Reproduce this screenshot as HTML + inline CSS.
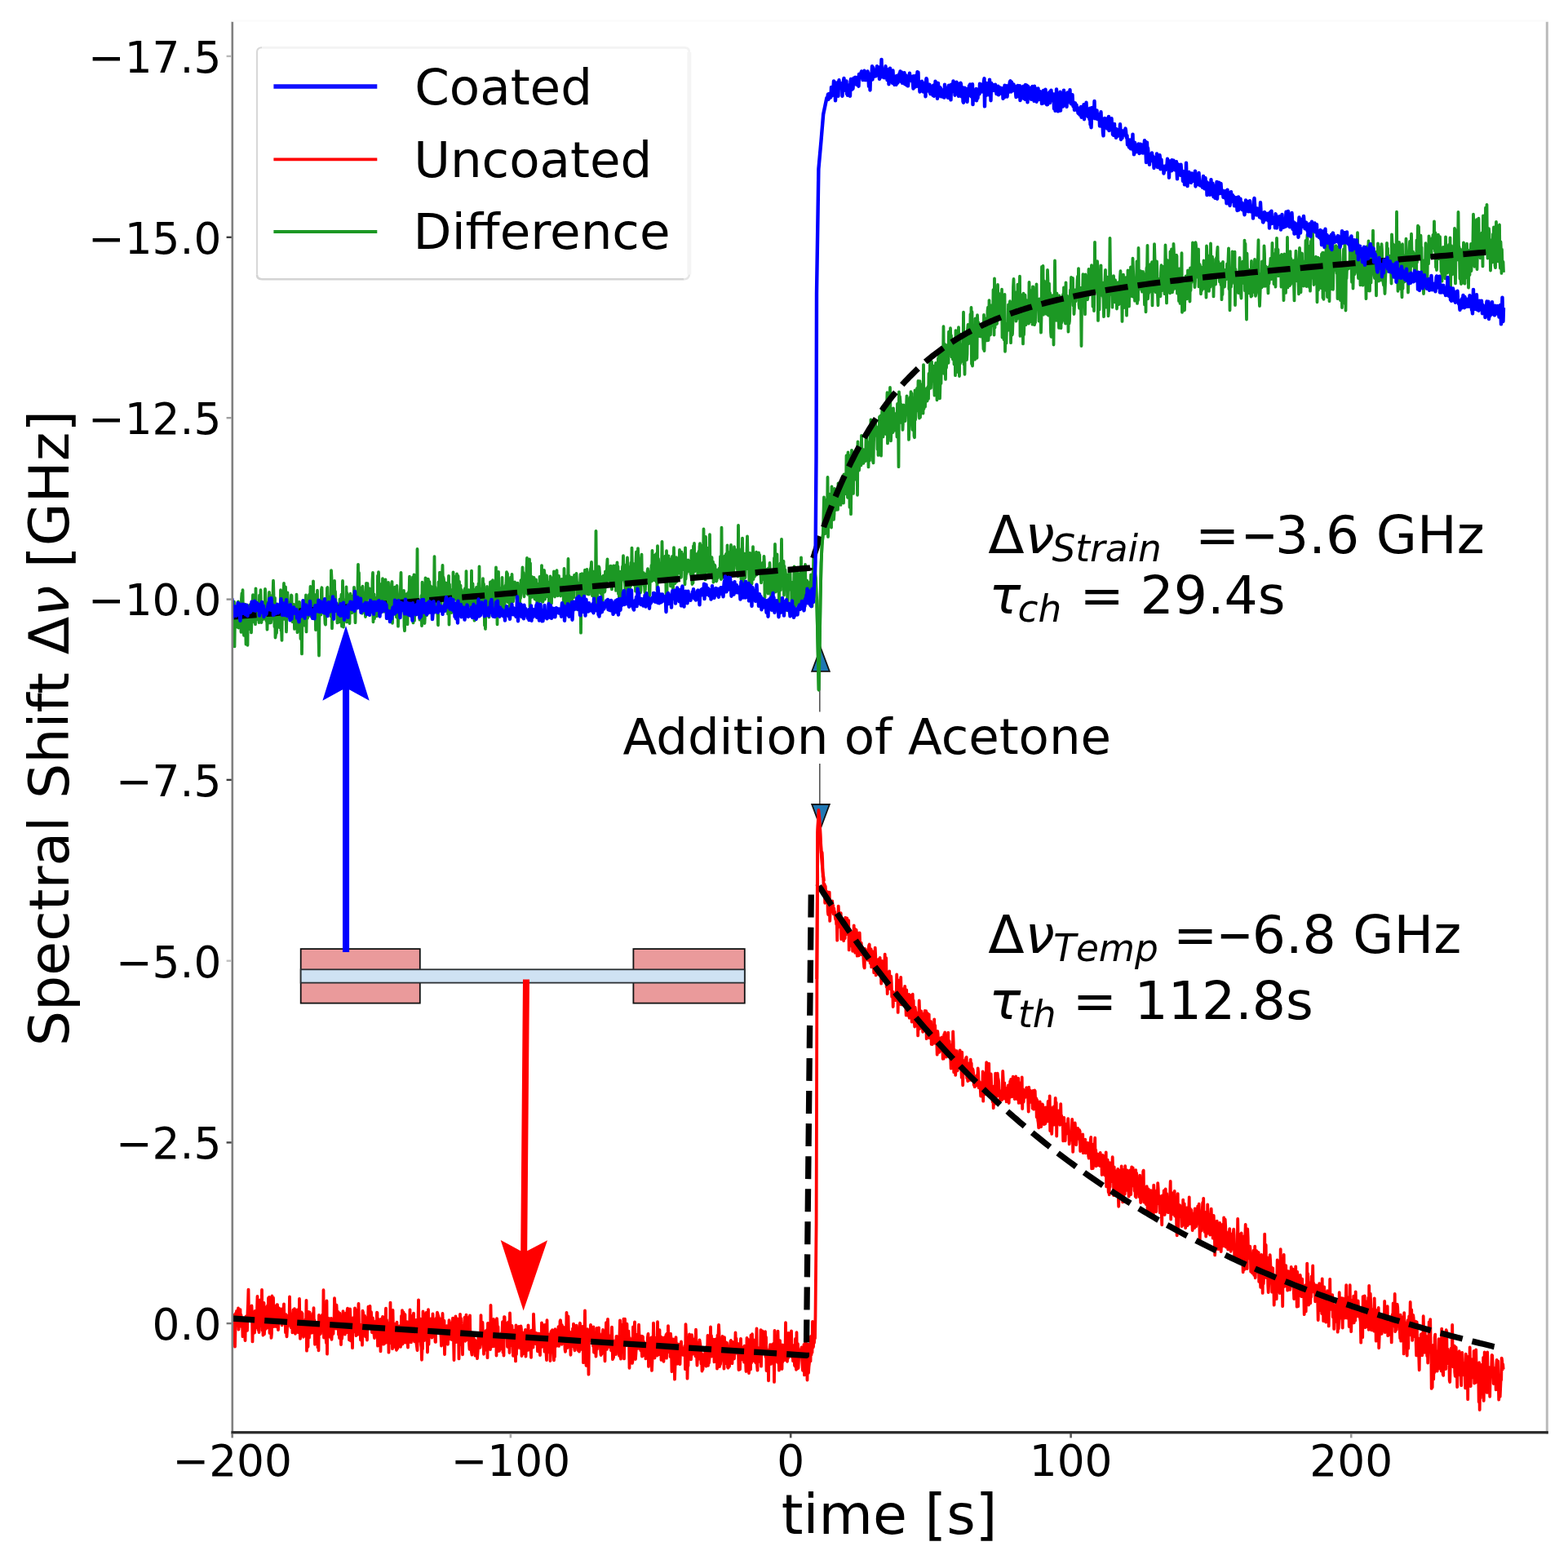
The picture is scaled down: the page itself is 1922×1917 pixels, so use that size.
<!DOCTYPE html>
<html lang="en"><head><meta charset="utf-8"><title>Spectral shift vs time</title>
<style>html,body{margin:0;padding:0;background:#fff;}svg{display:block;}text{font-family:"DejaVu Sans","Liberation Sans",sans-serif;fill:#000;}.it{font-style:italic;}</style></head><body>
<svg width="1922" height="1917" viewBox="0 0 1922 1917">
<rect width="1922" height="1917" fill="#fff"/>
<defs><clipPath id="ax"><rect x="284.8" y="26.5" width="1611.5" height="1729.2"/></clipPath></defs>
<g clip-path="url(#ax)" fill="none" stroke-linejoin="round">
<polyline stroke="#ff0000" stroke-width="3.8" points="280.0,1624.8 280.5,1601.0 281.0,1639.7 281.5,1643.1 282.0,1629.4 282.5,1616.6 283.0,1608.7 283.5,1616.8 284.0,1597.3 284.5,1630.4 285.0,1630.6 285.5,1611.3 286.0,1645.9 286.5,1635.0 287.0,1643.6 287.5,1630.7 288.0,1650.6 288.5,1629.0 289.0,1609.6 289.5,1624.6 290.0,1606.9 290.5,1609.6 291.0,1621.5 291.5,1607.3 292.0,1603.5 292.5,1629.6 293.0,1618.9 293.5,1620.5 294.0,1625.2 294.5,1605.2 295.0,1625.5 295.5,1611.7 296.0,1626.0 296.5,1624.5 297.0,1619.5 297.5,1638.1 298.0,1620.0 298.5,1626.1 299.0,1620.0 299.5,1622.6 300.0,1633.7 300.5,1643.2 301.0,1619.8 301.5,1613.4 302.0,1613.4 302.5,1615.8 303.0,1630.9 303.5,1608.9 304.0,1598.3 304.5,1580.6 305.0,1613.1 305.5,1614.6 306.0,1608.8 306.5,1610.5 307.0,1612.2 307.5,1602.9 308.0,1612.6 308.5,1600.5 309.0,1611.2 309.5,1644.4 310.0,1622.2 310.5,1615.7 311.0,1614.1 311.5,1615.9 312.0,1633.6 312.5,1607.0 313.0,1617.4 313.5,1612.3 314.0,1627.2 314.5,1619.5 315.0,1605.6 315.5,1589.0 316.0,1623.5 316.5,1630.1 317.0,1606.6 317.5,1633.0 318.0,1597.0 318.5,1598.7 319.0,1593.5 319.5,1623.8 320.0,1612.9 320.5,1626.0 321.0,1581.0 321.5,1630.6 322.0,1615.7 322.5,1636.6 323.0,1622.3 323.5,1596.8 324.0,1635.2 324.5,1614.9 325.0,1629.8 325.5,1602.4 326.0,1621.0 326.5,1627.3 327.0,1627.7 327.5,1624.2 328.0,1600.1 328.5,1612.4 329.0,1591.0 329.5,1617.0 330.0,1589.9 330.5,1633.9 331.0,1602.1 331.5,1621.9 332.0,1599.0 332.5,1639.9 333.0,1634.4 333.5,1588.5 334.0,1591.3 334.5,1615.9 335.0,1590.7 335.5,1609.9 336.0,1626.0 336.5,1600.6 337.0,1605.8 337.5,1607.0 338.0,1614.7 338.5,1626.2 339.0,1622.9 339.5,1599.1 340.0,1599.1 340.5,1616.3 341.0,1630.2 341.5,1607.6 342.0,1603.4 342.5,1610.0 343.0,1612.2 343.5,1617.7 344.0,1612.2 344.5,1617.8 345.0,1604.5 345.5,1624.3 346.0,1621.5 346.5,1620.1 347.0,1615.9 347.5,1606.6 348.0,1598.4 348.5,1617.4 349.0,1611.2 349.5,1611.0 350.0,1633.3 350.5,1611.2 351.0,1631.7 351.5,1638.4 352.0,1629.3 352.5,1612.9 353.0,1625.0 353.5,1615.3 354.0,1622.4 354.5,1623.3 355.0,1589.5 355.5,1617.5 356.0,1622.4 356.5,1627.0 357.0,1624.6 357.5,1622.7 358.0,1618.2 358.5,1633.4 359.0,1611.6 359.5,1605.5 360.0,1619.2 360.5,1616.2 361.0,1604.2 361.5,1629.1 362.0,1634.8 362.5,1622.0 363.0,1620.1 363.5,1622.2 364.0,1630.3 364.5,1605.4 365.0,1618.2 365.5,1633.2 366.0,1607.0 366.5,1626.5 367.0,1591.9 367.5,1630.2 368.0,1640.8 368.5,1630.0 369.0,1627.3 369.5,1608.5 370.0,1609.8 370.5,1609.9 371.0,1635.4 371.5,1621.2 372.0,1638.8 372.5,1621.7 373.0,1633.1 373.5,1630.3 374.0,1622.6 374.5,1617.1 375.0,1632.7 375.5,1593.8 376.0,1655.7 376.5,1617.8 377.0,1631.6 377.5,1650.8 378.0,1607.8 378.5,1613.0 379.0,1639.4 379.5,1608.3 380.0,1623.5 380.5,1624.0 381.0,1628.9 381.5,1623.4 382.0,1633.8 382.5,1616.6 383.0,1626.3 383.5,1609.8 384.0,1633.4 384.5,1603.1 385.0,1631.9 385.5,1618.2 386.0,1647.8 386.5,1632.9 387.0,1635.7 387.5,1621.8 388.0,1634.2 388.5,1641.2 389.0,1636.5 389.5,1651.4 390.0,1630.2 390.5,1655.3 391.0,1612.0 391.5,1623.8 392.0,1627.3 392.5,1625.4 393.0,1635.0 393.5,1623.8 394.0,1613.2 394.5,1623.9 395.0,1611.6 395.5,1627.5 396.0,1630.8 396.5,1581.2 397.0,1639.5 397.5,1616.7 398.0,1623.6 398.5,1628.8 399.0,1625.0 399.5,1639.7 400.0,1646.2 400.5,1594.4 401.0,1659.6 401.5,1624.2 402.0,1629.9 402.5,1625.4 403.0,1616.0 403.5,1625.8 404.0,1628.8 404.5,1629.2 405.0,1639.2 405.5,1633.0 406.0,1616.0 406.5,1641.8 407.0,1633.1 407.5,1617.2 408.0,1632.0 408.5,1635.0 409.0,1620.2 409.5,1621.4 410.0,1591.2 410.5,1599.4 411.0,1617.0 411.5,1617.7 412.0,1628.7 412.5,1599.7 413.0,1609.2 413.5,1620.5 414.0,1608.0 414.5,1607.9 415.0,1635.8 415.5,1621.4 416.0,1640.0 416.5,1609.7 417.0,1634.4 417.5,1635.1 418.0,1648.2 418.5,1625.8 419.0,1641.1 419.5,1636.8 420.0,1623.3 420.5,1607.1 421.0,1615.3 421.5,1615.0 422.0,1619.7 422.5,1630.1 423.0,1635.5 423.5,1609.8 424.0,1631.0 424.5,1632.1 425.0,1633.0 425.5,1607.1 426.0,1603.7 426.5,1629.7 427.0,1619.4 427.5,1621.0 428.0,1642.3 428.5,1614.1 429.0,1604.4 429.5,1614.3 430.0,1643.4 430.5,1621.8 431.0,1630.9 431.5,1634.6 432.0,1652.2 432.5,1615.3 433.0,1628.8 433.5,1627.9 434.0,1621.0 434.5,1627.4 435.0,1603.4 435.5,1632.4 436.0,1608.4 436.5,1637.1 437.0,1623.2 437.5,1605.7 438.0,1621.3 438.5,1635.8 439.0,1614.7 439.5,1597.8 440.0,1621.8 440.5,1624.2 441.0,1623.9 441.5,1628.7 442.0,1642.5 442.5,1639.9 443.0,1642.8 443.5,1623.4 444.0,1648.7 444.5,1606.7 445.0,1608.3 445.5,1612.3 446.0,1623.8 446.5,1629.0 447.0,1612.6 447.5,1625.1 448.0,1638.4 448.5,1634.7 449.0,1630.3 449.5,1637.6 450.0,1642.5 450.5,1614.7 451.0,1623.0 451.5,1601.6 452.0,1611.5 452.5,1611.6 453.0,1617.3 453.5,1600.9 454.0,1620.5 454.5,1623.4 455.0,1608.1 455.5,1617.6 456.0,1633.1 456.5,1633.2 457.0,1615.5 457.5,1620.5 458.0,1625.0 458.5,1635.6 459.0,1640.1 459.5,1621.2 460.0,1619.9 460.5,1630.6 461.0,1619.1 461.5,1631.6 462.0,1608.7 462.5,1609.1 463.0,1649.7 463.5,1631.7 464.0,1616.8 464.5,1642.8 465.0,1630.3 465.5,1630.2 466.0,1630.8 466.5,1656.3 467.0,1618.4 467.5,1616.6 468.0,1637.0 468.5,1636.9 469.0,1614.0 469.5,1620.9 470.0,1647.7 470.5,1642.3 471.0,1647.1 471.5,1626.2 472.0,1632.7 472.5,1616.6 473.0,1603.6 473.5,1645.5 474.0,1617.9 474.5,1631.4 475.0,1621.1 475.5,1632.9 476.0,1625.2 476.5,1657.6 477.0,1635.4 477.5,1624.7 478.0,1631.6 478.5,1596.6 479.0,1637.1 479.5,1620.3 480.0,1646.1 480.5,1617.8 481.0,1653.2 481.5,1605.9 482.0,1629.2 482.5,1651.2 483.0,1644.1 483.5,1628.8 484.0,1645.7 484.5,1622.9 485.0,1646.2 485.5,1651.8 486.0,1654.8 486.5,1620.6 487.0,1653.3 487.5,1652.2 488.0,1638.0 488.5,1638.1 489.0,1641.0 489.5,1625.5 490.0,1634.3 490.5,1646.1 491.0,1650.9 491.5,1638.3 492.0,1613.0 492.5,1642.3 493.0,1606.1 493.5,1647.5 494.0,1639.7 494.5,1608.3 495.0,1643.5 495.5,1641.5 496.0,1626.1 496.5,1611.2 497.0,1645.6 497.5,1634.3 498.0,1624.4 498.5,1641.8 499.0,1620.2 499.5,1643.2 500.0,1651.7 500.5,1620.6 501.0,1622.8 501.5,1640.4 502.0,1630.4 502.5,1605.3 503.0,1645.0 503.5,1623.3 504.0,1645.3 504.5,1612.8 505.0,1637.0 505.5,1641.4 506.0,1638.8 506.5,1619.4 507.0,1609.7 507.5,1641.4 508.0,1644.3 508.5,1634.3 509.0,1638.1 509.5,1623.3 510.0,1617.8 510.5,1647.2 511.0,1651.0 511.5,1655.1 512.0,1635.0 512.5,1617.1 513.0,1593.3 513.5,1631.9 514.0,1643.6 514.5,1638.0 515.0,1637.8 515.5,1616.7 516.0,1648.0 516.5,1651.7 517.0,1666.8 517.5,1650.4 518.0,1653.4 518.5,1607.4 519.0,1613.7 519.5,1613.7 520.0,1643.2 520.5,1631.4 521.0,1616.5 521.5,1617.2 522.0,1638.9 522.5,1609.0 523.0,1636.2 523.5,1639.8 524.0,1657.5 524.5,1631.1 525.0,1605.2 525.5,1647.9 526.0,1632.0 526.5,1628.4 527.0,1619.7 527.5,1629.7 528.0,1616.5 528.5,1618.7 529.0,1616.9 529.5,1639.6 530.0,1635.5 530.5,1610.3 531.0,1627.3 531.5,1621.8 532.0,1631.1 532.5,1635.5 533.0,1626.2 533.5,1644.8 534.0,1644.9 534.5,1616.0 535.0,1629.6 535.5,1615.8 536.0,1608.7 536.5,1610.4 537.0,1612.4 537.5,1613.5 538.0,1633.3 538.5,1630.1 539.0,1616.9 539.5,1616.5 540.0,1633.1 540.5,1637.5 541.0,1649.7 541.5,1633.7 542.0,1635.9 542.5,1610.0 543.0,1625.8 543.5,1635.5 544.0,1620.1 544.5,1618.7 545.0,1660.1 545.5,1645.3 546.0,1631.6 546.5,1644.5 547.0,1636.6 547.5,1625.2 548.0,1632.0 548.5,1631.1 549.0,1647.8 549.5,1631.8 550.0,1633.3 550.5,1618.2 551.0,1620.4 551.5,1631.5 552.0,1632.6 552.5,1641.6 553.0,1641.8 553.5,1638.4 554.0,1621.6 554.5,1642.1 555.0,1615.6 555.5,1637.4 556.0,1642.9 556.5,1667.0 557.0,1628.9 557.5,1635.5 558.0,1633.2 558.5,1613.5 559.0,1645.1 559.5,1626.4 560.0,1640.9 560.5,1616.3 561.0,1638.7 561.5,1642.6 562.0,1635.5 562.5,1665.4 563.0,1640.9 563.5,1648.2 564.0,1610.9 564.5,1648.1 565.0,1615.8 565.5,1622.4 566.0,1626.7 566.5,1631.0 567.0,1660.3 567.5,1634.6 568.0,1636.9 568.5,1627.7 569.0,1634.7 569.5,1614.8 570.0,1642.2 570.5,1643.7 571.0,1619.8 571.5,1611.7 572.0,1629.7 572.5,1640.5 573.0,1626.3 573.5,1615.7 574.0,1642.5 574.5,1615.0 575.0,1646.3 575.5,1653.9 576.0,1612.4 576.5,1646.3 577.0,1647.3 577.5,1646.9 578.0,1657.6 578.5,1660.6 579.0,1642.8 579.5,1641.7 580.0,1638.8 580.5,1636.7 581.0,1655.4 581.5,1649.7 582.0,1642.1 582.5,1661.7 583.0,1660.2 583.5,1657.2 584.0,1644.2 584.5,1646.0 585.0,1665.2 585.5,1659.3 586.0,1652.7 586.5,1634.2 587.0,1635.8 587.5,1639.0 588.0,1637.5 588.5,1651.8 589.0,1647.6 589.5,1612.1 590.0,1639.8 590.5,1645.5 591.0,1624.8 591.5,1621.0 592.0,1638.8 592.5,1638.0 593.0,1659.8 593.5,1641.2 594.0,1651.7 594.5,1654.8 595.0,1652.0 595.5,1631.2 596.0,1639.9 596.5,1633.4 597.0,1629.8 597.5,1664.2 598.0,1621.8 598.5,1623.5 599.0,1626.1 599.5,1642.2 600.0,1638.6 600.5,1646.3 601.0,1654.2 601.5,1599.8 602.0,1626.8 602.5,1639.4 603.0,1650.6 603.5,1650.0 604.0,1623.3 604.5,1631.8 605.0,1617.0 605.5,1650.2 606.0,1640.5 606.5,1649.4 607.0,1642.7 607.5,1629.7 608.0,1618.7 608.5,1661.5 609.0,1616.2 609.5,1622.4 610.0,1656.3 610.5,1626.1 611.0,1647.0 611.5,1655.5 612.0,1655.8 612.5,1646.8 613.0,1640.9 613.5,1653.7 614.0,1643.4 614.5,1645.2 615.0,1633.7 615.5,1632.4 616.0,1620.1 616.5,1657.6 617.0,1639.8 617.5,1661.5 618.0,1614.2 618.5,1614.1 619.0,1627.1 619.5,1621.4 620.0,1629.8 620.5,1624.5 621.0,1625.9 621.5,1631.8 622.0,1650.8 622.5,1640.8 623.0,1620.5 623.5,1631.9 624.0,1631.2 624.5,1658.0 625.0,1609.5 625.5,1624.1 626.0,1639.6 626.5,1627.7 627.0,1649.1 627.5,1624.9 628.0,1635.4 628.5,1647.6 629.0,1661.8 629.5,1654.8 630.0,1634.2 630.5,1654.4 631.0,1630.5 631.5,1637.7 632.0,1668.4 632.5,1624.3 633.0,1659.9 633.5,1628.8 634.0,1652.8 634.5,1643.3 635.0,1650.4 635.5,1648.0 636.0,1625.8 636.5,1642.6 637.0,1650.9 637.5,1639.9 638.0,1652.9 638.5,1625.5 639.0,1629.2 639.5,1662.0 640.0,1645.8 640.5,1645.6 641.0,1647.6 641.5,1659.3 642.0,1633.3 642.5,1654.1 643.0,1642.4 643.5,1640.9 644.0,1629.9 644.5,1662.6 645.0,1648.8 645.5,1638.6 646.0,1641.4 646.5,1634.9 647.0,1654.9 647.5,1624.3 648.0,1635.6 648.5,1642.0 649.0,1647.1 649.5,1634.1 650.0,1632.1 650.5,1653.2 651.0,1663.9 651.5,1630.7 652.0,1638.7 652.5,1636.7 653.0,1632.0 653.5,1651.6 654.0,1610.6 654.5,1622.5 655.0,1635.5 655.5,1643.7 656.0,1645.2 656.5,1647.1 657.0,1646.6 657.5,1633.8 658.0,1636.5 658.5,1646.1 659.0,1656.3 659.5,1655.8 660.0,1637.5 660.5,1634.5 661.0,1656.9 661.5,1649.4 662.0,1661.1 662.5,1641.9 663.0,1638.4 663.5,1649.4 664.0,1621.4 664.5,1650.8 665.0,1633.4 665.5,1627.0 666.0,1638.2 666.5,1624.1 667.0,1632.0 667.5,1656.6 668.0,1623.9 668.5,1643.2 669.0,1629.1 669.5,1658.6 670.0,1667.2 670.5,1618.2 671.0,1649.2 671.5,1647.8 672.0,1656.1 672.5,1657.3 673.0,1650.3 673.5,1653.3 674.0,1635.1 674.5,1668.0 675.0,1651.8 675.5,1632.0 676.0,1640.7 676.5,1642.7 677.0,1630.1 677.5,1637.7 678.0,1634.3 678.5,1656.7 679.0,1667.4 679.5,1649.8 680.0,1663.1 680.5,1629.1 681.0,1643.0 681.5,1635.6 682.0,1649.9 682.5,1630.3 683.0,1638.1 683.5,1639.1 684.0,1634.1 684.5,1626.1 685.0,1649.9 685.5,1626.5 686.0,1641.0 686.5,1619.5 687.0,1618.2 687.5,1622.4 688.0,1624.7 688.5,1647.8 689.0,1624.5 689.5,1627.9 690.0,1626.3 690.5,1640.0 691.0,1646.8 691.5,1627.1 692.0,1632.3 692.5,1654.0 693.0,1656.8 693.5,1641.2 694.0,1640.2 694.5,1608.8 695.0,1629.7 695.5,1652.1 696.0,1630.6 696.5,1613.5 697.0,1635.4 697.5,1631.7 698.0,1646.3 698.5,1638.4 699.0,1642.7 699.5,1660.8 700.0,1637.5 700.5,1632.9 701.0,1644.1 701.5,1645.8 702.0,1628.4 702.5,1650.1 703.0,1622.6 703.5,1629.9 704.0,1652.0 704.5,1655.3 705.0,1633.6 705.5,1649.4 706.0,1634.0 706.5,1624.6 707.0,1631.9 707.5,1645.1 708.0,1643.8 708.5,1655.2 709.0,1638.9 709.5,1652.1 710.0,1656.7 710.5,1623.5 711.0,1621.8 711.5,1633.7 712.0,1649.5 712.5,1653.8 713.0,1628.5 713.5,1633.1 714.0,1625.8 714.5,1631.4 715.0,1670.2 715.5,1640.6 716.0,1627.9 716.5,1632.7 717.0,1606.4 717.5,1655.2 718.0,1643.7 718.5,1673.8 719.0,1667.9 719.5,1633.6 720.0,1629.2 720.5,1630.0 721.0,1660.5 721.5,1684.6 722.0,1642.4 722.5,1641.1 723.0,1643.6 723.5,1635.1 724.0,1623.8 724.5,1635.8 725.0,1626.9 725.5,1642.7 726.0,1638.6 726.5,1637.7 727.0,1649.8 727.5,1626.5 728.0,1657.5 728.5,1653.8 729.0,1658.0 729.5,1637.7 730.0,1646.9 730.5,1662.7 731.0,1652.9 731.5,1627.8 732.0,1653.6 732.5,1637.9 733.0,1643.8 733.5,1645.0 734.0,1627.3 734.5,1638.2 735.0,1634.7 735.5,1636.7 736.0,1653.4 736.5,1661.0 737.0,1655.4 737.5,1659.6 738.0,1649.1 738.5,1646.6 739.0,1630.0 739.5,1656.7 740.0,1646.4 740.5,1651.9 741.0,1648.1 741.5,1668.3 742.0,1636.0 742.5,1642.0 743.0,1621.2 743.5,1638.6 744.0,1653.8 744.5,1643.8 745.0,1616.9 745.5,1633.2 746.0,1648.6 746.5,1645.6 747.0,1637.1 747.5,1651.1 748.0,1642.5 748.5,1645.7 749.0,1655.2 749.5,1655.5 750.0,1626.6 750.5,1643.8 751.0,1666.1 751.5,1652.6 752.0,1664.2 752.5,1643.7 753.0,1658.4 753.5,1646.6 754.0,1643.3 754.5,1649.8 755.0,1660.2 755.5,1637.8 756.0,1644.5 756.5,1638.1 757.0,1641.2 757.5,1644.6 758.0,1642.6 758.5,1644.3 759.0,1661.6 759.5,1635.2 760.0,1618.3 760.5,1663.1 761.0,1665.6 761.5,1623.8 762.0,1634.0 762.5,1649.9 763.0,1636.7 763.5,1631.5 764.0,1626.8 764.5,1616.7 765.0,1665.4 765.5,1636.4 766.0,1616.7 766.5,1644.1 767.0,1649.4 767.5,1640.6 768.0,1645.2 768.5,1622.7 769.0,1646.4 769.5,1638.2 770.0,1636.1 770.5,1631.7 771.0,1642.8 771.5,1676.8 772.0,1640.0 772.5,1645.3 773.0,1643.4 773.5,1644.0 774.0,1666.4 774.5,1656.8 775.0,1670.9 775.5,1668.1 776.0,1626.3 776.5,1660.7 777.0,1646.1 777.5,1628.5 778.0,1620.3 778.5,1646.4 779.0,1666.0 779.5,1658.3 780.0,1648.8 780.5,1635.9 781.0,1645.6 781.5,1651.5 782.0,1652.7 782.5,1640.6 783.0,1623.6 783.5,1636.4 784.0,1652.7 784.5,1645.0 785.0,1653.9 785.5,1655.5 786.0,1637.7 786.5,1654.4 787.0,1662.6 787.5,1638.0 788.0,1638.6 788.5,1661.5 789.0,1644.5 789.5,1651.4 790.0,1647.7 790.5,1648.4 791.0,1647.6 791.5,1665.4 792.0,1656.4 792.5,1653.0 793.0,1657.4 793.5,1646.2 794.0,1638.2 794.5,1634.9 795.0,1674.9 795.5,1643.3 796.0,1640.2 796.5,1661.5 797.0,1665.2 797.5,1663.6 798.0,1663.1 798.5,1639.4 799.0,1679.9 799.5,1668.1 800.0,1649.4 800.5,1649.3 801.0,1621.6 801.5,1639.1 802.0,1662.7 802.5,1664.5 803.0,1646.4 803.5,1639.9 804.0,1648.5 804.5,1646.8 805.0,1649.7 805.5,1661.7 806.0,1620.2 806.5,1653.3 807.0,1633.1 807.5,1660.4 808.0,1639.8 808.5,1630.1 809.0,1655.9 809.5,1656.8 810.0,1638.4 810.5,1666.9 811.0,1642.1 811.5,1643.1 812.0,1649.5 812.5,1644.4 813.0,1639.6 813.5,1668.8 814.0,1643.1 814.5,1654.1 815.0,1641.0 815.5,1638.9 816.0,1643.0 816.5,1635.8 817.0,1664.7 817.5,1634.7 818.0,1651.3 818.5,1655.7 819.0,1625.1 819.5,1657.1 820.0,1639.0 820.5,1646.2 821.0,1638.5 821.5,1662.9 822.0,1634.7 822.5,1640.0 823.0,1657.0 823.5,1681.1 824.0,1667.6 824.5,1671.7 825.0,1641.5 825.5,1669.9 826.0,1653.3 826.5,1652.8 827.0,1690.7 827.5,1676.0 828.0,1657.8 828.5,1639.1 829.0,1655.7 829.5,1664.6 830.0,1657.0 830.5,1671.7 831.0,1647.3 831.5,1661.9 832.0,1667.7 832.5,1653.0 833.0,1647.6 833.5,1672.1 834.0,1655.6 834.5,1660.2 835.0,1644.3 835.5,1658.3 836.0,1660.3 836.5,1660.5 837.0,1657.7 837.5,1660.9 838.0,1653.3 838.5,1659.0 839.0,1651.6 839.5,1649.4 840.0,1678.2 840.5,1623.1 841.0,1635.7 841.5,1656.4 842.0,1651.0 842.5,1689.7 843.0,1668.6 843.5,1674.3 844.0,1645.9 844.5,1649.5 845.0,1635.4 845.5,1643.8 846.0,1664.7 846.5,1644.8 847.0,1666.3 847.5,1658.8 848.0,1636.1 848.5,1639.7 849.0,1647.3 849.5,1659.6 850.0,1642.6 850.5,1641.6 851.0,1651.0 851.5,1654.5 852.0,1654.7 852.5,1662.4 853.0,1629.7 853.5,1648.9 854.0,1661.1 854.5,1673.6 855.0,1664.1 855.5,1654.9 856.0,1658.8 856.5,1645.2 857.0,1665.6 857.5,1642.4 858.0,1645.6 858.5,1648.8 859.0,1659.6 859.5,1671.7 860.0,1658.8 860.5,1680.5 861.0,1674.5 861.5,1678.5 862.0,1669.1 862.5,1665.7 863.0,1660.4 863.5,1672.5 864.0,1662.0 864.5,1654.7 865.0,1671.1 865.5,1674.6 866.0,1657.5 866.5,1650.5 867.0,1659.2 867.5,1636.8 868.0,1673.8 868.5,1654.9 869.0,1670.5 869.5,1665.8 870.0,1652.5 870.5,1655.4 871.0,1626.5 871.5,1651.1 872.0,1637.2 872.5,1662.5 873.0,1650.9 873.5,1660.0 874.0,1647.6 874.5,1641.6 875.0,1641.9 875.5,1669.4 876.0,1658.0 876.5,1650.0 877.0,1654.3 877.5,1641.3 878.0,1653.1 878.5,1644.8 879.0,1677.5 879.5,1636.6 880.0,1652.6 880.5,1636.2 881.0,1623.9 881.5,1633.2 882.0,1675.1 882.5,1665.3 883.0,1672.3 883.5,1668.4 884.0,1653.1 884.5,1643.6 885.0,1646.2 885.5,1638.0 886.0,1653.2 886.5,1649.7 887.0,1649.1 887.5,1677.6 888.0,1639.2 888.5,1657.1 889.0,1644.6 889.5,1650.1 890.0,1651.7 890.5,1671.2 891.0,1645.8 891.5,1655.2 892.0,1675.8 892.5,1676.7 893.0,1659.1 893.5,1659.1 894.0,1674.9 894.5,1660.9 895.0,1648.8 895.5,1643.9 896.0,1643.0 896.5,1655.0 897.0,1649.0 897.5,1671.1 898.0,1644.8 898.5,1666.2 899.0,1656.8 899.5,1653.9 900.0,1665.3 900.5,1655.6 901.0,1655.1 901.5,1633.5 902.0,1653.4 902.5,1640.6 903.0,1658.5 903.5,1656.8 904.0,1656.8 904.5,1646.9 905.0,1654.5 905.5,1679.0 906.0,1673.7 906.5,1658.9 907.0,1678.5 907.5,1659.0 908.0,1640.9 908.5,1657.9 909.0,1660.8 909.5,1651.3 910.0,1654.7 910.5,1666.7 911.0,1652.8 911.5,1663.5 912.0,1669.6 912.5,1649.6 913.0,1656.2 913.5,1649.9 914.0,1668.1 914.5,1681.0 915.0,1671.7 915.5,1639.9 916.0,1674.2 916.5,1648.9 917.0,1661.4 917.5,1642.2 918.0,1683.0 918.5,1660.9 919.0,1652.0 919.5,1660.9 920.0,1678.6 920.5,1636.6 921.0,1670.6 921.5,1659.3 922.0,1635.2 922.5,1662.4 923.0,1668.0 923.5,1652.9 924.0,1642.4 924.5,1647.8 925.0,1658.1 925.5,1668.8 926.0,1661.4 926.5,1670.7 927.0,1645.7 927.5,1628.5 928.0,1674.3 928.5,1679.7 929.0,1651.9 929.5,1659.6 930.0,1658.4 930.5,1668.8 931.0,1664.0 931.5,1661.4 932.0,1656.8 932.5,1630.1 933.0,1674.7 933.5,1638.0 934.0,1643.1 934.5,1631.3 935.0,1644.8 935.5,1639.6 936.0,1638.9 936.5,1639.0 937.0,1657.5 937.5,1653.9 938.0,1632.1 938.5,1663.1 939.0,1638.9 939.5,1680.0 940.0,1655.5 940.5,1659.0 941.0,1654.9 941.5,1664.8 942.0,1692.3 942.5,1661.0 943.0,1660.7 943.5,1652.3 944.0,1648.2 944.5,1669.4 945.0,1671.9 945.5,1648.3 946.0,1653.7 946.5,1651.9 947.0,1647.9 947.5,1656.4 948.0,1647.4 948.5,1646.5 949.0,1693.9 949.5,1630.9 950.0,1655.3 950.5,1667.2 951.0,1650.7 951.5,1643.5 952.0,1661.3 952.5,1663.3 953.0,1669.8 953.5,1631.6 954.0,1653.7 954.5,1664.7 955.0,1679.6 955.5,1668.1 956.0,1643.1 956.5,1658.3 957.0,1653.3 957.5,1660.9 958.0,1665.9 958.5,1678.0 959.0,1648.5 959.5,1669.2 960.0,1653.9 960.5,1649.2 961.0,1649.6 961.5,1650.7 962.0,1667.0 962.5,1663.6 963.0,1621.2 963.5,1655.5 964.0,1666.0 964.5,1664.8 965.0,1668.8 965.5,1655.3 966.0,1664.7 966.5,1633.8 967.0,1654.4 967.5,1643.9 968.0,1634.4 968.5,1637.1 969.0,1653.6 969.5,1662.6 970.0,1631.4 970.5,1653.4 971.0,1663.1 971.5,1648.6 972.0,1668.1 972.5,1649.6 973.0,1663.7 973.5,1659.2 974.0,1673.6 974.5,1674.3 975.0,1641.0 975.5,1672.3 976.0,1678.8 976.5,1633.2 977.0,1677.8 977.5,1666.0 978.0,1647.2 978.5,1677.0 979.0,1667.7 979.5,1654.2 980.0,1656.3 980.5,1657.1 981.0,1660.5 981.5,1660.4 982.0,1659.8 982.5,1651.4 983.0,1665.5 983.5,1673.0 984.0,1679.9 984.5,1659.9 985.0,1657.1 985.5,1647.9 986.0,1685.4 986.5,1681.0 987.0,1651.2 987.5,1642.5 988.0,1664.5 988.5,1654.2 989.0,1672.7 989.5,1691.5 990.0,1661.7 990.5,1647.6 991.0,1683.0 991.5,1675.4 992.0,1671.0 992.5,1665.3 993.0,1660.4 993.5,1668.4 994.0,1637.8 994.5,1660.7 995.0,1654.7 995.5,1657.8 996.0,1619.8 996.5,1651.9 997.0,1650.6 997.5,1635.4 998.0,1646.0 998.5,1629.4 999.0,1640.4 999.5,1612.5 1000.6,1500.0 1001.4,1200.0 1002.3,1020.0 1003.6,993.0 1004.2,991.8 1004.7,1011.2 1005.2,1015.6 1005.7,1029.8 1006.2,1034.5 1006.7,1045.0 1007.2,1048.8 1007.7,1045.0 1008.2,1054.5 1008.7,1074.6 1009.2,1073.8 1009.7,1092.1 1010.2,1095.0 1010.7,1083.9 1011.2,1106.8 1011.7,1086.2 1012.2,1093.9 1012.7,1104.2 1013.2,1106.1 1013.7,1106.4 1014.2,1093.1 1014.7,1117.3 1015.2,1121.1 1015.7,1118.0 1016.2,1115.8 1016.7,1093.7 1017.2,1128.9 1017.7,1117.1 1018.2,1105.1 1018.7,1117.9 1019.2,1112.8 1019.7,1113.4 1020.2,1104.3 1020.7,1111.2 1021.2,1109.5 1021.7,1120.4 1022.2,1113.5 1022.7,1119.3 1023.2,1117.5 1023.7,1124.1 1024.2,1126.9 1024.7,1122.2 1025.2,1132.8 1025.7,1124.1 1026.2,1152.6 1026.7,1135.2 1027.2,1136.9 1027.7,1110.6 1028.2,1121.3 1028.7,1125.9 1029.2,1132.4 1029.7,1132.4 1030.2,1135.6 1030.7,1119.2 1031.2,1151.1 1031.7,1134.4 1032.2,1139.6 1032.7,1135.6 1033.2,1135.2 1033.7,1135.7 1034.2,1153.1 1034.7,1132.6 1035.2,1141.8 1035.7,1150.3 1036.2,1124.7 1036.7,1130.1 1037.2,1128.7 1037.7,1145.2 1038.2,1125.3 1038.7,1139.2 1039.2,1142.8 1039.7,1140.5 1040.2,1128.2 1040.7,1164.4 1041.2,1139.0 1041.7,1140.8 1042.2,1159.7 1042.7,1145.3 1043.2,1146.8 1043.7,1142.7 1044.2,1148.7 1044.7,1154.6 1045.2,1165.8 1045.7,1152.4 1046.2,1155.3 1046.7,1134.4 1047.2,1156.8 1047.7,1165.2 1048.2,1167.7 1048.7,1139.1 1049.2,1147.0 1049.7,1140.0 1050.2,1156.6 1050.7,1171.6 1051.2,1143.5 1051.7,1164.4 1052.2,1153.8 1052.7,1171.4 1053.2,1155.4 1053.7,1143.5 1054.2,1157.9 1054.7,1160.6 1055.2,1158.1 1055.7,1155.9 1056.2,1170.1 1056.7,1169.7 1057.2,1161.5 1057.7,1170.7 1058.2,1170.1 1058.7,1179.9 1059.2,1185.2 1059.7,1186.4 1060.2,1162.9 1060.7,1174.0 1061.2,1166.2 1061.7,1174.3 1062.2,1174.5 1062.7,1168.4 1063.2,1166.3 1063.7,1176.8 1064.2,1163.4 1064.7,1162.5 1065.2,1158.6 1065.7,1157.6 1066.2,1176.2 1066.7,1180.6 1067.2,1167.0 1067.7,1163.5 1068.2,1185.4 1068.7,1168.1 1069.2,1166.1 1069.7,1170.5 1070.2,1182.7 1070.7,1176.6 1071.2,1192.2 1071.7,1185.6 1072.2,1179.6 1072.7,1161.6 1073.2,1170.8 1073.7,1195.4 1074.2,1194.7 1074.7,1189.1 1075.2,1190.6 1075.7,1185.1 1076.2,1184.8 1076.7,1175.8 1077.2,1192.1 1077.7,1190.0 1078.2,1175.1 1078.7,1174.0 1079.2,1190.8 1079.7,1181.1 1080.2,1205.6 1080.7,1190.5 1081.2,1177.8 1081.7,1185.4 1082.2,1182.8 1082.7,1183.2 1083.2,1198.5 1083.7,1185.0 1084.2,1182.7 1084.7,1169.6 1085.2,1200.6 1085.7,1198.3 1086.2,1174.2 1086.7,1209.7 1087.2,1194.6 1087.7,1218.1 1088.2,1201.0 1088.7,1191.9 1089.2,1206.3 1089.7,1211.9 1090.2,1190.3 1090.7,1207.7 1091.2,1212.0 1091.7,1203.8 1092.2,1196.6 1092.7,1203.9 1093.2,1221.8 1093.7,1220.4 1094.2,1215.5 1094.7,1234.0 1095.2,1222.7 1095.7,1226.6 1096.2,1223.9 1096.7,1221.3 1097.2,1217.7 1097.7,1226.1 1098.2,1215.6 1098.7,1220.1 1099.2,1194.5 1099.7,1209.5 1100.2,1208.3 1100.7,1240.9 1101.2,1201.3 1101.7,1224.2 1102.2,1231.1 1102.7,1215.7 1103.2,1217.6 1103.7,1221.6 1104.2,1197.8 1104.7,1216.6 1105.2,1231.4 1105.7,1227.4 1106.2,1219.6 1106.7,1218.7 1107.2,1231.2 1107.7,1212.0 1108.2,1224.0 1108.7,1232.1 1109.2,1208.8 1109.7,1220.0 1110.2,1230.0 1110.7,1244.4 1111.2,1213.5 1111.7,1234.7 1112.2,1244.7 1112.7,1234.9 1113.2,1230.8 1113.7,1230.7 1114.2,1218.8 1114.7,1247.6 1115.2,1219.6 1115.7,1234.2 1116.2,1232.0 1116.7,1242.6 1117.2,1234.2 1117.7,1252.5 1118.2,1221.0 1118.7,1218.6 1119.2,1239.6 1119.7,1226.2 1120.2,1249.4 1120.7,1250.8 1121.2,1258.5 1121.7,1234.7 1122.2,1239.2 1122.7,1240.9 1123.2,1248.1 1123.7,1247.0 1124.2,1255.8 1124.7,1243.3 1125.2,1269.4 1125.7,1252.1 1126.2,1254.5 1126.7,1226.5 1127.2,1241.7 1127.7,1260.8 1128.2,1244.9 1128.7,1244.7 1129.2,1239.3 1129.7,1248.8 1130.2,1259.2 1130.7,1253.0 1131.2,1264.8 1131.7,1242.7 1132.2,1258.2 1132.7,1253.9 1133.2,1255.4 1133.7,1238.8 1134.2,1253.6 1134.7,1257.8 1135.2,1239.2 1135.7,1273.2 1136.2,1254.8 1136.7,1241.8 1137.2,1269.1 1137.7,1246.8 1138.2,1262.8 1138.7,1243.3 1139.2,1272.2 1139.7,1265.1 1140.2,1263.1 1140.7,1255.2 1141.2,1252.2 1141.7,1279.9 1142.2,1263.5 1142.7,1280.1 1143.2,1257.9 1143.7,1270.2 1144.2,1259.1 1144.7,1274.2 1145.2,1249.4 1145.7,1278.7 1146.2,1256.9 1146.7,1274.8 1147.2,1272.6 1147.7,1272.6 1148.2,1273.5 1148.7,1292.7 1149.2,1263.9 1149.7,1267.2 1150.2,1286.7 1150.7,1281.5 1151.2,1289.9 1151.7,1281.0 1152.2,1272.4 1152.7,1277.5 1153.2,1283.4 1153.7,1287.8 1154.2,1281.9 1154.7,1271.4 1155.2,1277.5 1155.7,1297.8 1156.2,1272.6 1156.7,1297.6 1157.2,1267.8 1157.7,1271.6 1158.2,1265.5 1158.7,1292.1 1159.2,1277.7 1159.7,1280.2 1160.2,1295.5 1160.7,1287.3 1161.2,1269.0 1161.7,1273.4 1162.2,1265.6 1162.7,1293.0 1163.2,1284.1 1163.7,1276.2 1164.2,1285.6 1164.7,1291.5 1165.2,1296.4 1165.7,1309.7 1166.2,1281.0 1166.7,1297.1 1167.2,1300.1 1167.7,1294.1 1168.2,1264.3 1168.7,1277.6 1169.2,1314.1 1169.7,1286.4 1170.2,1299.7 1170.7,1289.2 1171.2,1317.8 1171.7,1307.2 1172.2,1290.2 1172.7,1288.1 1173.2,1307.5 1173.7,1312.3 1174.2,1297.4 1174.7,1308.5 1175.2,1302.0 1175.7,1301.6 1176.2,1303.0 1176.7,1287.4 1177.2,1294.9 1177.7,1307.5 1178.2,1303.9 1178.7,1320.7 1179.2,1289.6 1179.7,1307.1 1180.2,1330.3 1180.7,1311.3 1181.2,1313.1 1181.7,1300.5 1182.2,1302.3 1182.7,1310.7 1183.2,1299.2 1183.7,1298.3 1184.2,1296.5 1184.7,1295.8 1185.2,1321.4 1185.7,1319.1 1186.2,1325.1 1186.7,1316.9 1187.2,1318.2 1187.7,1303.3 1188.2,1315.0 1188.7,1323.9 1189.2,1309.3 1189.7,1298.7 1190.2,1322.0 1190.7,1303.2 1191.2,1323.9 1191.7,1314.1 1192.2,1310.2 1192.7,1311.4 1193.2,1315.4 1193.7,1329.8 1194.2,1328.6 1194.7,1332.2 1195.2,1326.8 1195.7,1323.1 1196.2,1330.8 1196.7,1322.3 1197.2,1318.1 1197.7,1325.3 1198.2,1322.0 1198.7,1309.4 1199.2,1315.4 1199.7,1333.2 1200.2,1328.8 1200.7,1326.1 1201.2,1333.8 1201.7,1334.7 1202.2,1343.7 1202.7,1340.6 1203.2,1333.5 1203.7,1336.3 1204.2,1335.2 1204.7,1313.3 1205.2,1349.7 1205.7,1319.0 1206.2,1336.9 1206.7,1325.4 1207.2,1315.3 1207.7,1341.2 1208.2,1319.1 1208.7,1323.8 1209.2,1302.1 1209.7,1334.8 1210.2,1323.4 1210.7,1320.1 1211.2,1338.6 1211.7,1328.9 1212.2,1303.6 1212.7,1336.5 1213.2,1319.2 1213.7,1323.0 1214.2,1324.6 1214.7,1316.4 1215.2,1329.1 1215.7,1335.6 1216.2,1346.3 1216.7,1350.6 1217.2,1331.7 1217.7,1358.1 1218.2,1338.3 1218.7,1353.7 1219.2,1343.2 1219.7,1340.8 1220.2,1315.6 1220.7,1351.7 1221.2,1324.5 1221.7,1344.0 1222.2,1318.7 1222.7,1315.6 1223.2,1321.0 1223.7,1322.9 1224.2,1326.2 1224.7,1341.0 1225.2,1343.8 1225.7,1343.5 1226.2,1349.1 1226.7,1344.4 1227.2,1341.6 1227.7,1336.9 1228.2,1348.2 1228.7,1333.0 1229.2,1313.0 1229.7,1322.8 1230.2,1346.4 1230.7,1330.0 1231.2,1327.3 1231.7,1346.6 1232.2,1334.7 1232.7,1334.0 1233.2,1333.9 1233.7,1350.4 1234.2,1339.5 1234.7,1338.4 1235.2,1338.3 1235.7,1330.3 1236.2,1331.6 1236.7,1352.0 1237.2,1333.3 1237.7,1345.4 1238.2,1325.3 1238.7,1327.8 1239.2,1322.8 1239.7,1331.6 1240.2,1344.3 1240.7,1330.4 1241.2,1330.8 1241.7,1319.7 1242.2,1343.4 1242.7,1344.3 1243.2,1338.4 1243.7,1347.2 1244.2,1343.1 1244.7,1335.2 1245.2,1319.5 1245.7,1335.3 1246.2,1327.4 1246.7,1342.1 1247.2,1347.6 1247.7,1333.3 1248.2,1321.7 1248.7,1351.9 1249.2,1348.8 1249.7,1350.1 1250.2,1327.3 1250.7,1336.4 1251.2,1349.9 1251.7,1352.0 1252.2,1349.6 1252.7,1320.4 1253.2,1359.0 1253.7,1335.1 1254.2,1335.1 1254.7,1350.8 1255.2,1337.4 1255.7,1337.8 1256.2,1345.5 1256.7,1343.0 1257.2,1343.9 1257.7,1340.2 1258.2,1333.2 1258.7,1337.1 1259.2,1339.3 1259.7,1340.4 1260.2,1349.5 1260.7,1362.6 1261.2,1332.6 1261.7,1348.2 1262.2,1351.2 1262.7,1336.4 1263.2,1344.2 1263.7,1347.0 1264.2,1349.0 1264.7,1346.0 1265.2,1345.5 1265.7,1358.7 1266.2,1336.9 1266.7,1356.3 1267.2,1359.6 1267.7,1357.2 1268.2,1336.4 1268.7,1337.2 1269.2,1349.5 1269.7,1347.3 1270.2,1346.3 1270.7,1369.1 1271.2,1348.2 1271.7,1366.8 1272.2,1373.1 1272.7,1376.2 1273.2,1382.4 1273.7,1372.7 1274.2,1365.5 1274.7,1350.3 1275.2,1362.1 1275.7,1359.1 1276.2,1381.1 1276.7,1373.4 1277.2,1366.8 1277.7,1353.4 1278.2,1354.4 1278.7,1364.0 1279.2,1370.7 1279.7,1378.1 1280.2,1373.7 1280.7,1369.9 1281.2,1377.5 1281.7,1357.3 1282.2,1358.1 1282.7,1363.3 1283.2,1371.9 1283.7,1374.6 1284.2,1365.1 1284.7,1349.8 1285.2,1368.5 1285.7,1356.0 1286.2,1371.9 1286.7,1343.4 1287.2,1386.0 1287.7,1356.6 1288.2,1384.4 1288.7,1372.7 1289.2,1389.9 1289.7,1377.4 1290.2,1360.2 1290.7,1361.2 1291.2,1358.8 1291.7,1356.4 1292.2,1378.6 1292.7,1356.8 1293.2,1361.9 1293.7,1345.9 1294.2,1369.4 1294.7,1351.4 1295.2,1392.5 1295.7,1368.9 1296.2,1367.8 1296.7,1375.5 1297.2,1361.5 1297.7,1365.6 1298.2,1370.7 1298.7,1373.1 1299.2,1378.8 1299.7,1372.8 1300.2,1353.1 1300.7,1372.1 1301.2,1367.5 1301.7,1373.1 1302.2,1378.8 1302.7,1375.4 1303.2,1398.4 1303.7,1374.8 1304.2,1369.8 1304.7,1378.8 1305.2,1383.8 1305.7,1398.3 1306.2,1377.6 1306.7,1390.0 1307.2,1386.3 1307.7,1384.0 1308.2,1384.0 1308.7,1385.7 1309.2,1371.2 1309.7,1378.6 1310.2,1387.5 1310.7,1402.4 1311.2,1396.7 1311.7,1389.6 1312.2,1390.5 1312.7,1390.5 1313.2,1393.5 1313.7,1397.2 1314.2,1371.9 1314.7,1385.1 1315.2,1411.9 1315.7,1398.0 1316.2,1389.2 1316.7,1386.4 1317.2,1391.0 1317.7,1376.3 1318.2,1383.4 1318.7,1400.5 1319.2,1403.2 1319.7,1397.9 1320.2,1396.4 1320.7,1391.3 1321.2,1382.8 1321.7,1387.1 1322.2,1391.2 1322.7,1394.8 1323.2,1385.2 1323.7,1386.8 1324.2,1411.0 1324.7,1396.1 1325.2,1409.3 1325.7,1400.8 1326.2,1392.2 1326.7,1398.7 1327.2,1390.4 1327.7,1413.2 1328.2,1412.6 1328.7,1412.1 1329.2,1406.9 1329.7,1401.9 1330.2,1396.6 1330.7,1413.3 1331.2,1403.4 1331.7,1400.7 1332.2,1402.0 1332.7,1406.1 1333.2,1400.9 1333.7,1407.4 1334.2,1416.8 1334.7,1419.6 1335.2,1404.4 1335.7,1414.9 1336.2,1407.8 1336.7,1398.7 1337.2,1394.0 1337.7,1415.6 1338.2,1432.4 1338.7,1419.0 1339.2,1426.3 1339.7,1432.1 1340.2,1426.8 1340.7,1402.5 1341.2,1415.3 1341.7,1407.4 1342.2,1394.7 1342.7,1424.1 1343.2,1409.6 1343.7,1429.4 1344.2,1413.8 1344.7,1419.3 1345.2,1414.4 1345.7,1418.7 1346.2,1428.1 1346.7,1421.7 1347.2,1421.2 1347.7,1418.8 1348.2,1429.1 1348.7,1412.8 1349.2,1425.7 1349.7,1429.6 1350.2,1419.8 1350.7,1440.0 1351.2,1430.0 1351.7,1415.9 1352.2,1429.4 1352.7,1439.2 1353.2,1436.3 1353.7,1417.3 1354.2,1440.5 1354.7,1428.1 1355.2,1435.8 1355.7,1412.5 1356.2,1454.4 1356.7,1454.4 1357.2,1437.6 1357.7,1421.7 1358.2,1442.1 1358.7,1461.3 1359.2,1453.8 1359.7,1464.4 1360.2,1425.1 1360.7,1454.9 1361.2,1437.4 1361.7,1436.3 1362.2,1448.4 1362.7,1444.1 1363.2,1429.7 1363.7,1418.2 1364.2,1436.0 1364.7,1431.3 1365.2,1465.1 1365.7,1430.3 1366.2,1456.5 1366.7,1434.9 1367.2,1456.5 1367.7,1450.9 1368.2,1459.2 1368.7,1447.2 1369.2,1452.9 1369.7,1439.8 1370.2,1432.9 1370.7,1461.4 1371.2,1478.8 1371.7,1450.8 1372.2,1467.6 1372.7,1434.7 1373.2,1444.4 1373.7,1438.2 1374.2,1449.5 1374.7,1429.5 1375.2,1444.4 1375.7,1451.8 1376.2,1473.4 1376.7,1446.6 1377.2,1468.2 1377.7,1433.7 1378.2,1449.8 1378.7,1463.6 1379.2,1429.2 1379.7,1442.8 1380.2,1446.0 1380.7,1458.8 1381.2,1454.0 1381.7,1434.4 1382.2,1439.9 1382.7,1443.8 1383.2,1459.7 1383.7,1466.6 1384.2,1450.3 1384.7,1436.9 1385.2,1434.4 1385.7,1456.8 1386.2,1464.1 1386.7,1446.0 1387.2,1430.3 1387.7,1439.0 1388.2,1453.4 1388.7,1431.5 1389.2,1445.9 1389.7,1453.0 1390.2,1434.9 1390.7,1459.8 1391.2,1446.9 1391.7,1466.4 1392.2,1434.2 1392.7,1467.7 1393.2,1437.8 1393.7,1456.1 1394.2,1462.7 1394.7,1451.3 1395.2,1456.4 1395.7,1453.1 1396.2,1449.4 1396.7,1467.1 1397.2,1440.6 1397.7,1462.3 1398.2,1474.1 1398.7,1463.9 1399.2,1446.2 1399.7,1461.9 1400.2,1465.0 1400.7,1467.1 1401.2,1435.9 1401.7,1434.6 1402.2,1473.6 1402.7,1464.8 1403.2,1459.3 1403.7,1455.4 1404.2,1467.8 1404.7,1476.1 1405.2,1470.9 1405.7,1454.2 1406.2,1466.5 1406.7,1487.4 1407.2,1466.7 1407.7,1457.5 1408.2,1480.5 1408.7,1463.0 1409.2,1470.8 1409.7,1489.6 1410.2,1483.2 1410.7,1459.2 1411.2,1479.7 1411.7,1481.4 1412.2,1484.1 1412.7,1469.8 1413.2,1471.2 1413.7,1492.0 1414.2,1452.7 1414.7,1461.0 1415.2,1463.1 1415.7,1482.7 1416.2,1483.3 1416.7,1477.1 1417.2,1485.3 1417.7,1467.0 1418.2,1459.2 1418.7,1468.5 1419.2,1450.1 1419.7,1456.6 1420.2,1475.2 1420.7,1470.9 1421.2,1465.9 1421.7,1486.3 1422.2,1479.8 1422.7,1472.8 1423.2,1472.1 1423.7,1485.8 1424.2,1501.3 1424.7,1465.5 1425.2,1473.9 1425.7,1468.2 1426.2,1477.6 1426.7,1459.5 1427.2,1471.6 1427.7,1489.0 1428.2,1467.0 1428.7,1457.3 1429.2,1475.6 1429.7,1478.1 1430.2,1463.2 1430.7,1485.5 1431.2,1472.2 1431.7,1486.3 1432.2,1480.5 1432.7,1471.5 1433.2,1467.3 1433.7,1480.6 1434.2,1462.2 1434.7,1448.0 1435.2,1494.5 1435.7,1461.8 1436.2,1469.6 1436.7,1469.2 1437.2,1475.5 1437.7,1462.3 1438.2,1468.2 1438.7,1488.5 1439.2,1483.0 1439.7,1460.0 1440.2,1490.5 1440.7,1488.6 1441.2,1480.4 1441.7,1469.4 1442.2,1501.4 1442.7,1514.4 1443.2,1478.5 1443.7,1463.1 1444.2,1509.9 1444.7,1487.5 1445.2,1490.5 1445.7,1490.7 1446.2,1477.1 1446.7,1482.4 1447.2,1480.5 1447.7,1488.2 1448.2,1481.3 1448.7,1503.1 1449.2,1484.8 1449.7,1501.8 1450.2,1470.6 1450.7,1485.0 1451.2,1488.9 1451.7,1475.4 1452.2,1490.3 1452.7,1484.6 1453.2,1505.2 1453.7,1499.6 1454.2,1488.0 1454.7,1480.5 1455.2,1486.7 1455.7,1502.1 1456.2,1491.3 1456.7,1486.9 1457.2,1484.0 1457.7,1467.4 1458.2,1500.1 1458.7,1481.1 1459.2,1491.7 1459.7,1494.8 1460.2,1482.9 1460.7,1487.1 1461.2,1494.5 1461.7,1508.1 1462.2,1490.6 1462.7,1488.8 1463.2,1491.4 1463.7,1487.4 1464.2,1505.2 1464.7,1481.3 1465.2,1492.4 1465.7,1494.7 1466.2,1503.4 1466.7,1499.1 1467.2,1484.8 1467.7,1488.1 1468.2,1478.4 1468.7,1489.2 1469.2,1491.5 1469.7,1475.7 1470.2,1496.1 1470.7,1522.0 1471.2,1497.2 1471.7,1487.2 1472.2,1487.0 1472.7,1508.7 1473.2,1492.6 1473.7,1483.9 1474.2,1474.0 1474.7,1505.7 1475.2,1468.9 1475.7,1500.6 1476.2,1487.6 1476.7,1509.9 1477.2,1497.7 1477.7,1493.1 1478.2,1515.5 1478.7,1485.6 1479.2,1511.8 1479.7,1511.9 1480.2,1476.5 1480.7,1492.3 1481.2,1492.8 1481.7,1498.5 1482.2,1506.7 1482.7,1502.9 1483.2,1513.7 1483.7,1502.5 1484.2,1490.3 1484.7,1481.7 1485.2,1496.3 1485.7,1502.5 1486.2,1502.0 1486.7,1517.6 1487.2,1509.0 1487.7,1489.8 1488.2,1499.7 1488.7,1504.1 1489.2,1538.4 1489.7,1516.6 1490.2,1503.9 1490.7,1514.3 1491.2,1523.0 1491.7,1496.6 1492.2,1530.9 1492.7,1499.4 1493.2,1519.8 1493.7,1531.2 1494.2,1511.1 1494.7,1518.0 1495.2,1499.0 1495.7,1526.5 1496.2,1520.7 1496.7,1534.1 1497.2,1523.0 1497.7,1503.3 1498.2,1501.4 1498.7,1500.8 1499.2,1502.5 1499.7,1527.3 1500.2,1492.4 1500.7,1495.9 1501.2,1500.7 1501.7,1494.6 1502.2,1502.8 1502.7,1528.5 1503.2,1509.8 1503.7,1517.5 1504.2,1513.5 1504.7,1523.4 1505.2,1531.5 1505.7,1526.0 1506.2,1523.5 1506.7,1512.7 1507.2,1506.1 1507.7,1524.4 1508.2,1528.3 1508.7,1533.8 1509.2,1527.0 1509.7,1514.2 1510.2,1512.5 1510.7,1530.8 1511.2,1517.9 1511.7,1511.2 1512.2,1506.7 1512.7,1514.0 1513.2,1539.3 1513.7,1532.6 1514.2,1544.5 1514.7,1531.2 1515.2,1531.5 1515.7,1542.3 1516.2,1542.1 1516.7,1524.7 1517.2,1493.9 1517.7,1524.0 1518.2,1519.5 1518.7,1546.1 1519.2,1534.0 1519.7,1522.8 1520.2,1512.7 1520.7,1536.1 1521.2,1543.4 1521.7,1511.5 1522.2,1535.6 1522.7,1523.3 1523.2,1535.2 1523.7,1559.3 1524.2,1515.7 1524.7,1539.6 1525.2,1556.3 1525.7,1532.7 1526.2,1518.7 1526.7,1501.0 1527.2,1522.7 1527.7,1539.3 1528.2,1524.2 1528.7,1555.1 1529.2,1506.4 1529.7,1516.8 1530.2,1541.2 1530.7,1535.8 1531.2,1542.3 1531.7,1540.3 1532.2,1527.7 1532.7,1532.9 1533.2,1558.6 1533.7,1544.5 1534.2,1557.4 1534.7,1546.7 1535.2,1560.7 1535.7,1553.3 1536.2,1542.1 1536.7,1532.6 1537.2,1562.9 1537.7,1542.9 1538.2,1527.7 1538.7,1566.3 1539.2,1553.0 1539.7,1551.9 1540.2,1533.1 1540.7,1559.1 1541.2,1550.3 1541.7,1534.6 1542.2,1541.5 1542.7,1535.1 1543.2,1570.9 1543.7,1545.7 1544.2,1558.5 1544.7,1567.9 1545.2,1577.9 1545.7,1544.8 1546.2,1538.0 1546.7,1566.1 1547.2,1564.0 1547.7,1584.9 1548.2,1546.6 1548.7,1573.7 1549.2,1565.9 1549.7,1554.5 1550.2,1512.6 1550.7,1554.9 1551.2,1549.3 1551.7,1526.0 1552.2,1566.0 1552.7,1545.8 1553.2,1541.3 1553.7,1553.8 1554.2,1573.9 1554.7,1584.2 1555.2,1574.5 1555.7,1566.1 1556.2,1561.1 1556.7,1538.1 1557.2,1546.2 1557.7,1558.9 1558.2,1561.5 1558.7,1553.3 1559.2,1583.7 1559.7,1580.3 1560.2,1554.3 1560.7,1578.3 1561.2,1567.4 1561.7,1599.7 1562.2,1581.3 1562.7,1576.9 1563.2,1573.1 1563.7,1579.4 1564.2,1567.7 1564.7,1592.1 1565.2,1565.8 1565.7,1544.4 1566.2,1566.7 1566.7,1577.4 1567.2,1547.0 1567.7,1546.7 1568.2,1566.1 1568.7,1585.0 1569.2,1578.4 1569.7,1531.2 1570.2,1576.8 1570.7,1562.4 1571.2,1558.0 1571.7,1570.0 1572.2,1601.1 1572.7,1549.6 1573.2,1564.4 1573.7,1537.8 1574.2,1577.0 1574.7,1575.5 1575.2,1575.3 1575.7,1576.3 1576.2,1551.2 1576.7,1567.6 1577.2,1567.2 1577.7,1558.0 1578.2,1581.7 1578.7,1580.5 1579.2,1558.2 1579.7,1572.3 1580.2,1577.2 1580.7,1576.0 1581.2,1580.9 1581.7,1572.6 1582.2,1568.0 1582.7,1553.0 1583.2,1560.4 1583.7,1572.6 1584.2,1573.4 1584.7,1555.7 1585.2,1570.4 1585.7,1579.9 1586.2,1592.1 1586.7,1581.9 1587.2,1573.8 1587.7,1586.6 1588.2,1552.4 1588.7,1579.1 1589.2,1562.6 1589.7,1601.7 1590.2,1559.0 1590.7,1584.3 1591.2,1601.1 1591.7,1566.6 1592.2,1565.9 1592.7,1574.4 1593.2,1570.6 1593.7,1562.8 1594.2,1568.0 1594.7,1588.6 1595.2,1589.0 1595.7,1567.7 1596.2,1567.7 1596.7,1584.1 1597.2,1589.2 1597.7,1585.7 1598.2,1584.8 1598.7,1611.1 1599.2,1598.4 1599.7,1593.2 1600.2,1575.1 1600.7,1607.4 1601.2,1583.2 1601.7,1587.3 1602.2,1548.6 1602.7,1597.6 1603.2,1561.2 1603.7,1576.4 1604.2,1599.5 1604.7,1579.2 1605.2,1572.2 1605.7,1593.2 1606.2,1597.3 1606.7,1585.6 1607.2,1589.7 1607.7,1564.3 1608.2,1580.4 1608.7,1572.9 1609.2,1551.3 1609.7,1583.0 1610.2,1572.7 1610.7,1576.2 1611.2,1584.4 1611.7,1581.0 1612.2,1595.3 1612.7,1575.5 1613.2,1590.4 1613.7,1575.4 1614.2,1590.8 1614.7,1582.5 1615.2,1595.6 1615.7,1618.0 1616.2,1585.1 1616.7,1596.1 1617.2,1573.1 1617.7,1579.1 1618.2,1593.5 1618.7,1606.3 1619.2,1574.8 1619.7,1588.6 1620.2,1610.0 1620.7,1567.4 1621.2,1599.7 1621.7,1589.0 1622.2,1619.2 1622.7,1587.9 1623.2,1577.4 1623.7,1613.7 1624.2,1615.5 1624.7,1600.9 1625.2,1620.5 1625.7,1586.9 1626.2,1595.7 1626.7,1584.3 1627.2,1582.3 1627.7,1602.2 1628.2,1594.8 1628.7,1625.4 1629.2,1589.5 1629.7,1604.0 1630.2,1567.9 1630.7,1602.9 1631.2,1593.7 1631.7,1594.2 1632.2,1605.1 1632.7,1599.3 1633.2,1587.2 1633.7,1614.3 1634.2,1608.3 1634.7,1598.8 1635.2,1628.9 1635.7,1604.0 1636.2,1617.8 1636.7,1619.9 1637.2,1604.3 1637.7,1613.1 1638.2,1605.3 1638.7,1595.5 1639.2,1602.6 1639.7,1632.6 1640.2,1608.0 1640.7,1628.6 1641.2,1616.3 1641.7,1584.2 1642.2,1603.8 1642.7,1615.7 1643.2,1604.4 1643.7,1608.8 1644.2,1606.5 1644.7,1591.1 1645.2,1615.1 1645.7,1627.7 1646.2,1591.4 1646.7,1592.9 1647.2,1600.9 1647.7,1612.1 1648.2,1597.4 1648.7,1615.5 1649.2,1595.1 1649.7,1592.4 1650.2,1575.1 1650.7,1609.7 1651.2,1615.6 1651.7,1591.0 1652.2,1605.1 1652.7,1592.3 1653.2,1590.3 1653.7,1626.0 1654.2,1617.4 1654.7,1575.2 1655.2,1617.2 1655.7,1609.8 1656.2,1632.2 1656.7,1612.3 1657.2,1609.1 1657.7,1593.7 1658.2,1606.3 1658.7,1605.3 1659.2,1588.6 1659.7,1621.4 1660.2,1602.7 1660.7,1613.0 1661.2,1618.6 1661.7,1583.4 1662.2,1603.7 1662.7,1598.8 1663.2,1602.7 1663.7,1595.6 1664.2,1613.4 1664.7,1594.5 1665.2,1608.9 1665.7,1607.8 1666.2,1608.6 1666.7,1614.1 1667.2,1616.3 1667.7,1619.9 1668.2,1645.7 1668.7,1605.7 1669.2,1612.9 1669.7,1606.3 1670.2,1639.2 1670.7,1589.1 1671.2,1596.3 1671.7,1623.6 1672.2,1615.5 1672.7,1588.3 1673.2,1627.1 1673.7,1595.2 1674.2,1595.1 1674.7,1626.4 1675.2,1625.7 1675.7,1617.3 1676.2,1608.2 1676.7,1614.6 1677.2,1590.6 1677.7,1629.8 1678.2,1575.8 1678.7,1608.9 1679.2,1618.4 1679.7,1585.7 1680.2,1596.9 1680.7,1608.3 1681.2,1630.4 1681.7,1620.7 1682.2,1624.0 1682.7,1604.8 1683.2,1615.7 1683.7,1618.1 1684.2,1631.6 1684.7,1591.3 1685.2,1613.4 1685.7,1610.8 1686.2,1607.3 1686.7,1643.6 1687.2,1606.2 1687.7,1626.0 1688.2,1621.1 1688.7,1629.1 1689.2,1608.2 1689.7,1603.0 1690.2,1652.3 1690.7,1639.4 1691.2,1623.4 1691.7,1616.3 1692.2,1627.8 1692.7,1624.4 1693.2,1617.4 1693.7,1634.9 1694.2,1627.7 1694.7,1620.7 1695.2,1627.7 1695.7,1614.2 1696.2,1631.3 1696.7,1628.1 1697.2,1594.9 1697.7,1633.1 1698.2,1616.2 1698.7,1616.9 1699.2,1628.9 1699.7,1621.0 1700.2,1625.5 1700.7,1601.2 1701.2,1637.2 1701.7,1617.5 1702.2,1636.4 1702.7,1620.4 1703.2,1620.3 1703.7,1633.7 1704.2,1628.2 1704.7,1616.1 1705.2,1623.9 1705.7,1645.4 1706.2,1616.2 1706.7,1611.2 1707.2,1625.9 1707.7,1597.4 1708.2,1622.5 1708.7,1613.9 1709.2,1622.3 1709.7,1586.0 1710.2,1632.2 1710.7,1622.4 1711.2,1607.0 1711.7,1630.0 1712.2,1611.7 1712.7,1598.7 1713.2,1602.4 1713.7,1616.5 1714.2,1615.0 1714.7,1620.5 1715.2,1615.6 1715.7,1629.1 1716.2,1640.3 1716.7,1611.7 1717.2,1643.6 1717.7,1614.6 1718.2,1637.7 1718.7,1641.9 1719.2,1630.1 1719.7,1622.9 1720.2,1613.8 1720.7,1659.4 1721.2,1609.2 1721.7,1628.4 1722.2,1631.1 1722.7,1650.3 1723.2,1645.5 1723.7,1628.5 1724.2,1621.4 1724.7,1661.5 1725.2,1626.5 1725.7,1618.1 1726.2,1652.8 1726.7,1626.3 1727.2,1613.4 1727.7,1636.7 1728.2,1622.5 1728.7,1596.0 1729.2,1622.4 1729.7,1631.0 1730.2,1605.5 1730.7,1624.4 1731.2,1642.9 1731.7,1620.9 1732.2,1611.8 1732.7,1615.4 1733.2,1638.0 1733.7,1619.4 1734.2,1635.0 1734.7,1627.8 1735.2,1619.7 1735.7,1646.5 1736.2,1661.4 1736.7,1620.4 1737.2,1644.0 1737.7,1644.4 1738.2,1643.1 1738.7,1640.7 1739.2,1662.9 1739.7,1679.3 1740.2,1646.0 1740.7,1641.1 1741.2,1657.7 1741.7,1635.5 1742.2,1635.3 1742.7,1653.3 1743.2,1661.3 1743.7,1648.9 1744.2,1654.6 1744.7,1613.2 1745.2,1632.2 1745.7,1645.7 1746.2,1657.8 1746.7,1631.5 1747.2,1654.5 1747.7,1647.8 1748.2,1654.8 1748.7,1643.9 1749.2,1662.0 1749.7,1638.0 1750.2,1670.5 1750.7,1642.1 1751.2,1657.3 1751.7,1620.3 1752.2,1640.9 1752.7,1656.2 1753.2,1617.1 1753.7,1652.5 1754.2,1654.4 1754.7,1701.9 1755.2,1654.1 1755.7,1700.5 1756.2,1654.7 1756.7,1648.8 1757.2,1690.5 1757.7,1665.5 1758.2,1682.3 1758.7,1639.2 1759.2,1635.6 1759.7,1674.9 1760.2,1679.9 1760.7,1679.5 1761.2,1662.2 1761.7,1680.7 1762.2,1664.1 1762.7,1655.9 1763.2,1663.4 1763.7,1641.1 1764.2,1677.3 1764.7,1677.4 1765.2,1653.4 1765.7,1641.4 1766.2,1667.9 1766.7,1680.5 1767.2,1628.7 1767.7,1659.6 1768.2,1655.0 1768.7,1684.6 1769.2,1685.9 1769.7,1641.2 1770.2,1653.4 1770.7,1637.5 1771.2,1663.5 1771.7,1666.5 1772.2,1678.1 1772.7,1630.2 1773.2,1631.9 1773.7,1664.1 1774.2,1667.1 1774.7,1653.6 1775.2,1663.8 1775.7,1671.9 1776.2,1662.3 1776.7,1691.9 1777.2,1694.0 1777.7,1676.0 1778.2,1666.7 1778.7,1652.6 1779.2,1667.2 1779.7,1664.8 1780.2,1623.9 1780.7,1668.4 1781.2,1675.4 1781.7,1672.7 1782.2,1649.3 1782.7,1649.6 1783.2,1681.7 1783.7,1686.9 1784.2,1662.2 1784.7,1651.3 1785.2,1665.0 1785.7,1673.9 1786.2,1700.2 1786.7,1681.9 1787.2,1677.9 1787.7,1661.4 1788.2,1672.8 1788.7,1656.2 1789.2,1685.3 1789.7,1675.9 1790.2,1660.0 1790.7,1675.9 1791.2,1698.2 1791.7,1662.7 1792.2,1657.9 1792.7,1669.8 1793.2,1674.7 1793.7,1679.7 1794.2,1672.4 1794.7,1685.6 1795.2,1673.8 1795.7,1681.5 1796.2,1701.4 1796.7,1659.7 1797.2,1663.5 1797.7,1680.7 1798.2,1663.5 1798.7,1670.8 1799.2,1715.2 1799.7,1662.9 1800.2,1662.7 1800.7,1684.5 1801.2,1678.5 1801.7,1651.5 1802.2,1682.9 1802.7,1699.1 1803.2,1675.4 1803.7,1687.2 1804.2,1679.2 1804.7,1666.1 1805.2,1667.2 1805.7,1688.5 1806.2,1688.1 1806.7,1655.8 1807.2,1695.5 1807.7,1685.2 1808.2,1689.6 1808.7,1694.8 1809.2,1654.4 1809.7,1676.6 1810.2,1672.8 1810.7,1671.2 1811.2,1684.0 1811.7,1692.5 1812.2,1682.9 1812.7,1718.3 1813.2,1670.2 1813.7,1728.1 1814.2,1688.0 1814.7,1713.6 1815.2,1693.8 1815.7,1673.0 1816.2,1680.9 1816.7,1676.2 1817.2,1696.1 1817.7,1690.6 1818.2,1663.9 1818.7,1716.9 1819.2,1697.5 1819.7,1657.4 1820.2,1669.3 1820.7,1675.7 1821.2,1683.1 1821.7,1683.9 1822.2,1670.3 1822.7,1706.9 1823.2,1657.4 1823.7,1690.0 1824.2,1684.3 1824.7,1702.8 1825.2,1675.9 1825.7,1680.0 1826.2,1711.8 1826.7,1684.5 1827.2,1679.3 1827.7,1678.2 1828.2,1675.4 1828.7,1661.0 1829.2,1661.3 1829.7,1673.0 1830.2,1682.5 1830.7,1696.0 1831.2,1677.4 1831.7,1676.8 1832.2,1684.1 1832.7,1676.7 1833.2,1686.5 1833.7,1703.4 1834.2,1673.5 1834.7,1666.9 1835.2,1677.3 1835.7,1685.6 1836.2,1668.4 1836.7,1693.2 1837.2,1715.7 1837.7,1700.7 1838.2,1707.5 1838.7,1711.9 1839.2,1701.0 1839.7,1689.6 1840.2,1691.4 1840.7,1664.6 1841.2,1667.6 1841.7,1678.6 1842.2,1672.2 1842.7,1678.4"/>
<polyline stroke="#1c9824" stroke-width="3.8" points="280.0,734.6 280.5,734.7 281.0,743.9 281.5,729.9 282.0,734.5 282.5,748.4 283.0,736.4 283.5,744.5 284.0,744.8 284.5,744.0 285.0,740.8 285.5,741.2 286.0,749.2 286.5,739.0 287.0,737.6 287.5,792.4 288.0,754.5 288.5,766.8 289.0,757.8 289.5,763.1 290.0,756.5 290.5,768.7 291.0,757.0 291.5,757.4 292.0,737.5 292.5,769.5 293.0,752.8 293.5,756.6 294.0,762.4 294.5,759.0 295.0,755.5 295.5,774.8 296.0,733.6 296.5,727.1 297.0,752.3 297.5,723.2 298.0,752.8 298.5,774.4 299.0,778.9 299.5,742.2 300.0,762.4 300.5,740.7 301.0,760.1 301.5,789.6 302.0,744.4 302.5,775.9 303.0,756.9 303.5,790.8 304.0,745.3 304.5,742.6 305.0,771.3 305.5,764.1 306.0,759.5 306.5,741.1 307.0,753.7 307.5,743.8 308.0,775.4 308.5,759.8 309.0,739.4 309.5,738.9 310.0,729.1 310.5,741.1 311.0,748.4 311.5,754.6 312.0,763.0 312.5,739.8 313.0,765.2 313.5,721.3 314.0,748.5 314.5,758.9 315.0,743.4 315.5,753.9 316.0,759.5 316.5,739.1 317.0,751.9 317.5,763.1 318.0,729.6 318.5,761.3 319.0,741.4 319.5,723.2 320.0,747.9 320.5,763.0 321.0,742.2 321.5,749.6 322.0,759.5 322.5,747.1 323.0,749.7 323.5,758.4 324.0,758.5 324.5,748.3 325.0,722.0 325.5,729.5 326.0,741.0 326.5,761.2 327.0,752.5 327.5,771.6 328.0,752.2 328.5,751.7 329.0,738.2 329.5,763.4 330.0,725.9 330.5,750.8 331.0,746.3 331.5,742.1 332.0,763.4 332.5,758.8 333.0,755.2 333.5,746.7 334.0,729.1 334.5,728.8 335.0,711.7 335.5,728.8 336.0,752.1 336.5,768.1 337.0,732.8 337.5,781.6 338.0,777.6 338.5,767.9 339.0,775.9 339.5,751.1 340.0,746.4 340.5,756.6 341.0,768.1 341.5,761.4 342.0,759.0 342.5,769.1 343.0,744.2 343.5,765.4 344.0,723.2 344.5,772.9 345.0,772.8 345.5,784.9 346.0,738.7 346.5,744.2 347.0,735.3 347.5,729.4 348.0,715.0 348.5,758.9 349.0,744.9 349.5,745.4 350.0,719.5 350.5,747.2 351.0,774.4 351.5,746.7 352.0,754.5 352.5,726.5 353.0,757.1 353.5,741.0 354.0,746.6 354.5,746.3 355.0,738.5 355.5,753.7 356.0,743.2 356.5,738.2 357.0,729.5 357.5,729.9 358.0,758.3 358.5,762.2 359.0,746.6 359.5,746.3 360.0,741.0 360.5,753.5 361.0,770.9 361.5,755.3 362.0,744.7 362.5,768.9 363.0,764.0 363.5,728.7 364.0,751.1 364.5,775.1 365.0,764.1 365.5,758.2 366.0,764.2 366.5,739.0 367.0,737.9 367.5,753.1 368.0,759.2 368.5,782.9 369.0,757.2 369.5,761.7 370.0,801.4 370.5,749.1 371.0,752.8 371.5,755.6 372.0,759.5 372.5,757.2 373.0,766.7 373.5,737.7 374.0,736.5 374.5,753.2 375.0,729.4 375.5,774.4 376.0,736.4 376.5,741.0 377.0,757.8 377.5,752.1 378.0,755.4 378.5,748.1 379.0,728.9 379.5,745.9 380.0,735.4 380.5,718.9 381.0,736.9 381.5,755.7 382.0,727.4 382.5,731.6 383.0,731.2 383.5,751.8 384.0,712.4 384.5,749.2 385.0,742.7 385.5,740.8 386.0,728.8 386.5,739.1 387.0,772.0 387.5,745.1 388.0,738.4 388.5,755.3 389.0,723.7 389.5,757.6 390.0,741.5 390.5,780.1 391.0,803.5 391.5,751.2 392.0,749.1 392.5,737.3 393.0,751.4 393.5,753.5 394.0,722.4 394.5,720.3 395.0,750.9 395.5,736.2 396.0,747.9 396.5,746.8 397.0,746.1 397.5,740.9 398.0,753.1 398.5,764.2 399.0,765.6 399.5,736.9 400.0,744.0 400.5,742.9 401.0,720.6 401.5,720.0 402.0,739.4 402.5,746.1 403.0,750.2 403.5,731.4 404.0,751.2 404.5,739.4 405.0,735.7 405.5,755.3 406.0,699.1 406.5,708.3 407.0,770.2 407.5,741.7 408.0,752.4 408.5,739.9 409.0,731.0 409.5,722.0 410.0,711.9 410.5,741.9 411.0,725.0 411.5,739.7 412.0,745.6 412.5,740.8 413.0,740.9 413.5,763.4 414.0,745.8 414.5,746.2 415.0,740.2 415.5,762.7 416.0,759.7 416.5,734.4 417.0,749.0 417.5,741.9 418.0,736.1 418.5,728.7 419.0,767.7 419.5,751.6 420.0,711.9 420.5,757.5 421.0,768.7 421.5,745.6 422.0,744.0 422.5,744.9 423.0,757.1 423.5,734.9 424.0,747.4 424.5,719.5 425.0,762.4 425.5,727.0 426.0,738.7 426.5,750.9 427.0,759.2 427.5,734.4 428.0,735.3 428.5,764.0 429.0,730.9 429.5,727.7 430.0,732.1 430.5,748.4 431.0,748.6 431.5,751.2 432.0,743.5 432.5,730.7 433.0,743.0 433.5,748.0 434.0,719.9 434.5,729.6 435.0,739.6 435.5,763.2 436.0,735.4 436.5,740.2 437.0,736.5 437.5,740.2 438.0,742.7 438.5,718.0 439.0,691.8 439.5,743.7 440.0,702.0 440.5,738.6 441.0,741.7 441.5,746.0 442.0,720.4 442.5,745.5 443.0,744.8 443.5,743.9 444.0,751.8 444.5,718.7 445.0,726.0 445.5,729.1 446.0,731.0 446.5,745.3 447.0,740.7 447.5,732.8 448.0,756.0 448.5,739.5 449.0,715.0 449.5,753.0 450.0,715.5 450.5,715.3 451.0,728.2 451.5,727.3 452.0,732.7 452.5,732.7 453.0,721.5 453.5,722.0 454.0,743.3 454.5,737.9 455.0,731.8 455.5,724.3 456.0,738.1 456.5,711.6 457.0,702.0 457.5,762.3 458.0,743.7 458.5,728.4 459.0,758.1 459.5,732.4 460.0,744.8 460.5,742.9 461.0,736.7 461.5,735.9 462.0,755.3 462.5,745.4 463.0,705.6 463.5,741.1 464.0,701.2 464.5,718.2 465.0,739.3 465.5,715.6 466.0,749.9 466.5,726.8 467.0,739.5 467.5,734.5 468.0,741.1 468.5,749.0 469.0,709.2 469.5,730.3 470.0,735.8 470.5,749.8 471.0,742.8 471.5,729.7 472.0,713.1 472.5,710.3 473.0,721.4 473.5,738.1 474.0,737.9 474.5,758.1 475.0,739.3 475.5,746.2 476.0,713.9 476.5,739.7 477.0,726.9 477.5,727.0 478.0,751.2 478.5,733.2 479.0,733.5 479.5,735.8 480.0,715.8 480.5,713.0 481.0,763.8 481.5,736.7 482.0,737.0 482.5,737.6 483.0,726.0 483.5,726.8 484.0,719.7 484.5,737.6 485.0,730.9 485.5,748.1 486.0,756.6 486.5,718.0 487.0,745.2 487.5,729.8 488.0,767.7 488.5,737.9 489.0,751.5 489.5,730.9 490.0,756.8 490.5,727.4 491.0,719.6 491.5,701.8 492.0,736.5 492.5,730.9 493.0,740.6 493.5,725.3 494.0,738.5 494.5,739.6 495.0,723.8 495.5,767.9 496.0,773.2 496.5,748.6 497.0,747.2 497.5,747.9 498.0,749.5 498.5,727.8 499.0,742.9 499.5,765.1 500.0,735.5 500.5,735.0 501.0,725.3 501.5,730.6 502.0,706.7 502.5,737.7 503.0,753.7 503.5,742.9 504.0,739.2 504.5,736.3 505.0,735.7 505.5,718.8 506.0,707.4 506.5,763.4 507.0,744.0 507.5,704.3 508.0,760.7 508.5,730.7 509.0,751.3 509.5,735.5 510.0,726.5 510.5,748.8 511.0,732.1 511.5,673.0 512.0,752.8 512.5,736.9 513.0,737.1 513.5,735.5 514.0,744.5 514.5,759.7 515.0,751.9 515.5,742.4 516.0,739.6 516.5,730.0 517.0,767.0 517.5,713.7 518.0,725.8 518.5,737.5 519.0,742.1 519.5,743.8 520.0,732.1 520.5,764.0 521.0,753.6 521.5,708.4 522.0,723.0 522.5,714.9 523.0,754.2 523.5,725.7 524.0,709.7 524.5,726.0 525.0,710.0 525.5,729.0 526.0,739.0 526.5,713.1 527.0,734.7 527.5,734.8 528.0,718.5 528.5,734.8 529.0,719.7 529.5,737.3 530.0,727.0 530.5,721.1 531.0,747.8 531.5,742.8 532.0,724.3 532.5,682.1 533.0,732.0 533.5,719.7 534.0,732.1 534.5,728.6 535.0,725.9 535.5,723.1 536.0,751.7 536.5,753.3 537.0,766.3 537.5,713.5 538.0,724.9 538.5,733.1 539.0,701.6 539.5,747.0 540.0,716.2 540.5,746.7 541.0,721.7 541.5,735.9 542.0,704.1 542.5,692.9 543.0,718.6 543.5,707.5 544.0,710.1 544.5,726.1 545.0,739.4 545.5,747.9 546.0,723.9 546.5,714.4 547.0,732.8 547.5,718.3 548.0,714.8 548.5,726.1 549.0,752.5 549.5,740.5 550.0,705.8 550.5,765.5 551.0,716.2 551.5,737.4 552.0,722.7 552.5,748.0 553.0,739.8 553.5,751.0 554.0,734.0 554.5,727.8 555.0,748.1 555.5,701.4 556.0,710.3 556.5,706.3 557.0,724.8 557.5,719.8 558.0,712.2 558.5,734.7 559.0,734.3 559.5,716.9 560.0,703.5 560.5,756.6 561.0,726.6 561.5,706.0 562.0,723.6 562.5,725.8 563.0,712.8 563.5,734.0 564.0,725.5 564.5,717.6 565.0,743.1 565.5,722.6 566.0,750.6 566.5,732.4 567.0,727.2 567.5,750.0 568.0,725.3 568.5,738.2 569.0,748.4 569.5,722.9 570.0,721.2 570.5,742.8 571.0,743.7 571.5,700.1 572.0,739.4 572.5,749.3 573.0,726.5 573.5,747.5 574.0,727.1 574.5,723.2 575.0,727.4 575.5,742.5 576.0,725.7 576.5,723.5 577.0,729.6 577.5,740.1 578.0,699.6 578.5,747.4 579.0,753.4 579.5,715.3 580.0,730.5 580.5,738.3 581.0,734.5 581.5,760.7 582.0,732.8 582.5,722.7 583.0,725.0 583.5,735.8 584.0,719.8 584.5,721.8 585.0,722.5 585.5,755.8 586.0,742.7 586.5,715.4 587.0,740.9 587.5,694.5 588.0,735.5 588.5,742.6 589.0,741.2 589.5,743.2 590.0,736.1 590.5,722.2 591.0,727.5 591.5,727.4 592.0,709.1 592.5,732.0 593.0,715.7 593.5,740.2 594.0,766.4 594.5,763.2 595.0,770.9 595.5,726.2 596.0,727.0 596.5,741.6 597.0,718.9 597.5,742.4 598.0,725.7 598.5,739.4 599.0,728.0 599.5,756.5 600.0,748.4 600.5,745.0 601.0,713.3 601.5,749.5 602.0,726.7 602.5,713.0 603.0,739.6 603.5,749.9 604.0,711.1 604.5,745.4 605.0,730.6 605.5,730.3 606.0,740.1 606.5,727.8 607.0,723.5 607.5,748.2 608.0,695.4 608.5,746.7 609.0,712.9 609.5,765.3 610.0,711.8 610.5,746.9 611.0,700.8 611.5,752.3 612.0,728.7 612.5,723.1 613.0,721.2 613.5,740.3 614.0,722.3 614.5,734.4 615.0,725.8 615.5,707.8 616.0,749.4 616.5,722.1 617.0,728.4 617.5,728.6 618.0,723.9 618.5,747.7 619.0,726.8 619.5,717.7 620.0,720.9 620.5,714.2 621.0,701.1 621.5,734.7 622.0,703.0 622.5,738.0 623.0,720.7 623.5,731.6 624.0,720.5 624.5,716.9 625.0,755.3 625.5,716.1 626.0,707.7 626.5,729.3 627.0,743.3 627.5,703.9 628.0,716.4 628.5,735.3 629.0,737.3 629.5,731.7 630.0,717.7 630.5,727.5 631.0,713.3 631.5,729.6 632.0,723.6 632.5,729.3 633.0,722.0 633.5,734.6 634.0,726.8 634.5,714.7 635.0,745.7 635.5,729.3 636.0,720.1 636.5,720.1 637.0,744.8 637.5,724.7 638.0,733.4 638.5,711.2 639.0,719.2 639.5,715.1 640.0,710.1 640.5,695.5 641.0,716.3 641.5,701.9 642.0,728.0 642.5,731.3 643.0,709.3 643.5,726.9 644.0,709.6 644.5,723.8 645.0,726.1 645.5,695.5 646.0,683.9 646.5,727.8 647.0,728.7 647.5,720.2 648.0,712.4 648.5,712.7 649.0,685.4 649.5,743.6 650.0,690.4 650.5,726.2 651.0,719.1 651.5,732.0 652.0,706.8 652.5,714.1 653.0,731.5 653.5,708.5 654.0,727.8 654.5,707.8 655.0,728.5 655.5,734.3 656.0,729.5 656.5,734.9 657.0,710.3 657.5,720.9 658.0,721.0 658.5,745.5 659.0,715.6 659.5,723.7 660.0,741.2 660.5,725.6 661.0,735.7 661.5,706.8 662.0,736.2 662.5,721.9 663.0,728.6 663.5,730.1 664.0,693.1 664.5,737.2 665.0,714.8 665.5,737.8 666.0,715.9 666.5,723.9 667.0,699.0 667.5,703.0 668.0,734.5 668.5,710.0 669.0,726.0 669.5,719.8 670.0,705.3 670.5,716.5 671.0,719.3 671.5,731.6 672.0,717.4 672.5,713.8 673.0,742.9 673.5,743.0 674.0,722.3 674.5,706.4 675.0,727.1 675.5,713.7 676.0,739.6 676.5,719.0 677.0,710.1 677.5,715.8 678.0,707.8 678.5,718.7 679.0,700.3 679.5,723.1 680.0,731.5 680.5,726.3 681.0,703.8 681.5,723.6 682.0,712.6 682.5,699.1 683.0,717.3 683.5,730.3 684.0,720.0 684.5,711.0 685.0,705.9 685.5,713.5 686.0,721.8 686.5,716.8 687.0,730.5 687.5,724.3 688.0,728.0 688.5,709.9 689.0,721.0 689.5,715.0 690.0,720.6 690.5,719.1 691.0,749.0 691.5,697.0 692.0,720.4 692.5,709.0 693.0,725.1 693.5,721.5 694.0,740.2 694.5,714.4 695.0,706.2 695.5,719.1 696.0,718.3 696.5,685.0 697.0,743.8 697.5,705.6 698.0,738.7 698.5,735.8 699.0,738.5 699.5,721.3 700.0,707.6 700.5,707.6 701.0,737.1 701.5,711.3 702.0,723.0 702.5,712.3 703.0,709.5 703.5,732.0 704.0,705.0 704.5,714.8 705.0,711.7 705.5,718.0 706.0,713.3 706.5,702.9 707.0,712.5 707.5,714.8 708.0,747.3 708.5,730.5 709.0,717.4 709.5,719.1 710.0,715.2 710.5,742.2 711.0,715.5 711.5,704.0 712.0,775.7 712.5,707.9 713.0,709.7 713.5,703.2 714.0,724.3 714.5,706.6 715.0,706.6 715.5,731.3 716.0,735.9 716.5,718.7 717.0,698.6 717.5,721.7 718.0,706.4 718.5,719.1 719.0,717.9 719.5,698.0 720.0,728.2 720.5,716.4 721.0,714.6 721.5,702.5 722.0,728.6 722.5,705.6 723.0,717.0 723.5,702.2 724.0,696.6 724.5,695.9 725.0,688.8 725.5,707.6 726.0,730.2 726.5,728.0 727.0,700.3 727.5,703.6 728.0,738.1 728.5,726.6 729.0,716.4 729.5,709.2 730.0,707.5 730.5,650.8 731.0,703.8 731.5,742.8 732.0,735.8 732.5,706.9 733.0,722.4 733.5,719.7 734.0,694.5 734.5,695.5 735.0,701.9 735.5,711.9 736.0,727.2 736.5,710.8 737.0,710.2 737.5,707.1 738.0,730.2 738.5,737.0 739.0,716.3 739.5,705.7 740.0,713.5 740.5,717.1 741.0,725.7 741.5,724.2 742.0,700.4 742.5,711.7 743.0,707.0 743.5,719.4 744.0,693.3 744.5,685.3 745.0,711.0 745.5,702.9 746.0,705.6 746.5,710.7 747.0,696.5 747.5,711.6 748.0,693.9 748.5,693.7 749.0,717.1 749.5,703.7 750.0,722.4 750.5,710.4 751.0,697.5 751.5,700.4 752.0,693.4 752.5,709.6 753.0,715.8 753.5,707.0 754.0,709.8 754.5,693.4 755.0,723.9 755.5,715.6 756.0,719.6 756.5,689.3 757.0,703.7 757.5,694.5 758.0,727.9 758.5,703.2 759.0,739.1 759.5,713.7 760.0,700.7 760.5,728.9 761.0,737.1 761.5,710.0 762.0,703.6 762.5,710.4 763.0,694.2 763.5,697.0 764.0,681.2 764.5,704.1 765.0,692.1 765.5,712.1 766.0,714.5 766.5,723.9 767.0,713.5 767.5,706.0 768.0,730.9 768.5,694.9 769.0,683.5 769.5,695.5 770.0,706.5 770.5,719.2 771.0,723.6 771.5,695.4 772.0,722.9 772.5,710.9 773.0,718.3 773.5,689.6 774.0,699.8 774.5,671.6 775.0,702.3 775.5,696.0 776.0,709.8 776.5,714.7 777.0,691.1 777.5,717.0 778.0,717.9 778.5,696.7 779.0,724.7 779.5,687.5 780.0,676.4 780.5,696.1 781.0,720.5 781.5,702.5 782.0,672.1 782.5,690.7 783.0,716.6 783.5,689.4 784.0,698.7 784.5,685.3 785.0,726.5 785.5,723.5 786.0,684.9 786.5,679.6 787.0,713.5 787.5,712.6 788.0,708.9 788.5,709.9 789.0,702.2 789.5,717.5 790.0,718.5 790.5,726.3 791.0,722.3 791.5,703.6 792.0,704.5 792.5,706.4 793.0,709.5 793.5,700.6 794.0,697.2 794.5,703.5 795.0,700.5 795.5,706.3 796.0,730.4 796.5,726.3 797.0,701.3 797.5,709.2 798.0,702.9 798.5,692.9 799.0,712.3 799.5,674.8 800.0,702.7 800.5,695.4 801.0,680.7 801.5,705.5 802.0,711.0 802.5,698.5 803.0,700.4 803.5,679.8 804.0,699.7 804.5,713.2 805.0,678.1 805.5,723.6 806.0,669.1 806.5,707.2 807.0,684.9 807.5,695.1 808.0,692.2 808.5,693.9 809.0,708.6 809.5,690.4 810.0,696.5 810.5,710.6 811.0,691.3 811.5,663.8 812.0,687.6 812.5,688.3 813.0,684.5 813.5,706.5 814.0,700.8 814.5,690.4 815.0,693.7 815.5,681.7 816.0,694.4 816.5,727.4 817.0,675.2 817.5,725.5 818.0,696.9 818.5,694.5 819.0,691.2 819.5,681.5 820.0,706.8 820.5,691.2 821.0,685.2 821.5,694.4 822.0,718.4 822.5,690.9 823.0,695.7 823.5,717.5 824.0,682.0 824.5,707.0 825.0,729.0 825.5,695.2 826.0,671.2 826.5,707.9 827.0,691.5 827.5,715.2 828.0,702.9 828.5,700.9 829.0,683.2 829.5,713.0 830.0,702.9 830.5,703.1 831.0,702.6 831.5,702.6 832.0,698.0 832.5,695.6 833.0,673.9 833.5,688.0 834.0,688.8 834.5,707.9 835.0,707.5 835.5,676.7 836.0,684.7 836.5,682.5 837.0,696.6 837.5,695.1 838.0,698.3 838.5,679.5 839.0,680.6 839.5,716.3 840.0,671.3 840.5,709.8 841.0,702.5 841.5,703.4 842.0,691.8 842.5,690.1 843.0,700.6 843.5,686.5 844.0,689.7 844.5,687.6 845.0,698.4 845.5,692.6 846.0,690.5 846.5,703.8 847.0,696.8 847.5,674.8 848.0,693.2 848.5,716.0 849.0,698.2 849.5,714.5 850.0,669.1 850.5,698.7 851.0,666.0 851.5,700.3 852.0,680.7 852.5,686.7 853.0,695.4 853.5,679.2 854.0,680.0 854.5,682.7 855.0,697.9 855.5,708.2 856.0,677.7 856.5,676.0 857.0,688.7 857.5,670.0 858.0,666.1 858.5,691.2 859.0,676.2 859.5,706.3 860.0,669.0 860.5,701.7 861.0,702.6 861.5,680.1 862.0,687.7 862.5,648.5 863.0,691.3 863.5,689.2 864.0,679.5 864.5,710.4 865.0,658.0 865.5,700.4 866.0,692.0 866.5,696.0 867.0,671.6 867.5,700.6 868.0,684.9 868.5,695.8 869.0,706.8 869.5,681.8 870.0,655.2 870.5,701.1 871.0,699.0 871.5,691.5 872.0,687.2 872.5,683.1 873.0,696.0 873.5,703.1 874.0,688.6 874.5,713.6 875.0,691.7 875.5,705.3 876.0,692.6 876.5,693.8 877.0,706.8 877.5,702.8 878.0,712.5 878.5,711.6 879.0,698.6 879.5,708.7 880.0,704.9 880.5,702.0 881.0,705.0 881.5,696.7 882.0,697.7 882.5,702.2 883.0,682.1 883.5,708.7 884.0,710.0 884.5,646.7 885.0,708.7 885.5,687.9 886.0,687.6 886.5,707.3 887.0,686.2 887.5,700.5 888.0,688.5 888.5,681.5 889.0,722.2 889.5,686.3 890.0,678.8 890.5,687.5 891.0,716.5 891.5,668.4 892.0,707.3 892.5,681.3 893.0,694.7 893.5,689.0 894.0,704.5 894.5,676.9 895.0,714.0 895.5,682.0 896.0,668.0 896.5,689.6 897.0,699.0 897.5,697.8 898.0,700.0 898.5,682.7 899.0,704.8 899.5,695.6 900.0,670.1 900.5,677.1 901.0,673.5 901.5,679.2 902.0,686.7 902.5,678.3 903.0,683.1 903.5,697.2 904.0,697.9 904.5,706.5 905.0,643.9 905.5,680.0 906.0,672.6 906.5,684.3 907.0,680.8 907.5,679.7 908.0,702.8 908.5,710.1 909.0,675.3 909.5,700.0 910.0,659.6 910.5,696.5 911.0,712.5 911.5,702.0 912.0,678.3 912.5,678.8 913.0,685.8 913.5,708.3 914.0,694.9 914.5,694.1 915.0,697.4 915.5,674.3 916.0,657.3 916.5,680.2 917.0,681.7 917.5,690.9 918.0,687.4 918.5,731.2 919.0,678.9 919.5,677.9 920.0,704.2 920.5,686.3 921.0,713.5 921.5,715.7 922.0,700.5 922.5,701.0 923.0,670.2 923.5,710.1 924.0,694.5 924.5,698.7 925.0,706.9 925.5,694.7 926.0,680.2 926.5,685.8 927.0,676.6 927.5,704.7 928.0,693.8 928.5,695.3 929.0,686.1 929.5,692.9 930.0,677.3 930.5,695.7 931.0,679.8 931.5,700.1 932.0,696.8 932.5,705.4 933.0,714.3 933.5,704.5 934.0,701.3 934.5,710.3 935.0,689.6 935.5,698.1 936.0,704.7 936.5,681.9 937.0,691.5 937.5,732.1 938.0,705.7 938.5,705.5 939.0,714.3 939.5,702.5 940.0,698.0 940.5,700.2 941.0,720.6 941.5,727.6 942.0,696.3 942.5,703.2 943.0,711.3 943.5,690.0 944.0,706.2 944.5,721.8 945.0,724.0 945.5,743.4 946.0,703.6 946.5,709.7 947.0,723.2 947.5,715.6 948.0,726.7 948.5,711.1 949.0,683.8 949.5,696.5 950.0,666.9 950.5,709.8 951.0,725.5 951.5,716.8 952.0,701.0 952.5,679.5 953.0,708.4 953.5,699.9 954.0,702.2 954.5,711.5 955.0,744.0 955.5,703.4 956.0,700.2 956.5,690.5 957.0,723.1 957.5,694.3 958.0,660.8 958.5,702.0 959.0,711.4 959.5,691.2 960.0,709.1 960.5,687.8 961.0,729.5 961.5,693.8 962.0,710.5 962.5,698.4 963.0,703.6 963.5,715.2 964.0,704.1 964.5,710.0 965.0,727.5 965.5,748.4 966.0,724.5 966.5,713.4 967.0,718.5 967.5,697.2 968.0,699.6 968.5,699.3 969.0,722.6 969.5,716.7 970.0,713.6 970.5,752.7 971.0,719.6 971.5,729.7 972.0,723.2 972.5,716.9 973.0,722.8 973.5,694.5 974.0,716.5 974.5,731.9 975.0,743.1 975.5,717.4 976.0,740.9 976.5,734.7 977.0,717.5 977.5,700.7 978.0,727.8 978.5,715.0 979.0,740.2 979.5,730.3 980.0,703.1 980.5,715.9 981.0,726.1 981.5,737.8 982.0,683.3 982.5,726.0 983.0,700.0 983.5,716.5 984.0,707.8 984.5,733.0 985.0,725.6 985.5,747.5 986.0,743.8 986.5,713.5 987.0,692.0 987.5,720.6 988.0,714.7 988.5,722.2 989.0,711.4 989.5,712.4 990.0,734.3 990.5,729.0 991.0,716.5 991.5,732.6 992.0,713.8 992.5,728.9 993.0,741.0 993.5,719.3 994.0,704.3 994.5,723.4 995.0,714.3 995.5,743.1 996.0,714.6 996.5,705.2 997.0,694.6 997.5,676.0 998.0,692.4 998.5,703.7 999.0,686.3 999.5,703.3 1000.0,708.2 1001.2,735.0 1002.4,790.0 1003.6,845.5 1004.6,800.0 1005.6,735.0 1006.6,690.0 1007.6,668.0 1008.8,655.0 1010.0,609.5 1010.5,651.0 1011.0,641.4 1011.5,654.1 1012.0,619.2 1012.5,633.1 1013.0,649.0 1013.5,612.2 1014.0,631.7 1014.5,584.9 1015.0,658.1 1015.5,618.8 1016.0,630.3 1016.5,634.9 1017.0,605.7 1017.5,621.9 1018.0,606.7 1018.5,634.8 1019.0,646.7 1019.5,596.4 1020.0,626.0 1020.5,606.1 1021.0,631.2 1021.5,631.7 1022.0,636.8 1022.5,630.3 1023.0,599.0 1023.5,602.1 1024.0,615.3 1024.5,625.2 1025.0,602.9 1025.5,607.7 1026.0,618.8 1026.5,612.3 1027.0,624.8 1027.5,592.4 1028.0,614.4 1028.5,606.5 1029.0,604.9 1029.5,598.8 1030.0,592.7 1030.5,618.9 1031.0,590.0 1031.5,602.4 1032.0,597.5 1032.5,585.0 1033.0,597.6 1033.5,598.5 1034.0,616.5 1034.5,581.3 1035.0,601.4 1035.5,599.8 1036.0,605.3 1036.5,581.4 1037.0,595.2 1037.5,558.5 1038.0,592.6 1038.5,604.5 1039.0,609.9 1039.5,554.5 1040.0,580.9 1040.5,596.7 1041.0,558.2 1041.5,621.8 1042.0,588.9 1042.5,559.4 1043.0,630.2 1043.5,589.4 1044.0,551.9 1044.5,568.4 1045.0,570.8 1045.5,579.4 1046.0,604.9 1046.5,569.1 1047.0,568.9 1047.5,577.8 1048.0,586.2 1048.5,580.3 1049.0,553.5 1049.5,587.5 1050.0,559.5 1050.5,559.5 1051.0,606.8 1051.5,541.4 1052.0,568.4 1052.5,549.3 1053.0,576.5 1053.5,571.0 1054.0,548.4 1054.5,555.4 1055.0,550.7 1055.5,570.3 1056.0,533.9 1056.5,565.9 1057.0,563.7 1057.5,559.0 1058.0,551.0 1058.5,567.8 1059.0,564.4 1059.5,557.0 1060.0,553.4 1060.5,564.2 1061.0,564.9 1061.5,536.0 1062.0,533.6 1062.5,546.5 1063.0,541.6 1063.5,543.1 1064.0,544.9 1064.5,572.4 1065.0,550.9 1065.5,552.8 1066.0,564.5 1066.5,531.9 1067.0,539.8 1067.5,514.3 1068.0,531.7 1068.5,554.9 1069.0,536.6 1069.5,535.2 1070.0,565.0 1070.5,567.4 1071.0,542.3 1071.5,525.3 1072.0,516.6 1072.5,534.2 1073.0,515.3 1073.5,531.6 1074.0,523.6 1074.5,529.3 1075.0,526.9 1075.5,550.7 1076.0,530.4 1076.5,557.9 1077.0,522.9 1077.5,555.3 1078.0,511.0 1078.5,530.1 1079.0,520.9 1079.5,509.4 1080.0,558.6 1080.5,526.8 1081.0,509.2 1081.5,499.0 1082.0,532.6 1082.5,535.4 1083.0,526.0 1083.5,513.2 1084.0,516.6 1084.5,503.6 1085.0,512.9 1085.5,515.5 1086.0,532.0 1086.5,531.6 1087.0,497.8 1087.5,481.2 1088.0,543.4 1088.5,515.3 1089.0,502.0 1089.5,517.4 1090.0,500.6 1090.5,507.7 1091.0,475.0 1091.5,508.2 1092.0,540.4 1092.5,527.4 1093.0,508.8 1093.5,514.1 1094.0,525.1 1094.5,530.0 1095.0,500.4 1095.5,508.2 1096.0,515.6 1096.5,527.6 1097.0,507.0 1097.5,519.6 1098.0,525.8 1098.5,514.2 1099.0,523.2 1099.5,535.6 1100.0,495.0 1100.5,516.7 1101.0,518.1 1101.5,572.2 1102.0,480.3 1102.5,496.6 1103.0,485.9 1103.5,491.7 1104.0,517.8 1104.5,495.7 1105.0,510.7 1105.5,512.9 1106.0,508.9 1106.5,526.9 1107.0,516.7 1107.5,496.5 1108.0,500.2 1108.5,512.8 1109.0,498.3 1109.5,516.1 1110.0,506.0 1110.5,496.9 1111.0,498.9 1111.5,485.3 1112.0,507.5 1112.5,493.5 1113.0,490.6 1113.5,497.6 1114.0,538.9 1114.5,523.0 1115.0,491.1 1115.5,486.9 1116.0,508.9 1116.5,480.2 1117.0,512.5 1117.5,482.1 1118.0,511.3 1118.5,526.8 1119.0,487.9 1119.5,505.9 1120.0,508.2 1120.5,534.2 1121.0,536.2 1121.5,478.5 1122.0,514.5 1122.5,511.0 1123.0,498.9 1123.5,503.6 1124.0,476.0 1124.5,479.5 1125.0,490.8 1125.5,466.8 1126.0,494.4 1126.5,490.5 1127.0,512.6 1127.5,467.1 1128.0,511.7 1128.5,495.3 1129.0,494.3 1129.5,488.3 1130.0,487.9 1130.5,475.4 1131.0,470.6 1131.5,506.7 1132.0,447.1 1132.5,501.3 1133.0,487.3 1133.5,486.6 1134.0,498.7 1134.5,479.9 1135.0,483.2 1135.5,488.1 1136.0,475.9 1136.5,491.5 1137.0,489.4 1137.5,473.8 1138.0,488.9 1138.5,458.0 1139.0,476.3 1139.5,472.3 1140.0,442.9 1140.5,465.3 1141.0,475.8 1141.5,450.0 1142.0,443.3 1142.5,465.5 1143.0,455.2 1143.5,449.0 1144.0,465.9 1144.5,448.7 1145.0,469.9 1145.5,484.6 1146.0,470.9 1146.5,466.8 1147.0,445.0 1147.5,483.9 1148.0,457.1 1148.5,490.3 1149.0,451.2 1149.5,461.1 1150.0,438.8 1150.5,464.6 1151.0,436.0 1151.5,461.1 1152.0,488.4 1152.5,469.5 1153.0,434.1 1153.5,469.9 1154.0,431.1 1154.5,444.3 1155.0,437.2 1155.5,438.7 1156.0,441.5 1156.5,400.2 1157.0,457.8 1157.5,437.2 1158.0,421.8 1158.5,446.1 1159.0,464.9 1159.5,422.8 1160.0,451.0 1160.5,438.0 1161.0,440.0 1161.5,428.3 1162.0,436.0 1162.5,444.9 1163.0,406.6 1163.5,419.2 1164.0,422.9 1164.5,423.7 1165.0,402.2 1165.5,420.7 1166.0,411.2 1166.5,437.4 1167.0,432.1 1167.5,433.6 1168.0,440.5 1168.5,425.1 1169.0,416.3 1169.5,446.4 1170.0,426.5 1170.5,421.4 1171.0,460.2 1171.5,405.1 1172.0,445.0 1172.5,455.9 1173.0,426.0 1173.5,422.0 1174.0,440.7 1174.5,420.7 1175.0,401.1 1175.5,454.3 1176.0,461.0 1176.5,409.4 1177.0,445.7 1177.5,435.5 1178.0,431.2 1178.5,443.2 1179.0,422.1 1179.5,425.5 1180.0,429.5 1180.5,431.4 1181.0,382.7 1181.5,446.6 1182.0,434.5 1182.5,458.8 1183.0,423.4 1183.5,408.6 1184.0,438.9 1184.5,434.6 1185.0,441.2 1185.5,434.1 1186.0,403.9 1186.5,397.9 1187.0,409.8 1187.5,421.0 1188.0,414.8 1188.5,404.5 1189.0,417.8 1189.5,385.1 1190.0,414.1 1190.5,377.0 1191.0,446.0 1191.5,382.2 1192.0,448.5 1192.5,432.0 1193.0,433.6 1193.5,429.4 1194.0,408.5 1194.5,414.7 1195.0,440.7 1195.5,390.3 1196.0,402.6 1196.5,424.9 1197.0,397.2 1197.5,438.8 1198.0,386.2 1198.5,396.3 1199.0,412.5 1199.5,395.5 1200.0,401.0 1200.5,410.7 1201.0,406.2 1201.5,412.2 1202.0,412.6 1202.5,409.9 1203.0,406.5 1203.5,404.2 1204.0,409.7 1204.5,410.2 1205.0,415.6 1205.5,427.8 1206.0,386.0 1206.5,430.1 1207.0,413.1 1207.5,416.2 1208.0,390.5 1208.5,404.4 1209.0,405.3 1209.5,396.8 1210.0,417.4 1210.5,381.0 1211.0,376.6 1211.5,417.2 1212.0,408.6 1212.5,368.1 1213.0,403.2 1213.5,398.4 1214.0,410.5 1214.5,393.8 1215.0,394.5 1215.5,374.1 1216.0,388.6 1216.5,384.1 1217.0,399.1 1217.5,355.2 1218.0,390.4 1218.5,410.5 1219.0,341.4 1219.5,401.7 1220.0,392.0 1220.5,386.8 1221.0,389.7 1221.5,370.6 1222.0,397.0 1222.5,385.7 1223.0,349.0 1223.5,391.9 1224.0,359.2 1224.5,362.0 1225.0,387.0 1225.5,373.1 1226.0,383.6 1226.5,386.9 1227.0,382.6 1227.5,392.2 1228.0,354.7 1228.5,413.6 1229.0,403.9 1229.5,376.6 1230.0,385.3 1230.5,416.1 1231.0,372.6 1231.5,360.8 1232.0,430.8 1232.5,414.6 1233.0,397.5 1233.5,420.6 1234.0,400.3 1234.5,405.1 1235.0,401.5 1235.5,404.9 1236.0,373.5 1236.5,392.2 1237.0,398.5 1237.5,373.2 1238.0,369.2 1238.5,390.9 1239.0,420.2 1239.5,388.1 1240.0,409.2 1240.5,410.6 1241.0,409.5 1241.5,395.6 1242.0,351.7 1242.5,342.0 1243.0,362.8 1243.5,377.1 1244.0,381.0 1244.5,376.3 1245.0,379.6 1245.5,393.6 1246.0,358.2 1246.5,391.2 1247.0,390.5 1247.5,348.6 1248.0,380.9 1248.5,377.9 1249.0,386.8 1249.5,385.9 1250.0,338.7 1250.5,411.9 1251.0,381.3 1251.5,395.9 1252.0,395.8 1252.5,361.6 1253.0,379.4 1253.5,378.4 1254.0,421.4 1254.5,359.6 1255.0,410.4 1255.5,397.0 1256.0,379.0 1256.5,361.6 1257.0,377.9 1257.5,398.1 1258.0,367.9 1258.5,386.0 1259.0,392.7 1259.5,393.5 1260.0,372.0 1260.5,394.1 1261.0,396.6 1261.5,345.9 1262.0,361.5 1262.5,355.6 1263.0,366.5 1263.5,394.2 1264.0,389.9 1264.5,387.6 1265.0,371.9 1265.5,397.6 1266.0,351.4 1266.5,351.7 1267.0,389.6 1267.5,373.0 1268.0,398.1 1268.5,395.0 1269.0,395.4 1269.5,360.7 1270.0,366.4 1270.5,348.3 1271.0,379.2 1271.5,378.6 1272.0,368.5 1272.5,373.2 1273.0,379.8 1273.5,393.6 1274.0,366.5 1274.5,368.0 1275.0,374.8 1275.5,385.8 1276.0,407.6 1276.5,390.2 1277.0,327.0 1277.5,341.8 1278.0,356.9 1278.5,325.9 1279.0,385.6 1279.5,355.6 1280.0,344.5 1280.5,364.8 1281.0,372.0 1281.5,360.3 1282.0,367.1 1282.5,384.8 1283.0,347.7 1283.5,366.6 1284.0,330.9 1284.5,344.9 1285.0,386.5 1285.5,352.7 1286.0,347.6 1286.5,381.2 1287.0,358.9 1287.5,386.1 1288.0,407.3 1288.5,412.9 1289.0,369.7 1289.5,379.5 1290.0,362.1 1290.5,404.4 1291.0,380.6 1291.5,422.6 1292.0,363.3 1292.5,370.4 1293.0,319.4 1293.5,360.8 1294.0,361.5 1294.5,381.2 1295.0,392.9 1295.5,359.7 1296.0,373.5 1296.5,385.9 1297.0,372.9 1297.5,387.2 1298.0,401.9 1298.5,362.4 1299.0,380.2 1299.5,395.7 1300.0,374.9 1300.5,402.2 1301.0,364.7 1301.5,395.4 1302.0,379.7 1302.5,385.7 1303.0,360.9 1303.5,392.7 1304.0,352.3 1304.5,392.5 1305.0,372.9 1305.5,376.0 1306.0,396.5 1306.5,346.3 1307.0,384.7 1307.5,378.7 1308.0,362.6 1308.5,386.4 1309.0,371.8 1309.5,406.6 1310.0,363.8 1310.5,396.7 1311.0,393.5 1311.5,373.4 1312.0,355.4 1312.5,366.2 1313.0,340.0 1313.5,347.9 1314.0,350.7 1314.5,368.7 1315.0,341.0 1315.5,374.4 1316.0,359.0 1316.5,385.0 1317.0,377.0 1317.5,355.4 1318.0,368.7 1318.5,369.3 1319.0,355.1 1319.5,358.4 1320.0,359.5 1320.5,343.5 1321.0,338.6 1321.5,364.4 1322.0,329.1 1322.5,373.2 1323.0,377.9 1323.5,357.8 1324.0,373.2 1324.5,352.8 1325.0,376.8 1325.5,424.1 1326.0,375.3 1326.5,364.6 1327.0,362.6 1327.5,336.1 1328.0,347.7 1328.5,356.9 1329.0,352.1 1329.5,364.7 1330.0,385.2 1330.5,336.5 1331.0,349.7 1331.5,364.8 1332.0,340.2 1332.5,343.2 1333.0,367.3 1333.5,364.2 1334.0,355.7 1334.5,330.0 1335.0,358.7 1335.5,361.3 1336.0,336.0 1336.5,343.2 1337.0,337.3 1337.5,336.8 1338.0,325.2 1338.5,349.6 1339.0,328.4 1339.5,375.7 1340.0,354.5 1340.5,334.5 1341.0,381.0 1341.5,341.4 1342.0,296.8 1342.5,358.1 1343.0,350.1 1343.5,337.4 1344.0,339.9 1344.5,330.0 1345.0,320.2 1345.5,325.6 1346.0,392.9 1346.5,336.8 1347.0,350.6 1347.5,379.6 1348.0,336.3 1348.5,348.2 1349.0,342.1 1349.5,325.3 1350.0,360.5 1350.5,361.9 1351.0,347.2 1351.5,346.4 1352.0,362.9 1352.5,366.1 1353.0,388.1 1353.5,366.5 1354.0,370.4 1354.5,343.2 1355.0,330.8 1355.5,376.6 1356.0,340.2 1356.5,365.6 1357.0,357.5 1357.5,339.7 1358.0,359.8 1358.5,387.3 1359.0,381.4 1359.5,350.1 1360.0,350.8 1360.5,291.8 1361.0,332.5 1361.5,342.6 1362.0,352.1 1362.5,361.2 1363.0,346.3 1363.5,376.6 1364.0,339.1 1364.5,367.0 1365.0,338.1 1365.5,350.2 1366.0,358.7 1366.5,370.3 1367.0,343.2 1367.5,349.0 1368.0,350.8 1368.5,359.4 1369.0,378.5 1369.5,366.6 1370.0,347.6 1370.5,346.2 1371.0,372.8 1371.5,373.1 1372.0,370.7 1372.5,355.0 1373.0,339.2 1373.5,332.2 1374.0,359.0 1374.5,338.4 1375.0,354.6 1375.5,393.9 1376.0,361.8 1376.5,369.6 1377.0,336.6 1377.5,377.2 1378.0,344.1 1378.5,350.9 1379.0,353.0 1379.5,350.1 1380.0,340.2 1380.5,361.7 1381.0,386.7 1381.5,343.5 1382.0,363.3 1382.5,331.4 1383.0,355.5 1383.5,340.4 1384.0,375.5 1384.5,339.9 1385.0,359.8 1385.5,353.1 1386.0,327.3 1386.5,348.9 1387.0,346.1 1387.5,363.1 1388.0,346.2 1388.5,316.7 1389.0,330.3 1389.5,341.4 1390.0,364.4 1390.5,346.1 1391.0,368.8 1391.5,348.4 1392.0,358.1 1392.5,367.7 1393.0,353.4 1393.5,320.4 1394.0,371.9 1394.5,348.2 1395.0,368.0 1395.5,304.0 1396.0,352.7 1396.5,352.8 1397.0,343.5 1397.5,350.3 1398.0,332.2 1398.5,332.7 1399.0,355.2 1399.5,341.6 1400.0,357.6 1400.5,353.8 1401.0,332.8 1401.5,344.8 1402.0,338.6 1402.5,353.5 1403.0,373.4 1403.5,343.7 1404.0,335.9 1404.5,382.3 1405.0,337.3 1405.5,328.0 1406.0,330.8 1406.5,300.8 1407.0,366.3 1407.5,359.6 1408.0,359.6 1408.5,350.0 1409.0,336.7 1409.5,327.3 1410.0,324.1 1410.5,353.3 1411.0,357.5 1411.5,355.1 1412.0,321.2 1412.5,374.4 1413.0,326.6 1413.5,339.7 1414.0,338.2 1414.5,330.8 1415.0,299.1 1415.5,316.4 1416.0,327.4 1416.5,358.0 1417.0,335.0 1417.5,348.6 1418.0,320.5 1418.5,335.0 1419.0,362.3 1419.5,374.3 1420.0,348.9 1420.5,352.1 1421.0,345.0 1421.5,341.7 1422.0,347.7 1422.5,363.3 1423.0,334.3 1423.5,325.1 1424.0,356.3 1424.5,336.3 1425.0,351.9 1425.5,326.9 1426.0,348.1 1426.5,336.6 1427.0,335.1 1427.5,360.2 1428.0,334.0 1428.5,300.5 1429.0,318.5 1429.5,337.8 1430.0,371.4 1430.5,334.7 1431.0,321.3 1431.5,319.3 1432.0,355.8 1432.5,344.9 1433.0,345.6 1433.5,345.6 1434.0,359.4 1434.5,308.3 1435.0,355.5 1435.5,343.0 1436.0,305.5 1436.5,344.8 1437.0,358.4 1437.5,330.3 1438.0,355.2 1438.5,298.8 1439.0,309.7 1439.5,342.4 1440.0,336.0 1440.5,347.3 1441.0,346.3 1441.5,353.8 1442.0,312.6 1442.5,313.9 1443.0,359.7 1443.5,348.7 1444.0,340.7 1444.5,334.6 1445.0,369.0 1445.5,329.3 1446.0,352.5 1446.5,371.9 1447.0,334.4 1447.5,336.6 1448.0,340.0 1448.5,310.2 1449.0,382.8 1449.5,364.3 1450.0,380.9 1450.5,347.1 1451.0,355.7 1451.5,372.0 1452.0,380.3 1452.5,357.2 1453.0,359.5 1453.5,338.4 1454.0,356.5 1454.5,349.7 1455.0,366.4 1455.5,361.9 1456.0,331.5 1456.5,332.5 1457.0,358.0 1457.5,345.2 1458.0,355.8 1458.5,369.6 1459.0,328.4 1459.5,356.0 1460.0,329.7 1460.5,346.2 1461.0,338.8 1461.5,320.3 1462.0,297.3 1462.5,331.3 1463.0,316.0 1463.5,340.3 1464.0,340.8 1464.5,352.1 1465.0,344.3 1465.5,297.1 1466.0,300.4 1466.5,315.9 1467.0,332.4 1467.5,337.6 1468.0,320.8 1468.5,340.0 1469.0,305.5 1469.5,351.4 1470.0,323.4 1470.5,324.2 1471.0,326.1 1471.5,334.6 1472.0,360.3 1472.5,338.2 1473.0,356.2 1473.5,327.8 1474.0,350.8 1474.5,351.6 1475.0,353.9 1475.5,319.5 1476.0,320.0 1476.5,335.0 1477.0,345.4 1477.5,322.2 1478.0,340.3 1478.5,364.6 1479.0,301.5 1479.5,311.5 1480.0,328.7 1480.5,341.4 1481.0,332.7 1481.5,340.4 1482.0,356.8 1482.5,323.0 1483.0,313.1 1483.5,351.7 1484.0,298.4 1484.5,341.7 1485.0,348.8 1485.5,328.9 1486.0,314.6 1486.5,327.5 1487.0,317.7 1487.5,363.4 1488.0,340.1 1488.5,333.0 1489.0,339.5 1489.5,339.7 1490.0,348.7 1490.5,337.0 1491.0,316.0 1491.5,326.3 1492.0,308.9 1492.5,302.9 1493.0,334.0 1493.5,320.7 1494.0,328.0 1494.5,340.0 1495.0,345.6 1495.5,334.5 1496.0,325.0 1496.5,349.1 1497.0,323.2 1497.5,367.2 1498.0,333.7 1498.5,361.1 1499.0,320.8 1499.5,351.0 1500.0,341.4 1500.5,330.6 1501.0,351.6 1501.5,342.2 1502.0,335.4 1502.5,331.3 1503.0,342.4 1503.5,338.2 1504.0,323.3 1504.5,326.8 1505.0,336.1 1505.5,317.5 1506.0,304.3 1506.5,354.3 1507.0,329.8 1507.5,380.3 1508.0,340.3 1508.5,349.3 1509.0,351.6 1509.5,336.1 1510.0,328.8 1510.5,308.4 1511.0,317.4 1511.5,315.7 1512.0,315.1 1512.5,315.4 1513.0,347.4 1513.5,308.6 1514.0,374.1 1514.5,330.0 1515.0,353.4 1515.5,351.1 1516.0,355.1 1516.5,343.2 1517.0,339.6 1517.5,345.0 1518.0,359.1 1518.5,356.7 1519.0,346.7 1519.5,315.8 1520.0,324.9 1520.5,344.5 1521.0,361.1 1521.5,365.5 1522.0,327.0 1522.5,344.6 1523.0,328.2 1523.5,320.3 1524.0,340.0 1524.5,347.1 1525.0,340.2 1525.5,294.6 1526.0,356.3 1526.5,298.7 1527.0,354.1 1527.5,360.1 1528.0,391.5 1528.5,310.7 1529.0,328.8 1529.5,341.5 1530.0,347.6 1530.5,330.3 1531.0,359.3 1531.5,333.3 1532.0,344.0 1532.5,342.9 1533.0,356.9 1533.5,363.7 1534.0,319.9 1534.5,362.5 1535.0,329.0 1535.5,332.0 1536.0,335.6 1536.5,343.8 1537.0,358.0 1537.5,355.3 1538.0,317.9 1538.5,342.9 1539.0,362.8 1539.5,359.6 1540.0,344.4 1540.5,325.7 1541.0,348.9 1541.5,334.0 1542.0,313.1 1542.5,294.1 1543.0,350.4 1543.5,362.2 1544.0,375.1 1544.5,363.2 1545.0,349.3 1545.5,336.5 1546.0,342.9 1546.5,352.5 1547.0,320.4 1547.5,340.9 1548.0,331.4 1548.5,350.1 1549.0,350.8 1549.5,301.4 1550.0,311.1 1550.5,341.1 1551.0,350.8 1551.5,326.4 1552.0,343.8 1552.5,341.5 1553.0,332.1 1553.5,329.1 1554.0,345.3 1554.5,359.4 1555.0,327.5 1555.5,347.7 1556.0,341.8 1556.5,325.8 1557.0,323.9 1557.5,316.7 1558.0,335.0 1558.5,342.1 1559.0,325.4 1559.5,297.8 1560.0,331.9 1560.5,326.5 1561.0,321.3 1561.5,348.0 1562.0,311.2 1562.5,318.7 1563.0,326.0 1563.5,351.6 1564.0,305.3 1564.5,328.4 1565.0,291.9 1565.5,314.4 1566.0,322.8 1566.5,305.9 1567.0,338.3 1567.5,330.7 1568.0,313.4 1568.5,329.9 1569.0,314.5 1569.5,322.8 1570.0,324.8 1570.5,351.6 1571.0,311.8 1571.5,340.0 1572.0,349.4 1572.5,332.3 1573.0,341.2 1573.5,368.1 1574.0,312.5 1574.5,311.4 1575.0,343.7 1575.5,332.5 1576.0,358.9 1576.5,323.3 1577.0,333.0 1577.5,351.5 1578.0,290.9 1578.5,352.4 1579.0,327.6 1579.5,311.4 1580.0,314.6 1580.5,315.9 1581.0,350.1 1581.5,308.1 1582.0,348.5 1582.5,317.0 1583.0,336.2 1583.5,322.1 1584.0,328.7 1584.5,346.6 1585.0,327.7 1585.5,319.5 1586.0,348.8 1586.5,368.4 1587.0,327.5 1587.5,329.4 1588.0,324.1 1588.5,307.6 1589.0,318.8 1589.5,344.3 1590.0,321.1 1590.5,339.7 1591.0,338.4 1591.5,344.4 1592.0,360.4 1592.5,330.4 1593.0,304.0 1593.5,332.8 1594.0,335.9 1594.5,358.1 1595.0,325.5 1595.5,312.2 1596.0,310.5 1596.5,338.2 1597.0,322.5 1597.5,345.1 1598.0,350.6 1598.5,325.4 1599.0,333.6 1599.5,320.2 1600.0,331.5 1600.5,294.8 1601.0,305.7 1601.5,351.0 1602.0,296.2 1602.5,287.6 1603.0,327.1 1603.5,301.4 1604.0,313.0 1604.5,307.6 1605.0,352.2 1605.5,324.9 1606.0,356.7 1606.5,328.9 1607.0,295.6 1607.5,325.9 1608.0,288.1 1608.5,339.5 1609.0,282.5 1609.5,340.8 1610.0,331.6 1610.5,349.0 1611.0,333.4 1611.5,330.9 1612.0,319.7 1612.5,316.1 1613.0,314.8 1613.5,320.7 1614.0,321.6 1614.5,370.3 1615.0,338.4 1615.5,315.6 1616.0,355.4 1616.5,332.3 1617.0,317.5 1617.5,331.0 1618.0,316.8 1618.5,339.0 1619.0,324.7 1619.5,353.2 1620.0,311.5 1620.5,336.7 1621.0,310.0 1621.5,365.1 1622.0,309.7 1622.5,366.8 1623.0,327.3 1623.5,351.7 1624.0,316.6 1624.5,325.8 1625.0,355.6 1625.5,305.4 1626.0,338.1 1626.5,298.9 1627.0,364.0 1627.5,346.0 1628.0,293.2 1628.5,319.2 1629.0,345.0 1629.5,369.2 1630.0,330.3 1630.5,297.8 1631.0,354.5 1631.5,315.9 1632.0,330.4 1632.5,318.0 1633.0,300.4 1633.5,285.3 1634.0,354.8 1634.5,330.0 1635.0,325.1 1635.5,311.7 1636.0,331.3 1636.5,305.5 1637.0,305.2 1637.5,301.2 1638.0,302.2 1638.5,334.8 1639.0,302.7 1639.5,366.1 1640.0,330.0 1640.5,325.3 1641.0,329.3 1641.5,363.1 1642.0,290.8 1642.5,335.2 1643.0,368.0 1643.5,364.5 1644.0,337.7 1644.5,328.4 1645.0,377.0 1645.5,325.8 1646.0,372.1 1646.5,317.3 1647.0,305.5 1647.5,335.8 1648.0,326.4 1648.5,291.0 1649.0,334.5 1649.5,380.6 1650.0,332.9 1650.5,341.3 1651.0,329.5 1651.5,326.0 1652.0,329.9 1652.5,325.3 1653.0,323.8 1653.5,329.0 1654.0,328.5 1654.5,322.1 1655.0,291.2 1655.5,303.0 1656.0,297.1 1656.5,313.5 1657.0,345.8 1657.5,323.0 1658.0,306.3 1658.5,353.5 1659.0,333.3 1659.5,305.8 1660.0,327.6 1660.5,336.2 1661.0,334.5 1661.5,305.3 1662.0,321.1 1662.5,306.4 1663.0,295.9 1663.5,331.6 1664.0,285.2 1664.5,319.6 1665.0,341.0 1665.5,333.7 1666.0,320.5 1666.5,328.9 1667.0,326.0 1667.5,349.4 1668.0,335.1 1668.5,339.2 1669.0,314.9 1669.5,325.9 1670.0,320.7 1670.5,349.7 1671.0,344.8 1671.5,331.4 1672.0,344.3 1672.5,329.6 1673.0,324.3 1673.5,336.9 1674.0,329.1 1674.5,366.1 1675.0,302.5 1675.5,345.8 1676.0,311.3 1676.5,343.4 1677.0,310.8 1677.5,295.4 1678.0,356.4 1678.5,325.0 1679.0,356.5 1679.5,311.4 1680.0,308.8 1680.5,346.4 1681.0,312.2 1681.5,323.4 1682.0,306.8 1682.5,317.4 1683.0,282.6 1683.5,315.0 1684.0,317.6 1684.5,338.0 1685.0,341.0 1685.5,321.7 1686.0,327.0 1686.5,323.5 1687.0,362.3 1687.5,308.5 1688.0,336.5 1688.5,322.9 1689.0,298.5 1689.5,333.7 1690.0,344.6 1690.5,332.0 1691.0,303.2 1691.5,337.4 1692.0,338.5 1692.5,320.0 1693.0,343.4 1693.5,299.1 1694.0,306.7 1694.5,324.5 1695.0,330.9 1695.5,346.0 1696.0,349.6 1696.5,318.2 1697.0,349.5 1697.5,360.0 1698.0,348.4 1698.5,333.1 1699.0,329.0 1699.5,319.1 1700.0,297.9 1700.5,319.3 1701.0,304.3 1701.5,332.6 1702.0,329.4 1702.5,332.8 1703.0,328.8 1703.5,331.5 1704.0,313.8 1704.5,313.6 1705.0,330.6 1705.5,347.5 1706.0,287.3 1706.5,296.5 1707.0,312.7 1707.5,299.1 1708.0,306.8 1708.5,314.5 1709.0,300.4 1709.5,328.2 1710.0,323.0 1710.5,323.2 1711.0,319.3 1711.5,325.3 1712.0,259.7 1712.5,330.2 1713.0,299.6 1713.5,356.8 1714.0,307.3 1714.5,328.3 1715.0,297.0 1715.5,303.4 1716.0,329.5 1716.5,335.8 1717.0,354.3 1717.5,342.2 1718.0,349.6 1718.5,364.3 1719.0,299.2 1719.5,353.8 1720.0,312.9 1720.5,334.7 1721.0,324.7 1721.5,343.8 1722.0,345.2 1722.5,339.7 1723.0,319.5 1723.5,292.7 1724.0,325.5 1724.5,320.5 1725.0,323.7 1725.5,333.1 1726.0,358.5 1726.5,342.2 1727.0,328.3 1727.5,308.3 1728.0,296.0 1728.5,343.0 1729.0,327.6 1729.5,314.3 1730.0,286.7 1730.5,307.2 1731.0,325.9 1731.5,324.4 1732.0,308.3 1732.5,318.8 1733.0,314.4 1733.5,310.8 1734.0,341.0 1734.5,330.5 1735.0,324.5 1735.5,311.0 1736.0,343.5 1736.5,294.5 1737.0,321.5 1737.5,297.1 1738.0,276.7 1738.5,307.6 1739.0,277.8 1739.5,310.4 1740.0,289.7 1740.5,314.5 1741.0,305.4 1741.5,288.7 1742.0,307.5 1742.5,303.3 1743.0,344.9 1743.5,343.1 1744.0,331.4 1744.5,334.6 1745.0,360.0 1745.5,320.7 1746.0,319.2 1746.5,342.9 1747.0,326.4 1747.5,298.2 1748.0,342.1 1748.5,321.4 1749.0,341.1 1749.5,343.7 1750.0,309.1 1750.5,314.7 1751.0,323.4 1751.5,289.4 1752.0,293.2 1752.5,314.4 1753.0,311.8 1753.5,293.8 1754.0,309.8 1754.5,315.4 1755.0,294.2 1755.5,292.0 1756.0,304.4 1756.5,287.8 1757.0,289.5 1757.5,299.6 1758.0,271.3 1758.5,297.4 1759.0,308.2 1759.5,285.5 1760.0,327.5 1760.5,312.9 1761.0,331.0 1761.5,304.7 1762.0,317.2 1762.5,304.2 1763.0,287.7 1763.5,316.8 1764.0,293.1 1764.5,317.2 1765.0,290.1 1765.5,309.1 1766.0,304.3 1766.5,332.9 1767.0,305.8 1767.5,344.7 1768.0,317.6 1768.5,336.5 1769.0,302.8 1769.5,328.3 1770.0,328.3 1770.5,324.8 1771.0,319.3 1771.5,341.4 1772.0,290.4 1772.5,328.0 1773.0,306.5 1773.5,328.4 1774.0,334.6 1774.5,328.7 1775.0,317.8 1775.5,307.3 1776.0,299.9 1776.5,311.1 1777.0,330.3 1777.5,291.4 1778.0,363.8 1778.5,314.8 1779.0,301.1 1779.5,334.7 1780.0,336.5 1780.5,323.3 1781.0,303.1 1781.5,318.3 1782.0,335.4 1782.5,327.6 1783.0,279.8 1783.5,328.4 1784.0,347.4 1784.5,303.6 1785.0,282.5 1785.5,302.5 1786.0,318.5 1786.5,311.6 1787.0,311.5 1787.5,259.9 1788.0,301.5 1788.5,302.5 1789.0,316.9 1789.5,341.5 1790.0,305.3 1790.5,342.8 1791.0,348.0 1791.5,342.1 1792.0,314.4 1792.5,346.6 1793.0,316.0 1793.5,319.4 1794.0,297.4 1794.5,305.4 1795.0,305.7 1795.5,347.7 1796.0,327.1 1796.5,327.4 1797.0,313.3 1797.5,309.7 1798.0,298.7 1798.5,310.0 1799.0,340.7 1799.5,311.2 1800.0,352.6 1800.5,324.6 1801.0,307.0 1801.5,336.9 1802.0,312.8 1802.5,328.5 1803.0,299.0 1803.5,332.0 1804.0,311.6 1804.5,309.0 1805.0,320.9 1805.5,291.4 1806.0,262.7 1806.5,284.7 1807.0,316.9 1807.5,326.8 1808.0,274.9 1808.5,307.9 1809.0,309.3 1809.5,276.3 1810.0,269.2 1810.5,330.1 1811.0,306.0 1811.5,293.7 1812.0,306.4 1812.5,267.7 1813.0,303.9 1813.5,294.5 1814.0,291.3 1814.5,316.3 1815.0,297.0 1815.5,297.6 1816.0,291.9 1816.5,285.4 1817.0,297.3 1817.5,326.4 1818.0,264.5 1818.5,281.8 1819.0,289.0 1819.5,311.0 1820.0,286.0 1820.5,306.9 1821.0,254.7 1821.5,273.2 1822.0,304.7 1822.5,250.8 1823.0,298.4 1823.5,316.5 1824.0,306.6 1824.5,315.8 1825.0,280.2 1825.5,286.2 1826.0,314.5 1826.5,304.9 1827.0,331.5 1827.5,307.2 1828.0,298.6 1828.5,294.2 1829.0,321.6 1829.5,315.0 1830.0,286.8 1830.5,306.0 1831.0,278.5 1831.5,312.0 1832.0,292.9 1832.5,325.5 1833.0,328.1 1833.5,314.5 1834.0,272.0 1834.5,290.4 1835.0,305.6 1835.5,305.2 1836.0,308.3 1836.5,320.4 1837.0,285.7 1837.5,276.3 1838.0,275.6 1838.5,320.8 1839.0,328.9 1839.5,296.3 1840.0,307.2 1840.5,334.9 1841.0,305.7 1841.5,325.0 1842.0,329.2 1842.5,320.8 1843.0,333.9"/>
<polyline stroke="#000" stroke-width="7.3" stroke-dasharray="27.96 12.12" points="284.2,1616.0 988.4,1661.3 994.3,1095.0 1003.8,1086.0"/>
<polyline stroke="#000" stroke-width="7.3" stroke-dasharray="27.99 12.14" points="1003.8,1086.0 1006.0,1089.2 1010.0,1095.4 1014.0,1101.5 1018.0,1107.6 1022.0,1113.7 1026.0,1119.6 1030.0,1125.6 1034.0,1131.4 1038.0,1137.2 1042.0,1142.9 1046.0,1148.6 1050.0,1154.3 1054.0,1159.8 1058.0,1165.3 1062.0,1170.8 1066.0,1176.2 1070.0,1181.6 1074.0,1186.9 1078.0,1192.1 1082.0,1197.3 1086.0,1202.5 1090.0,1207.6 1094.0,1212.6 1098.0,1217.6 1102.0,1222.5 1106.0,1227.4 1110.0,1232.3 1114.0,1237.1 1118.0,1241.9 1122.0,1246.6 1126.0,1251.2 1130.0,1255.9 1134.0,1260.4 1138.0,1265.0 1142.0,1269.4 1146.0,1273.9 1150.0,1278.3 1154.0,1282.6 1158.0,1286.9 1162.0,1291.2 1166.0,1295.4 1170.0,1299.6 1174.0,1303.8 1178.0,1307.9 1182.0,1312.0 1186.0,1316.0 1190.0,1320.0 1194.0,1323.9 1198.0,1327.8 1202.0,1331.7 1206.0,1335.5 1210.0,1339.3 1214.0,1343.1 1218.0,1346.8 1222.0,1350.5 1226.0,1354.2 1230.0,1357.8 1234.0,1361.4 1238.0,1364.9 1242.0,1368.5 1246.0,1371.9 1250.0,1375.4 1254.0,1378.8 1258.0,1382.2 1262.0,1385.5 1266.0,1388.9 1270.0,1392.1 1274.0,1395.4 1278.0,1398.6 1282.0,1401.8 1286.0,1405.0 1290.0,1408.1 1294.0,1411.2 1298.0,1414.3 1302.0,1417.4 1306.0,1420.4 1310.0,1423.4 1314.0,1426.3 1318.0,1429.2 1322.0,1432.2 1326.0,1435.0 1330.0,1437.9 1334.0,1440.7 1338.0,1443.5 1342.0,1446.3 1346.0,1449.0 1350.0,1451.7 1354.0,1454.4 1358.0,1457.1 1362.0,1459.7 1366.0,1462.4 1370.0,1464.9 1374.0,1467.5 1378.0,1470.1 1382.0,1472.6 1386.0,1475.1 1390.0,1477.6 1394.0,1480.0 1398.0,1482.4 1402.0,1484.8 1406.0,1487.2 1410.0,1489.6 1414.0,1491.9 1418.0,1494.3 1422.0,1496.6 1426.0,1498.8 1430.0,1501.1 1434.0,1503.3 1438.0,1505.5 1442.0,1507.7 1446.0,1509.9 1450.0,1512.1 1454.0,1514.2 1458.0,1516.3 1462.0,1518.4 1466.0,1520.5 1470.0,1522.5 1474.0,1524.6 1478.0,1526.6 1482.0,1528.6 1486.0,1530.6 1490.0,1532.6 1494.0,1534.5 1498.0,1536.4 1502.0,1538.3 1506.0,1540.2 1510.0,1542.1 1514.0,1544.0 1518.0,1545.8 1522.0,1547.7 1526.0,1549.5 1530.0,1551.3 1534.0,1553.1 1538.0,1554.8 1542.0,1556.6 1546.0,1558.3 1550.0,1560.0 1554.0,1561.7 1558.0,1563.4 1562.0,1565.1 1566.0,1566.8 1570.0,1568.4 1574.0,1570.0 1578.0,1571.6 1582.0,1573.2 1586.0,1574.8 1590.0,1576.4 1594.0,1578.0 1598.0,1579.5 1602.0,1581.1 1606.0,1582.6 1610.0,1584.1 1614.0,1585.6 1618.0,1587.1 1622.0,1588.5 1626.0,1590.0 1630.0,1591.4 1634.0,1592.9 1638.0,1594.3 1642.0,1595.7 1646.0,1597.1 1650.0,1598.5 1654.0,1599.8 1658.0,1601.2 1662.0,1602.5 1666.0,1603.9 1670.0,1605.2 1674.0,1606.5 1678.0,1607.8 1682.0,1609.1 1686.0,1610.4 1690.0,1611.7 1694.0,1612.9 1698.0,1614.2 1702.0,1615.4 1706.0,1616.7 1710.0,1617.9 1714.0,1619.1 1718.0,1620.3 1722.0,1621.5 1726.0,1622.7 1730.0,1623.8 1734.0,1625.0 1738.0,1626.1 1742.0,1627.3 1746.0,1628.4 1750.0,1629.5 1754.0,1630.7 1758.0,1631.8 1762.0,1632.9 1766.0,1633.9 1770.0,1635.0 1774.0,1636.1 1778.0,1637.2 1782.0,1638.2 1786.0,1639.3 1790.0,1640.3 1794.0,1641.3 1798.0,1642.4 1802.0,1643.4 1806.0,1644.4 1810.0,1645.4 1814.0,1646.4 1818.0,1647.3 1822.0,1648.3 1826.0,1649.3 1830.0,1650.3 1832.0,1650.7"/>
<polyline stroke="#000" stroke-width="7.3" stroke-dasharray="27.96 12.12" stroke-dashoffset="-2.5" points="284.2,756.1 292.2,755.4 300.2,754.7 308.2,754.0 316.2,753.4 324.2,752.7 332.2,752.0 340.2,751.3 348.2,750.7 356.2,750.0 364.2,749.3 372.2,748.6 380.2,747.9 388.2,747.3 396.2,746.6 404.2,745.9 412.2,745.2 420.2,744.6 428.2,743.9 436.2,743.2 444.2,742.5 452.2,741.9 460.2,741.2 468.2,740.5 476.2,739.8 484.2,739.1 492.2,738.5 500.2,737.8 508.2,737.1 516.2,736.4 524.2,735.8 532.2,735.1 540.2,734.4 548.2,733.7 556.2,733.1 564.2,732.4 572.2,731.7 580.2,731.0 588.2,730.3 596.2,729.7 604.2,729.0 612.2,728.3 620.2,727.6 628.2,727.0 636.2,726.3 644.2,725.6 652.2,724.9 660.2,724.3 668.2,723.6 676.2,722.9 684.2,722.2 692.2,721.6 700.2,720.9 708.2,720.2 716.2,719.5 724.2,718.8 732.2,718.2 740.2,717.5 748.2,716.8 756.2,716.1 764.2,715.5 772.2,714.8 780.2,714.1 788.2,713.4 796.2,712.8 804.2,712.1 812.2,711.4 820.2,710.7 828.2,710.0 836.2,709.4 844.2,708.7 852.2,708.0 860.2,707.3 868.2,706.7 876.2,706.0 884.2,705.3 892.2,704.6 900.2,704.0 908.2,703.3 916.2,702.6 924.2,701.9 932.2,701.2 940.2,700.6 948.2,699.9 956.2,699.2 964.2,698.5 972.2,697.9 980.2,697.2 988.2,696.5 993.0,696.1 995.0,689.7 997.0,683.3 999.0,677.1 1001.0,671.0 1003.0,665.1 1005.0,659.2 1007.0,653.5 1009.0,647.9 1011.0,642.3 1013.0,636.9 1015.0,631.6 1017.0,626.4 1019.0,621.3 1021.0,616.3 1023.0,611.3 1025.0,606.5 1027.0,601.8 1029.0,597.1 1031.0,592.6 1033.0,588.1 1035.0,583.7 1037.0,579.4 1039.0,575.2 1041.0,571.1 1043.0,567.0 1045.0,563.0 1047.0,559.1 1049.0,555.2 1051.0,551.5 1053.0,547.8 1055.0,544.2 1057.0,540.6 1059.0,537.1 1061.0,533.7 1063.0,530.3 1065.0,527.0 1067.0,523.8 1069.0,520.6 1071.0,517.5 1073.0,514.4 1075.0,511.4 1077.0,508.5 1079.0,505.6 1081.0,502.8 1083.0,500.0 1085.0,497.2 1087.0,494.6 1089.0,491.9 1091.0,489.3 1093.0,486.8 1095.0,484.3 1097.0,481.9 1099.0,479.5 1101.0,477.1 1103.0,474.8 1105.0,472.5 1107.0,470.3 1109.0,468.1 1111.0,466.0 1113.0,463.9 1115.0,461.8 1117.0,459.8 1119.0,457.8 1121.0,455.8 1123.0,453.9 1125.0,452.0 1127.0,450.1 1129.0,448.3 1131.0,446.5 1133.0,444.7 1135.0,443.0 1137.0,441.3 1139.0,439.7 1141.0,438.0 1143.0,436.4 1145.0,434.8 1147.0,433.3 1149.0,431.8 1151.0,430.3 1153.0,428.8 1155.0,427.3 1157.0,425.9 1159.0,424.5 1161.0,423.2 1163.0,421.8 1165.0,420.5 1167.0,419.2 1169.0,417.9 1171.0,416.6 1173.0,415.4 1175.0,414.2 1177.0,413.0 1179.0,411.8 1181.0,410.7 1183.0,409.5 1185.0,408.4 1187.0,407.3 1189.0,406.2 1191.0,405.2 1193.0,404.1 1195.0,403.1 1197.0,402.1 1199.0,401.1 1201.0,400.1 1203.0,399.2 1205.0,398.2 1207.0,397.3 1209.0,396.4 1211.0,395.5 1213.0,394.6 1215.0,393.7 1217.0,392.9 1219.0,392.0 1221.0,391.2 1223.0,390.4 1225.0,389.6 1227.0,388.8 1229.0,388.0 1231.0,387.3 1233.0,386.5 1235.0,385.8 1237.0,385.0 1239.0,384.3 1241.0,383.6 1243.0,382.9 1245.0,382.2 1247.0,381.5 1249.0,380.9 1251.0,380.2 1253.0,379.6 1255.0,378.9 1257.0,378.3 1259.0,377.7 1261.0,377.1 1263.0,376.5 1265.0,375.9 1267.0,375.3 1269.0,374.7 1271.0,374.2 1273.0,373.6 1275.0,373.0 1277.0,372.5 1279.0,372.0 1281.0,371.4 1283.0,370.9 1285.0,370.4 1287.0,369.9 1289.0,369.4 1291.0,368.9 1293.0,368.4 1295.0,367.9 1297.0,367.4 1299.0,367.0 1300.0,366.7 1308.0,364.9 1316.0,363.2 1324.0,361.6 1332.0,360.0 1340.0,358.5 1348.0,357.1 1356.0,355.7 1364.0,354.4 1372.0,353.1 1380.0,351.9 1388.0,350.7 1396.0,349.6 1404.0,348.5 1412.0,347.4 1420.0,346.4 1428.0,345.4 1436.0,344.4 1444.0,343.5 1452.0,342.5 1460.0,341.6 1468.0,340.7 1476.0,339.9 1484.0,339.0 1492.0,338.2 1500.0,337.4 1508.0,336.5 1516.0,335.7 1524.0,335.0 1532.0,334.2 1540.0,333.4 1548.0,332.7 1556.0,331.9 1564.0,331.2 1572.0,330.4 1580.0,329.7 1588.0,329.0 1596.0,328.3 1604.0,327.5 1612.0,326.8 1620.0,326.1 1628.0,325.4 1636.0,324.7 1644.0,324.0 1652.0,323.4 1660.0,322.7 1668.0,322.0 1676.0,321.3 1684.0,320.6 1692.0,319.9 1700.0,319.3 1708.0,318.6 1716.0,317.9 1724.0,317.2 1732.0,316.6 1740.0,315.9 1748.0,315.2 1756.0,314.6 1764.0,313.9 1772.0,313.3 1780.0,312.6 1788.0,311.9 1796.0,311.3 1804.0,310.6 1812.0,309.9 1820.0,309.3 1828.0,308.6"/>
<polyline stroke="#0000ff" stroke-width="4.4" points="280.0,729.3 280.5,743.8 281.0,733.5 281.5,737.3 282.0,739.3 282.5,737.2 283.0,735.2 283.5,746.3 284.0,745.3 284.5,734.4 285.0,757.4 285.5,750.9 286.0,742.9 286.5,752.6 287.0,746.6 287.5,748.5 288.0,754.6 288.5,743.4 289.0,751.4 289.5,754.7 290.0,754.0 290.5,745.5 291.0,752.7 291.5,739.0 292.0,746.9 292.5,749.9 293.0,740.0 293.5,746.9 294.0,756.6 294.5,760.7 295.0,750.9 295.5,751.6 296.0,742.5 296.5,741.6 297.0,740.7 297.5,751.5 298.0,751.7 298.5,744.1 299.0,741.0 299.5,749.1 300.0,747.7 300.5,746.0 301.0,753.3 301.5,746.7 302.0,747.0 302.5,741.8 303.0,747.5 303.5,754.9 304.0,747.8 304.5,748.3 305.0,750.5 305.5,749.4 306.0,749.9 306.5,750.5 307.0,750.1 307.5,742.3 308.0,748.2 308.5,737.8 309.0,747.7 309.5,739.0 310.0,745.9 310.5,748.1 311.0,742.2 311.5,744.4 312.0,736.8 312.5,741.2 313.0,748.7 313.5,739.0 314.0,748.1 314.5,738.7 315.0,741.1 315.5,739.6 316.0,744.9 316.5,747.9 317.0,740.6 317.5,745.4 318.0,754.6 318.5,744.7 319.0,742.7 319.5,750.2 320.0,746.3 320.5,743.6 321.0,737.9 321.5,750.8 322.0,743.5 322.5,747.6 323.0,742.8 323.5,756.0 324.0,753.0 324.5,753.1 325.0,748.0 325.5,750.9 326.0,753.1 326.5,752.5 327.0,749.0 327.5,746.7 328.0,745.2 328.5,741.8 329.0,739.8 329.5,747.1 330.0,743.3 330.5,733.6 331.0,743.2 331.5,747.6 332.0,741.0 332.5,733.3 333.0,741.8 333.5,748.0 334.0,745.5 334.5,741.7 335.0,754.0 335.5,753.4 336.0,742.4 336.5,748.4 337.0,746.5 337.5,749.4 338.0,752.2 338.5,749.2 339.0,744.6 339.5,742.0 340.0,740.7 340.5,745.2 341.0,751.2 341.5,746.4 342.0,745.9 342.5,746.6 343.0,745.7 343.5,749.3 344.0,739.8 344.5,734.2 345.0,743.1 345.5,739.2 346.0,754.0 346.5,745.7 347.0,745.3 347.5,739.4 348.0,750.1 348.5,744.4 349.0,754.0 349.5,752.3 350.0,745.0 350.5,751.2 351.0,735.1 351.5,744.6 352.0,755.0 352.5,752.9 353.0,749.5 353.5,748.4 354.0,742.1 354.5,743.7 355.0,752.2 355.5,760.2 356.0,741.1 356.5,757.2 357.0,756.3 357.5,758.7 358.0,748.5 358.5,749.7 359.0,751.8 359.5,746.6 360.0,744.4 360.5,745.9 361.0,749.2 361.5,751.7 362.0,749.9 362.5,751.1 363.0,747.3 363.5,747.2 364.0,757.6 364.5,753.1 365.0,752.1 365.5,758.0 366.0,759.1 366.5,762.2 367.0,752.9 367.5,750.3 368.0,751.1 368.5,749.7 369.0,755.5 369.5,749.1 370.0,749.9 370.5,747.0 371.0,754.9 371.5,736.1 372.0,749.4 372.5,751.7 373.0,741.1 373.5,757.8 374.0,745.8 374.5,746.0 375.0,741.5 375.5,752.4 376.0,748.7 376.5,743.8 377.0,749.9 377.5,750.9 378.0,753.3 378.5,749.0 379.0,742.5 379.5,744.5 380.0,737.0 380.5,744.5 381.0,752.7 381.5,751.5 382.0,749.1 382.5,747.8 383.0,757.9 383.5,751.3 384.0,755.2 384.5,752.3 385.0,747.0 385.5,758.4 386.0,743.5 386.5,742.3 387.0,746.3 387.5,742.9 388.0,743.2 388.5,742.1 389.0,749.4 389.5,745.2 390.0,747.0 390.5,735.7 391.0,740.2 391.5,749.9 392.0,736.7 392.5,750.1 393.0,738.1 393.5,744.7 394.0,738.8 394.5,744.1 395.0,738.1 395.5,741.6 396.0,750.2 396.5,740.0 397.0,751.2 397.5,738.5 398.0,734.2 398.5,741.6 399.0,738.9 399.5,752.0 400.0,747.2 400.5,748.3 401.0,745.7 401.5,755.1 402.0,746.1 402.5,745.8 403.0,738.2 403.5,738.9 404.0,745.2 404.5,749.5 405.0,749.4 405.5,738.9 406.0,746.2 406.5,743.9 407.0,736.5 407.5,744.9 408.0,731.4 408.5,745.3 409.0,758.7 409.5,739.7 410.0,746.1 410.5,735.2 411.0,740.9 411.5,748.7 412.0,739.3 412.5,746.0 413.0,744.2 413.5,743.7 414.0,746.8 414.5,747.4 415.0,752.7 415.5,751.3 416.0,744.3 416.5,753.5 417.0,754.7 417.5,740.2 418.0,752.4 418.5,753.5 419.0,754.3 419.5,752.4 420.0,742.8 420.5,748.1 421.0,738.6 421.5,749.2 422.0,759.7 422.5,753.2 423.0,755.0 423.5,747.8 424.0,745.6 424.5,744.1 425.0,749.6 425.5,745.7 426.0,746.8 426.5,756.9 427.0,741.6 427.5,742.0 428.0,744.5 428.5,746.7 429.0,744.3 429.5,737.7 430.0,746.0 430.5,744.9 431.0,746.8 431.5,738.5 432.0,745.3 432.5,744.5 433.0,738.6 433.5,740.5 434.0,739.0 434.5,748.9 435.0,725.0 435.5,733.3 436.0,731.6 436.5,739.5 437.0,738.8 437.5,740.5 438.0,745.2 438.5,732.3 439.0,735.9 439.5,739.4 440.0,735.4 440.5,744.4 441.0,744.2 441.5,739.3 442.0,733.8 442.5,750.9 443.0,746.0 443.5,747.0 444.0,745.0 444.5,743.5 445.0,748.5 445.5,744.4 446.0,740.9 446.5,747.9 447.0,744.6 447.5,739.7 448.0,738.9 448.5,748.9 449.0,746.2 449.5,752.8 450.0,740.0 450.5,739.2 451.0,745.3 451.5,751.2 452.0,745.8 452.5,744.6 453.0,753.9 453.5,739.4 454.0,735.9 454.5,737.8 455.0,740.3 455.5,743.1 456.0,746.8 456.5,744.6 457.0,750.4 457.5,738.1 458.0,752.8 458.5,739.4 459.0,749.0 459.5,738.0 460.0,744.5 460.5,743.7 461.0,747.2 461.5,747.9 462.0,743.7 462.5,744.1 463.0,746.5 463.5,736.9 464.0,741.4 464.5,736.1 465.0,743.6 465.5,755.5 466.0,748.3 466.5,740.3 467.0,741.2 467.5,750.3 468.0,743.0 468.5,737.5 469.0,740.4 469.5,740.5 470.0,740.1 470.5,748.2 471.0,746.5 471.5,738.6 472.0,744.8 472.5,742.3 473.0,742.4 473.5,741.2 474.0,757.9 474.5,747.6 475.0,751.5 475.5,754.8 476.0,749.0 476.5,753.2 477.0,753.6 477.5,752.4 478.0,762.1 478.5,752.0 479.0,749.1 479.5,753.5 480.0,758.5 480.5,754.0 481.0,747.7 481.5,744.6 482.0,744.2 482.5,745.2 483.0,749.9 483.5,752.4 484.0,735.8 484.5,746.7 485.0,740.9 485.5,749.4 486.0,750.3 486.5,741.8 487.0,743.5 487.5,740.0 488.0,745.1 488.5,736.3 489.0,738.9 489.5,740.9 490.0,750.9 490.5,757.1 491.0,744.2 491.5,738.6 492.0,744.5 492.5,739.9 493.0,746.0 493.5,739.7 494.0,744.0 494.5,745.9 495.0,748.8 495.5,745.0 496.0,752.3 496.5,746.3 497.0,734.6 497.5,749.3 498.0,743.5 498.5,740.2 499.0,752.6 499.5,739.1 500.0,746.3 500.5,741.9 501.0,753.7 501.5,743.9 502.0,747.9 502.5,739.7 503.0,754.5 503.5,741.1 504.0,752.2 504.5,752.6 505.0,753.0 505.5,760.6 506.0,739.1 506.5,747.8 507.0,746.8 507.5,749.1 508.0,751.6 508.5,747.0 509.0,742.4 509.5,745.8 510.0,753.4 510.5,741.1 511.0,746.7 511.5,742.4 512.0,751.9 512.5,736.9 513.0,743.6 513.5,745.3 514.0,745.9 514.5,757.5 515.0,753.1 515.5,739.8 516.0,755.8 516.5,739.2 517.0,735.2 517.5,739.0 518.0,748.3 518.5,750.7 519.0,734.9 519.5,748.9 520.0,745.3 520.5,749.5 521.0,742.4 521.5,751.2 522.0,750.1 522.5,739.9 523.0,753.2 523.5,745.6 524.0,748.5 524.5,751.7 525.0,738.5 525.5,742.8 526.0,737.9 526.5,737.4 527.0,744.5 527.5,744.1 528.0,750.7 528.5,750.1 529.0,743.3 529.5,738.4 530.0,759.1 530.5,752.6 531.0,742.0 531.5,737.3 532.0,740.9 532.5,745.5 533.0,750.2 533.5,749.2 534.0,747.4 534.5,744.7 535.0,747.7 535.5,745.4 536.0,747.4 536.5,746.3 537.0,750.7 537.5,738.1 538.0,747.5 538.5,748.7 539.0,743.2 539.5,748.6 540.0,742.8 540.5,745.2 541.0,747.4 541.5,746.4 542.0,744.0 542.5,752.9 543.0,748.1 543.5,748.8 544.0,747.2 544.5,742.5 545.0,740.9 545.5,748.8 546.0,741.7 546.5,734.9 547.0,732.0 547.5,744.6 548.0,739.4 548.5,743.0 549.0,739.3 549.5,740.8 550.0,741.4 550.5,734.5 551.0,742.3 551.5,746.6 552.0,746.1 552.5,733.4 553.0,734.7 553.5,735.3 554.0,740.7 554.5,747.6 555.0,744.6 555.5,735.1 556.0,745.6 556.5,749.7 557.0,743.1 557.5,756.0 558.0,743.3 558.5,751.9 559.0,758.4 559.5,739.5 560.0,745.6 560.5,749.6 561.0,763.5 561.5,736.6 562.0,749.8 562.5,748.1 563.0,743.7 563.5,743.1 564.0,742.4 564.5,745.5 565.0,741.0 565.5,756.2 566.0,743.6 566.5,746.4 567.0,745.3 567.5,746.4 568.0,749.8 568.5,744.7 569.0,748.8 569.5,759.6 570.0,755.8 570.5,747.8 571.0,753.1 571.5,744.5 572.0,749.1 572.5,741.5 573.0,742.8 573.5,745.8 574.0,756.0 574.5,753.0 575.0,754.7 575.5,752.1 576.0,753.8 576.5,753.7 577.0,755.0 577.5,751.7 578.0,744.4 578.5,745.5 579.0,757.0 579.5,756.9 580.0,751.6 580.5,740.7 581.0,756.8 581.5,749.4 582.0,747.3 582.5,749.0 583.0,748.0 583.5,759.0 584.0,757.6 584.5,742.7 585.0,747.9 585.5,749.8 586.0,755.3 586.5,734.5 587.0,752.2 587.5,755.3 588.0,744.8 588.5,746.9 589.0,754.1 589.5,750.4 590.0,741.3 590.5,738.5 591.0,741.7 591.5,741.0 592.0,747.1 592.5,744.1 593.0,746.7 593.5,750.8 594.0,755.4 594.5,747.1 595.0,736.6 595.5,753.4 596.0,746.4 596.5,753.8 597.0,746.0 597.5,749.0 598.0,747.1 598.5,747.6 599.0,754.8 599.5,744.8 600.0,749.8 600.5,749.9 601.0,747.8 601.5,737.5 602.0,750.6 602.5,734.9 603.0,742.4 603.5,747.0 604.0,754.5 604.5,755.6 605.0,755.5 605.5,753.2 606.0,747.8 606.5,756.0 607.0,748.3 607.5,755.2 608.0,738.3 608.5,744.8 609.0,746.3 609.5,750.7 610.0,736.7 610.5,753.8 611.0,754.5 611.5,753.9 612.0,746.1 612.5,755.7 613.0,744.4 613.5,752.7 614.0,748.4 614.5,747.7 615.0,747.0 615.5,747.7 616.0,753.4 616.5,754.8 617.0,755.3 617.5,753.7 618.0,755.0 618.5,753.4 619.0,760.5 619.5,749.5 620.0,747.5 620.5,751.4 621.0,743.1 621.5,750.4 622.0,752.6 622.5,747.0 623.0,749.2 623.5,755.2 624.0,751.3 624.5,754.3 625.0,758.7 625.5,749.6 626.0,745.7 626.5,751.4 627.0,753.2 627.5,740.8 628.0,753.0 628.5,748.3 629.0,747.3 629.5,745.3 630.0,747.4 630.5,753.6 631.0,750.1 631.5,752.1 632.0,746.2 632.5,755.9 633.0,752.9 633.5,746.1 634.0,731.5 634.5,746.3 635.0,761.2 635.5,747.5 636.0,740.3 636.5,754.2 637.0,742.8 637.5,749.1 638.0,751.4 638.5,740.8 639.0,749.9 639.5,756.1 640.0,747.8 640.5,752.5 641.0,749.6 641.5,753.7 642.0,758.2 642.5,741.8 643.0,747.4 643.5,751.4 644.0,747.2 644.5,746.2 645.0,749.8 645.5,750.7 646.0,750.2 646.5,755.8 647.0,757.8 647.5,756.8 648.0,757.7 648.5,760.1 649.0,746.7 649.5,751.9 650.0,753.2 650.5,754.0 651.0,742.4 651.5,760.8 652.0,746.3 652.5,752.0 653.0,754.1 653.5,756.4 654.0,747.1 654.5,748.4 655.0,752.2 655.5,752.8 656.0,753.9 656.5,748.8 657.0,745.9 657.5,741.7 658.0,756.8 658.5,739.8 659.0,753.9 659.5,750.4 660.0,753.4 660.5,756.9 661.0,760.5 661.5,750.6 662.0,752.4 662.5,740.7 663.0,751.8 663.5,747.6 664.0,752.4 664.5,761.3 665.0,755.2 665.5,761.1 666.0,754.6 666.5,757.6 667.0,754.3 667.5,742.0 668.0,751.2 668.5,753.7 669.0,754.4 669.5,754.4 670.0,753.5 670.5,758.4 671.0,755.2 671.5,749.5 672.0,755.0 672.5,740.0 673.0,748.9 673.5,749.4 674.0,756.7 674.5,747.4 675.0,742.1 675.5,750.3 676.0,757.8 676.5,746.2 677.0,747.1 677.5,745.6 678.0,746.5 678.5,753.2 679.0,755.9 679.5,748.5 680.0,745.9 680.5,756.2 681.0,747.5 681.5,746.4 682.0,745.3 682.5,746.6 683.0,749.6 683.5,746.3 684.0,750.9 684.5,749.4 685.0,751.6 685.5,746.4 686.0,749.5 686.5,751.2 687.0,749.2 687.5,749.3 688.0,755.7 688.5,745.1 689.0,739.2 689.5,752.9 690.0,747.5 690.5,755.2 691.0,747.9 691.5,742.8 692.0,760.8 692.5,751.8 693.0,747.5 693.5,747.0 694.0,753.0 694.5,744.5 695.0,749.5 695.5,753.6 696.0,740.1 696.5,745.2 697.0,749.0 697.5,755.7 698.0,750.0 698.5,742.0 699.0,752.5 699.5,742.8 700.0,743.0 700.5,745.0 701.0,738.3 701.5,759.7 702.0,749.9 702.5,745.0 703.0,741.5 703.5,737.8 704.0,745.9 704.5,746.9 705.0,740.6 705.5,740.9 706.0,744.7 706.5,743.6 707.0,733.3 707.5,746.5 708.0,744.3 708.5,746.5 709.0,739.0 709.5,730.9 710.0,736.6 710.5,746.0 711.0,753.9 711.5,754.1 712.0,743.0 712.5,733.8 713.0,739.8 713.5,744.3 714.0,744.9 714.5,744.1 715.0,750.0 715.5,738.3 716.0,730.9 716.5,737.2 717.0,736.6 717.5,754.6 718.0,741.3 718.5,734.9 719.0,746.6 719.5,749.2 720.0,744.0 720.5,745.0 721.0,749.6 721.5,746.6 722.0,739.3 722.5,744.7 723.0,747.8 723.5,745.4 724.0,748.4 724.5,746.6 725.0,742.7 725.5,743.6 726.0,747.1 726.5,740.2 727.0,750.0 727.5,751.2 728.0,733.7 728.5,744.9 729.0,741.2 729.5,741.5 730.0,746.2 730.5,743.0 731.0,748.2 731.5,747.5 732.0,747.8 732.5,741.8 733.0,743.8 733.5,753.3 734.0,733.2 734.5,755.6 735.0,742.9 735.5,751.7 736.0,731.9 736.5,743.1 737.0,749.1 737.5,745.6 738.0,750.0 738.5,739.5 739.0,740.9 739.5,739.2 740.0,746.6 740.5,745.8 741.0,742.7 741.5,741.3 742.0,740.9 742.5,743.3 743.0,736.5 743.5,740.3 744.0,739.5 744.5,737.8 745.0,735.0 745.5,747.2 746.0,736.2 746.5,741.7 747.0,747.8 747.5,745.6 748.0,742.4 748.5,748.3 749.0,735.9 749.5,736.6 750.0,741.1 750.5,742.9 751.0,742.4 751.5,752.9 752.0,751.5 752.5,742.6 753.0,744.5 753.5,738.6 754.0,744.7 754.5,736.5 755.0,750.3 755.5,739.5 756.0,745.6 756.5,735.3 757.0,750.5 757.5,747.0 758.0,753.5 758.5,742.8 759.0,734.1 759.5,735.0 760.0,734.2 760.5,747.7 761.0,735.4 761.5,734.4 762.0,742.1 762.5,739.7 763.0,741.3 763.5,736.2 764.0,726.2 764.5,728.5 765.0,723.9 765.5,741.0 766.0,739.8 766.5,732.8 767.0,737.5 767.5,739.1 768.0,738.5 768.5,738.8 769.0,740.2 769.5,735.5 770.0,724.3 770.5,722.9 771.0,743.8 771.5,739.7 772.0,724.3 772.5,738.3 773.0,730.4 773.5,735.7 774.0,723.5 774.5,742.8 775.0,737.3 775.5,741.1 776.0,744.7 776.5,746.2 777.0,747.5 777.5,741.0 778.0,740.3 778.5,736.0 779.0,742.8 779.5,737.3 780.0,731.7 780.5,743.1 781.0,739.3 781.5,721.6 782.0,725.5 782.5,733.5 783.0,726.6 783.5,739.3 784.0,733.7 784.5,736.8 785.0,739.0 785.5,741.1 786.0,733.9 786.5,736.3 787.0,735.1 787.5,738.3 788.0,737.4 788.5,742.6 789.0,738.1 789.5,733.6 790.0,736.7 790.5,729.6 791.0,737.1 791.5,743.6 792.0,733.0 792.5,727.3 793.0,736.7 793.5,732.5 794.0,735.7 794.5,732.5 795.0,737.0 795.5,733.6 796.0,745.7 796.5,736.0 797.0,739.4 797.5,739.6 798.0,734.0 798.5,738.2 799.0,734.9 799.5,732.7 800.0,732.6 800.5,736.3 801.0,727.0 801.5,727.6 802.0,727.0 802.5,728.1 803.0,737.7 803.5,732.4 804.0,730.5 804.5,733.2 805.0,737.6 805.5,729.1 806.0,738.7 806.5,720.1 807.0,726.3 807.5,737.2 808.0,739.3 808.5,731.5 809.0,728.9 809.5,735.2 810.0,728.4 810.5,738.4 811.0,735.8 811.5,735.9 812.0,728.5 812.5,736.7 813.0,730.4 813.5,732.1 814.0,730.9 814.5,732.6 815.0,736.0 815.5,736.3 816.0,737.1 816.5,750.0 817.0,730.7 817.5,737.6 818.0,728.1 818.5,730.8 819.0,727.0 819.5,740.0 820.0,734.2 820.5,733.8 821.0,732.5 821.5,737.5 822.0,729.8 822.5,733.8 823.0,744.6 823.5,728.7 824.0,725.6 824.5,723.9 825.0,733.7 825.5,728.9 826.0,725.0 826.5,724.9 827.0,728.8 827.5,723.6 828.0,739.6 828.5,728.3 829.0,727.9 829.5,729.6 830.0,720.4 830.5,723.0 831.0,727.7 831.5,728.8 832.0,722.6 832.5,737.3 833.0,729.5 833.5,734.7 834.0,734.5 834.5,727.0 835.0,742.5 835.5,731.5 836.0,720.3 836.5,718.5 837.0,730.3 837.5,734.6 838.0,730.5 838.5,743.6 839.0,727.2 839.5,732.8 840.0,734.0 840.5,724.6 841.0,731.5 841.5,730.5 842.0,734.9 842.5,739.2 843.0,733.9 843.5,724.8 844.0,732.9 844.5,735.6 845.0,730.7 845.5,734.4 846.0,733.7 846.5,735.8 847.0,729.2 847.5,730.8 848.0,729.2 848.5,728.4 849.0,725.2 849.5,726.4 850.0,722.2 850.5,727.8 851.0,733.6 851.5,732.7 852.0,732.9 852.5,727.1 853.0,735.6 853.5,726.8 854.0,732.6 854.5,730.2 855.0,724.0 855.5,723.5 856.0,730.3 856.5,726.0 857.0,726.9 857.5,741.4 858.0,728.3 858.5,727.2 859.0,730.0 859.5,722.7 860.0,725.7 860.5,729.1 861.0,721.6 861.5,725.4 862.0,724.7 862.5,726.6 863.0,715.8 863.5,734.1 864.0,724.7 864.5,728.0 865.0,719.4 865.5,716.6 866.0,724.2 866.5,722.9 867.0,728.7 867.5,721.4 868.0,721.3 868.5,728.0 869.0,728.9 869.5,730.1 870.0,727.4 870.5,728.8 871.0,723.0 871.5,734.6 872.0,733.3 872.5,732.3 873.0,718.3 873.5,731.9 874.0,723.1 874.5,729.2 875.0,729.0 875.5,732.9 876.0,725.1 876.5,724.8 877.0,721.4 877.5,721.0 878.0,729.2 878.5,721.7 879.0,729.0 879.5,722.6 880.0,721.9 880.5,730.3 881.0,731.7 881.5,721.9 882.0,725.2 882.5,725.1 883.0,728.0 883.5,720.3 884.0,721.7 884.5,722.8 885.0,726.7 885.5,727.5 886.0,719.9 886.5,731.4 887.0,723.7 887.5,716.3 888.0,712.2 888.5,717.9 889.0,706.5 889.5,719.5 890.0,722.0 890.5,725.3 891.0,720.5 891.5,709.9 892.0,717.6 892.5,722.8 893.0,707.8 893.5,714.8 894.0,721.7 894.5,718.3 895.0,708.1 895.5,717.3 896.0,719.9 896.5,730.7 897.0,718.0 897.5,714.4 898.0,721.9 898.5,722.6 899.0,723.7 899.5,728.5 900.0,720.1 900.5,713.1 901.0,721.5 901.5,721.0 902.0,726.0 902.5,725.0 903.0,717.3 903.5,725.5 904.0,726.3 904.5,719.4 905.0,724.6 905.5,721.2 906.0,721.0 906.5,720.1 907.0,725.7 907.5,734.6 908.0,720.1 908.5,713.0 909.0,717.3 909.5,716.5 910.0,720.6 910.5,717.6 911.0,732.6 911.5,723.6 912.0,728.9 912.5,715.8 913.0,719.1 913.5,732.6 914.0,712.7 914.5,722.6 915.0,716.0 915.5,731.9 916.0,716.1 916.5,721.7 917.0,722.8 917.5,714.9 918.0,736.5 918.5,723.7 919.0,732.4 919.5,720.2 920.0,717.7 920.5,727.3 921.0,727.7 921.5,742.9 922.0,721.7 922.5,720.0 923.0,723.6 923.5,730.0 924.0,732.7 924.5,724.1 925.0,728.7 925.5,733.0 926.0,736.8 926.5,728.3 927.0,731.6 927.5,716.8 928.0,726.7 928.5,735.4 929.0,734.0 929.5,732.7 930.0,742.8 930.5,731.5 931.0,728.1 931.5,736.6 932.0,737.8 932.5,731.1 933.0,743.2 933.5,747.2 934.0,736.3 934.5,733.7 935.0,738.1 935.5,744.6 936.0,735.6 936.5,735.0 937.0,735.2 937.5,738.8 938.0,738.9 938.5,737.9 939.0,744.7 939.5,750.7 940.0,736.2 940.5,744.5 941.0,740.2 941.5,755.7 942.0,735.4 942.5,739.4 943.0,742.5 943.5,734.3 944.0,738.9 944.5,744.0 945.0,732.4 945.5,739.4 946.0,747.8 946.5,736.5 947.0,735.7 947.5,727.0 948.0,739.8 948.5,732.4 949.0,743.5 949.5,750.9 950.0,745.3 950.5,737.2 951.0,745.1 951.5,739.6 952.0,736.1 952.5,739.2 953.0,744.2 953.5,741.5 954.0,747.7 954.5,756.2 955.0,747.3 955.5,747.6 956.0,740.7 956.5,750.5 957.0,745.8 957.5,750.6 958.0,740.9 958.5,747.1 959.0,732.9 959.5,743.3 960.0,740.0 960.5,739.3 961.0,754.6 961.5,737.1 962.0,742.9 962.5,743.2 963.0,746.9 963.5,747.4 964.0,735.3 964.5,741.3 965.0,740.4 965.5,746.8 966.0,747.5 966.5,741.2 967.0,742.5 967.5,740.1 968.0,748.6 968.5,755.4 969.0,748.6 969.5,742.2 970.0,742.1 970.5,741.0 971.0,736.5 971.5,754.0 972.0,746.0 972.5,743.6 973.0,756.9 973.5,746.2 974.0,754.9 974.5,749.0 975.0,753.3 975.5,750.0 976.0,746.5 976.5,751.7 977.0,751.6 977.5,753.4 978.0,748.9 978.5,745.4 979.0,743.2 979.5,747.1 980.0,741.5 980.5,742.8 981.0,746.8 981.5,745.9 982.0,746.0 982.5,740.2 983.0,736.9 983.5,745.8 984.0,745.6 984.5,741.7 985.0,745.3 985.5,748.4 986.0,741.8 986.5,743.0 987.0,734.2 987.5,736.9 988.0,733.2 988.5,729.4 989.0,738.4 989.5,721.8 990.0,735.1 990.5,739.4 991.0,737.1 991.5,726.6 992.0,735.7 992.5,724.5 993.0,729.2 993.5,742.1 994.0,734.4 994.5,743.2 995.0,726.9 995.5,721.9 997.0,738.0 999.5,690.0 1000.5,560.0 1001.0,360.0 1003.4,207.0 1006.4,173.6 1009.2,140.0 1013.4,120.0 1014.0,120.1 1014.5,118.0 1015.0,115.5 1015.5,121.9 1016.0,116.2 1016.5,114.9 1017.0,119.0 1017.5,116.2 1018.0,119.6 1018.5,118.5 1019.0,106.9 1019.5,108.6 1020.0,117.1 1020.5,109.2 1021.0,115.1 1021.5,107.5 1022.0,99.4 1022.5,100.1 1023.0,108.1 1023.5,108.9 1024.0,123.3 1024.5,114.4 1025.0,114.1 1025.5,115.8 1026.0,101.5 1026.5,109.5 1027.0,107.6 1027.5,117.8 1028.0,102.8 1028.5,98.3 1029.0,106.9 1029.5,104.9 1030.0,106.1 1030.5,107.0 1031.0,106.3 1031.5,102.1 1032.0,103.6 1032.5,117.8 1033.0,101.9 1033.5,108.2 1034.0,99.2 1034.5,95.9 1035.0,109.6 1035.5,105.5 1036.0,110.7 1036.5,108.7 1037.0,105.1 1037.5,99.5 1038.0,115.1 1038.5,105.3 1039.0,116.9 1039.5,109.7 1040.0,112.1 1040.5,110.6 1041.0,107.4 1041.5,104.0 1042.0,117.8 1042.5,100.3 1043.0,96.9 1043.5,106.8 1044.0,99.6 1044.5,109.5 1045.0,102.3 1045.5,108.6 1046.0,101.2 1046.5,95.8 1047.0,97.4 1047.5,101.9 1048.0,95.6 1048.5,94.9 1049.0,97.9 1049.5,99.7 1050.0,103.8 1050.5,98.6 1051.0,100.4 1051.5,94.8 1052.0,103.8 1052.5,105.7 1053.0,90.9 1053.5,95.9 1054.0,93.4 1054.5,95.0 1055.0,92.0 1055.5,89.4 1056.0,87.5 1056.5,90.8 1057.0,94.2 1057.5,98.0 1058.0,96.6 1058.5,90.8 1059.0,90.4 1059.5,86.8 1060.0,98.0 1060.5,94.7 1061.0,97.3 1061.5,98.0 1062.0,96.5 1062.5,93.9 1063.0,92.8 1063.5,87.4 1064.0,90.0 1064.5,94.9 1065.0,105.8 1065.5,90.7 1066.0,94.2 1066.5,110.5 1067.0,93.5 1067.5,90.6 1068.0,92.5 1068.5,91.9 1069.0,81.3 1069.5,97.5 1070.0,82.7 1070.5,89.0 1071.0,89.3 1071.5,93.9 1072.0,90.7 1072.5,88.2 1073.0,86.1 1073.5,93.2 1074.0,87.5 1074.5,84.9 1075.0,81.3 1075.5,84.6 1076.0,90.6 1076.5,82.1 1077.0,89.4 1077.5,90.3 1078.0,96.9 1078.5,86.9 1079.0,85.3 1079.5,89.3 1080.0,86.7 1080.5,72.9 1081.0,94.4 1081.5,90.0 1082.0,88.8 1082.5,84.5 1083.0,89.6 1083.5,85.5 1084.0,95.3 1084.5,91.0 1085.0,95.0 1085.5,81.3 1086.0,85.5 1086.5,87.3 1087.0,86.0 1087.5,98.1 1088.0,92.4 1088.5,85.2 1089.0,91.6 1089.5,103.2 1090.0,90.7 1090.5,96.5 1091.0,83.7 1091.5,90.2 1092.0,92.5 1092.5,94.3 1093.0,94.8 1093.5,96.0 1094.0,101.7 1094.5,86.5 1095.0,96.9 1095.5,101.2 1096.0,99.1 1096.5,103.9 1097.0,96.8 1097.5,96.4 1098.0,94.0 1098.5,103.8 1099.0,92.9 1099.5,98.0 1100.0,98.7 1100.5,101.5 1101.0,96.6 1101.5,92.1 1102.0,99.6 1102.5,90.2 1103.0,93.3 1103.5,87.5 1104.0,99.7 1104.5,97.4 1105.0,88.4 1105.5,97.1 1106.0,101.7 1106.5,95.0 1107.0,89.8 1107.5,98.0 1108.0,101.7 1108.5,89.2 1109.0,103.0 1109.5,96.9 1110.0,102.1 1110.5,92.5 1111.0,104.2 1111.5,101.2 1112.0,103.9 1112.5,100.7 1113.0,105.4 1113.5,99.8 1114.0,97.2 1114.5,93.6 1115.0,89.8 1115.5,98.4 1116.0,96.1 1116.5,98.0 1117.0,96.8 1117.5,99.2 1118.0,97.0 1118.5,93.7 1119.0,101.9 1119.5,108.6 1120.0,93.1 1120.5,96.3 1121.0,102.8 1121.5,96.9 1122.0,106.5 1122.5,96.9 1123.0,92.5 1123.5,94.5 1124.0,105.5 1124.5,88.1 1125.0,99.9 1125.5,88.7 1126.0,106.3 1126.5,103.9 1127.0,106.0 1127.5,112.5 1128.0,102.2 1128.5,109.4 1129.0,105.4 1129.5,107.5 1130.0,99.6 1130.5,109.6 1131.0,101.4 1131.5,112.5 1132.0,109.3 1132.5,104.1 1133.0,107.1 1133.5,107.0 1134.0,104.9 1134.5,118.3 1135.0,100.1 1135.5,96.2 1136.0,97.2 1136.5,104.3 1137.0,105.1 1137.5,109.4 1138.0,111.4 1138.5,109.0 1139.0,107.9 1139.5,103.7 1140.0,113.5 1140.5,115.1 1141.0,108.2 1141.5,113.3 1142.0,106.1 1142.5,109.8 1143.0,111.8 1143.5,116.9 1144.0,104.8 1144.5,114.4 1145.0,117.7 1145.5,114.5 1146.0,116.8 1146.5,99.8 1147.0,108.0 1147.5,111.5 1148.0,110.3 1148.5,101.6 1149.0,120.9 1149.5,114.4 1150.0,101.9 1150.5,109.3 1151.0,112.2 1151.5,117.6 1152.0,115.8 1152.5,107.3 1153.0,108.7 1153.5,114.6 1154.0,118.4 1154.5,110.9 1155.0,110.4 1155.5,116.0 1156.0,114.2 1156.5,119.1 1157.0,116.2 1157.5,119.6 1158.0,103.8 1158.5,107.8 1159.0,107.0 1159.5,111.0 1160.0,115.8 1160.5,111.8 1161.0,115.2 1161.5,110.2 1162.0,119.9 1162.5,118.5 1163.0,104.8 1163.5,107.9 1164.0,110.2 1164.5,118.0 1165.0,118.0 1165.5,122.4 1166.0,103.7 1166.5,112.6 1167.0,110.8 1167.5,108.7 1168.0,108.6 1168.5,99.4 1169.0,111.9 1169.5,107.4 1170.0,102.5 1170.5,116.7 1171.0,105.9 1171.5,110.5 1172.0,105.1 1172.5,100.7 1173.0,107.6 1173.5,109.9 1174.0,102.5 1174.5,112.0 1175.0,117.9 1175.5,115.2 1176.0,107.9 1176.5,104.3 1177.0,113.9 1177.5,101.6 1178.0,103.6 1178.5,118.4 1179.0,109.8 1179.5,111.2 1180.0,107.3 1180.5,124.5 1181.0,125.7 1181.5,108.0 1182.0,113.5 1182.5,107.7 1183.0,112.5 1183.5,117.3 1184.0,116.1 1184.5,109.0 1185.0,111.0 1185.5,124.8 1186.0,114.6 1186.5,117.6 1187.0,114.4 1187.5,110.7 1188.0,105.1 1188.5,106.4 1189.0,103.5 1189.5,106.9 1190.0,108.8 1190.5,118.3 1191.0,105.4 1191.5,115.9 1192.0,103.3 1192.5,128.1 1193.0,110.3 1193.5,113.9 1194.0,122.7 1194.5,111.1 1195.0,112.0 1195.5,112.7 1196.0,116.1 1196.5,108.9 1197.0,123.4 1197.5,120.8 1198.0,115.1 1198.5,120.2 1199.0,111.7 1199.5,109.6 1200.0,111.5 1200.5,115.2 1201.0,102.8 1201.5,108.7 1202.0,112.6 1202.5,103.5 1203.0,112.5 1203.5,105.8 1204.0,112.0 1204.5,110.3 1205.0,112.4 1205.5,106.3 1206.0,99.6 1206.5,96.3 1207.0,130.4 1207.5,101.9 1208.0,105.4 1208.5,101.8 1209.0,116.7 1209.5,116.0 1210.0,114.0 1210.5,102.3 1211.0,115.3 1211.5,105.1 1212.0,116.3 1212.5,108.8 1213.0,97.6 1213.5,110.2 1214.0,104.7 1214.5,123.3 1215.0,101.8 1215.5,106.6 1216.0,107.2 1216.5,103.4 1217.0,104.4 1217.5,108.6 1218.0,111.0 1218.5,106.9 1219.0,108.5 1219.5,109.7 1220.0,103.7 1220.5,107.5 1221.0,110.1 1221.5,115.0 1222.0,114.5 1222.5,113.7 1223.0,115.4 1223.5,105.8 1224.0,116.3 1224.5,107.6 1225.0,108.0 1225.5,107.3 1226.0,114.4 1226.5,107.8 1227.0,114.6 1227.5,109.8 1228.0,108.4 1228.5,114.2 1229.0,108.1 1229.5,120.8 1230.0,110.0 1230.5,110.4 1231.0,119.4 1231.5,104.7 1232.0,118.6 1232.5,113.2 1233.0,112.3 1233.5,112.1 1234.0,105.3 1234.5,118.6 1235.0,112.8 1235.5,113.5 1236.0,113.0 1236.5,113.0 1237.0,110.1 1237.5,102.8 1238.0,100.0 1238.5,99.3 1239.0,104.0 1239.5,112.5 1240.0,100.6 1240.5,105.9 1241.0,111.2 1241.5,104.9 1242.0,106.3 1242.5,103.5 1243.0,110.8 1243.5,107.0 1244.0,105.7 1244.5,108.0 1245.0,113.8 1245.5,119.0 1246.0,107.0 1246.5,117.5 1247.0,109.0 1247.5,104.9 1248.0,112.6 1248.5,118.2 1249.0,115.6 1249.5,117.7 1250.0,105.1 1250.5,123.1 1251.0,120.2 1251.5,119.4 1252.0,106.8 1252.5,118.1 1253.0,111.8 1253.5,112.2 1254.0,114.8 1254.5,105.6 1255.0,120.9 1255.5,120.2 1256.0,119.4 1256.5,121.7 1257.0,104.0 1257.5,110.6 1258.0,110.2 1258.5,104.8 1259.0,115.8 1259.5,125.4 1260.0,105.6 1260.5,114.6 1261.0,111.4 1261.5,112.3 1262.0,111.5 1262.5,115.0 1263.0,107.6 1263.5,109.5 1264.0,121.8 1264.5,114.5 1265.0,114.8 1265.5,106.0 1266.0,117.3 1266.5,118.2 1267.0,116.5 1267.5,123.8 1268.0,105.7 1268.5,122.6 1269.0,108.4 1269.5,113.1 1270.0,108.6 1270.5,124.8 1271.0,119.5 1271.5,117.6 1272.0,119.8 1272.5,108.4 1273.0,117.4 1273.5,122.0 1274.0,117.2 1274.5,120.1 1275.0,112.1 1275.5,120.6 1276.0,117.6 1276.5,118.9 1277.0,127.1 1277.5,118.7 1278.0,116.0 1278.5,119.4 1279.0,110.9 1279.5,126.3 1280.0,116.5 1280.5,116.5 1281.0,119.5 1281.5,109.7 1282.0,115.9 1282.5,114.2 1283.0,128.2 1283.5,125.5 1284.0,128.2 1284.5,118.5 1285.0,117.7 1285.5,122.6 1286.0,114.2 1286.5,112.8 1287.0,126.1 1287.5,121.8 1288.0,122.2 1288.5,110.8 1289.0,117.2 1289.5,117.0 1290.0,115.9 1290.5,123.3 1291.0,116.9 1291.5,115.4 1292.0,133.3 1292.5,125.7 1293.0,117.5 1293.5,135.9 1294.0,128.3 1294.5,127.3 1295.0,109.5 1295.5,131.9 1296.0,124.6 1296.5,132.2 1297.0,136.4 1297.5,119.7 1298.0,135.9 1298.5,131.0 1299.0,126.5 1299.5,112.7 1300.0,135.6 1300.5,125.3 1301.0,127.0 1301.5,118.3 1302.0,127.5 1302.5,126.4 1303.0,130.5 1303.5,117.6 1304.0,110.7 1304.5,119.5 1305.0,118.3 1305.5,123.2 1306.0,120.5 1306.5,122.7 1307.0,129.2 1307.5,130.8 1308.0,122.6 1308.5,113.4 1309.0,121.7 1309.5,121.1 1310.0,122.1 1310.5,121.4 1311.0,122.6 1311.5,110.1 1312.0,125.4 1312.5,126.8 1313.0,125.8 1313.5,121.7 1314.0,127.9 1314.5,116.2 1315.0,126.1 1315.5,130.3 1316.0,125.5 1316.5,128.5 1317.0,134.8 1317.5,129.7 1318.0,126.5 1318.5,129.4 1319.0,134.6 1319.5,128.6 1320.0,134.0 1320.5,131.6 1321.0,134.7 1321.5,138.6 1322.0,139.2 1322.5,136.3 1323.0,137.7 1323.5,140.6 1324.0,132.5 1324.5,137.0 1325.0,131.0 1325.5,143.7 1326.0,137.9 1326.5,130.9 1327.0,135.3 1327.5,142.7 1328.0,139.7 1328.5,128.1 1329.0,146.2 1329.5,138.3 1330.0,140.0 1330.5,137.1 1331.0,135.0 1331.5,125.8 1332.0,139.3 1332.5,138.1 1333.0,137.8 1333.5,142.7 1334.0,141.2 1334.5,134.1 1335.0,136.9 1335.5,146.4 1336.0,132.7 1336.5,152.7 1337.0,138.1 1337.5,156.3 1338.0,144.7 1338.5,132.0 1339.0,144.3 1339.5,141.5 1340.0,139.1 1340.5,142.1 1341.0,142.4 1341.5,124.0 1342.0,145.2 1342.5,139.2 1343.0,140.3 1343.5,144.0 1344.0,141.7 1344.5,135.4 1345.0,146.0 1345.5,140.6 1346.0,145.4 1346.5,140.6 1347.0,143.9 1347.5,140.0 1348.0,154.5 1348.5,141.4 1349.0,152.3 1349.5,137.3 1350.0,150.4 1350.5,148.6 1351.0,155.4 1351.5,152.4 1352.0,162.5 1352.5,166.4 1353.0,148.0 1353.5,154.7 1354.0,145.0 1354.5,145.3 1355.0,150.2 1355.5,155.6 1356.0,153.9 1356.5,150.2 1357.0,157.5 1357.5,145.2 1358.0,146.8 1358.5,151.1 1359.0,142.9 1359.5,160.1 1360.0,153.0 1360.5,151.5 1361.0,155.6 1361.5,146.8 1362.0,153.3 1362.5,145.2 1363.0,153.8 1363.5,155.3 1364.0,164.9 1364.5,157.1 1365.0,165.8 1365.5,158.9 1366.0,151.9 1366.5,165.4 1367.0,162.5 1367.5,160.3 1368.0,168.9 1368.5,158.1 1369.0,161.0 1369.5,166.4 1370.0,166.6 1370.5,159.3 1371.0,164.9 1371.5,162.9 1372.0,166.4 1372.5,162.3 1373.0,152.3 1373.5,160.8 1374.0,171.0 1374.5,159.6 1375.0,162.6 1375.5,169.2 1376.0,164.0 1376.5,160.7 1377.0,165.7 1377.5,165.0 1378.0,161.1 1378.5,165.5 1379.0,159.3 1379.5,157.6 1380.0,160.4 1380.5,166.4 1381.0,169.0 1381.5,166.2 1382.0,177.3 1382.5,174.8 1383.0,172.5 1383.5,178.8 1384.0,180.4 1384.5,176.6 1385.0,171.5 1385.5,180.1 1386.0,182.3 1386.5,176.9 1387.0,174.1 1387.5,177.3 1388.0,176.8 1388.5,164.6 1389.0,184.0 1389.5,176.8 1390.0,189.4 1390.5,178.7 1391.0,174.7 1391.5,184.2 1392.0,181.5 1392.5,186.3 1393.0,180.4 1393.5,180.5 1394.0,178.9 1394.5,179.5 1395.0,184.9 1395.5,176.5 1396.0,183.9 1396.5,188.1 1397.0,177.1 1397.5,180.2 1398.0,176.7 1398.5,179.3 1399.0,183.2 1399.5,185.1 1400.0,187.3 1400.5,180.3 1401.0,187.5 1401.5,180.4 1402.0,176.8 1402.5,177.7 1403.0,172.1 1403.5,183.3 1404.0,173.7 1404.5,186.4 1405.0,199.1 1405.5,180.4 1406.0,174.7 1406.5,188.6 1407.0,181.5 1407.5,187.7 1408.0,188.2 1408.5,190.5 1409.0,201.9 1409.5,193.3 1410.0,193.7 1410.5,192.8 1411.0,188.9 1411.5,189.9 1412.0,187.5 1412.5,197.3 1413.0,191.2 1413.5,196.1 1414.0,194.4 1414.5,206.0 1415.0,194.4 1415.5,199.1 1416.0,192.9 1416.5,201.0 1417.0,193.9 1417.5,195.3 1418.0,188.4 1418.5,198.9 1419.0,205.1 1419.5,204.0 1420.0,192.0 1420.5,202.8 1421.0,194.6 1421.5,190.1 1422.0,194.0 1422.5,207.4 1423.0,200.8 1423.5,195.7 1424.0,203.9 1424.5,205.0 1425.0,203.1 1425.5,207.6 1426.0,203.8 1426.5,212.5 1427.0,209.8 1427.5,204.9 1428.0,205.0 1428.5,208.4 1429.0,203.1 1429.5,207.1 1430.0,203.3 1430.5,201.9 1431.0,194.8 1431.5,196.6 1432.0,197.8 1432.5,203.7 1433.0,217.8 1433.5,198.6 1434.0,201.1 1434.5,197.5 1435.0,202.4 1435.5,203.5 1436.0,209.3 1436.5,196.3 1437.0,206.5 1437.5,204.9 1438.0,201.9 1438.5,196.8 1439.0,197.8 1439.5,202.5 1440.0,208.4 1440.5,204.7 1441.0,200.0 1441.5,206.1 1442.0,198.3 1442.5,208.8 1443.0,219.4 1443.5,201.5 1444.0,211.5 1444.5,201.7 1445.0,208.2 1445.5,210.4 1446.0,213.6 1446.5,207.0 1447.0,214.8 1447.5,201.8 1448.0,207.8 1448.5,210.3 1449.0,211.0 1449.5,211.5 1450.0,222.0 1450.5,210.1 1451.0,218.8 1451.5,216.8 1452.0,226.3 1452.5,215.7 1453.0,221.8 1453.5,220.5 1454.0,199.8 1454.5,219.5 1455.0,223.9 1455.5,228.1 1456.0,212.3 1456.5,216.2 1457.0,223.5 1457.5,211.0 1458.0,212.2 1458.5,220.0 1459.0,220.1 1459.5,223.5 1460.0,223.8 1460.5,219.6 1461.0,212.5 1461.5,214.2 1462.0,217.2 1462.5,220.7 1463.0,218.3 1463.5,221.9 1464.0,213.7 1464.5,214.4 1465.0,209.6 1465.5,228.5 1466.0,218.4 1466.5,225.4 1467.0,226.4 1467.5,220.2 1468.0,218.6 1468.5,217.6 1469.0,219.1 1469.5,212.0 1470.0,219.8 1470.5,227.0 1471.0,224.6 1471.5,227.5 1472.0,226.0 1472.5,226.4 1473.0,223.7 1473.5,224.9 1474.0,229.7 1474.5,221.6 1475.0,216.0 1475.5,227.8 1476.0,224.0 1476.5,231.3 1477.0,222.9 1477.5,218.1 1478.0,225.6 1478.5,222.7 1479.0,222.8 1479.5,239.1 1480.0,232.7 1480.5,225.5 1481.0,224.4 1481.5,232.3 1482.0,235.7 1482.5,234.2 1483.0,238.8 1483.5,234.7 1484.0,234.8 1484.5,220.2 1485.0,238.4 1485.5,229.0 1486.0,238.0 1486.5,224.8 1487.0,228.9 1487.5,241.2 1488.0,227.8 1488.5,234.3 1489.0,231.8 1489.5,242.9 1490.0,234.9 1490.5,240.5 1491.0,233.3 1491.5,223.0 1492.0,243.7 1492.5,230.3 1493.0,231.9 1493.5,231.9 1494.0,223.6 1494.5,237.2 1495.0,230.9 1495.5,225.3 1496.0,228.2 1496.5,224.9 1497.0,232.9 1497.5,237.2 1498.0,233.1 1498.5,237.9 1499.0,236.8 1499.5,241.7 1500.0,239.7 1500.5,239.5 1501.0,235.5 1501.5,234.2 1502.0,236.9 1502.5,244.1 1503.0,238.6 1503.5,249.3 1504.0,245.6 1504.5,232.6 1505.0,243.4 1505.5,247.4 1506.0,238.9 1506.5,249.5 1507.0,236.8 1507.5,252.0 1508.0,247.3 1508.5,243.4 1509.0,235.1 1509.5,243.2 1510.0,239.3 1510.5,246.7 1511.0,239.3 1511.5,247.1 1512.0,240.8 1512.5,247.2 1513.0,252.2 1513.5,246.4 1514.0,249.2 1514.5,252.2 1515.0,242.1 1515.5,251.5 1516.0,249.2 1516.5,258.0 1517.0,249.4 1517.5,256.7 1518.0,241.4 1518.5,257.2 1519.0,253.2 1519.5,252.8 1520.0,255.7 1520.5,243.7 1521.0,250.8 1521.5,251.6 1522.0,250.6 1522.5,248.6 1523.0,257.4 1523.5,252.8 1524.0,252.5 1524.5,253.6 1525.0,259.9 1525.5,263.2 1526.0,259.4 1526.5,256.2 1527.0,245.5 1527.5,249.3 1528.0,248.0 1528.5,246.8 1529.0,258.0 1529.5,248.6 1530.0,259.3 1530.5,252.2 1531.0,251.7 1531.5,252.1 1532.0,246.3 1532.5,252.8 1533.0,259.3 1533.5,258.9 1534.0,254.8 1534.5,257.6 1535.0,255.3 1535.5,256.3 1536.0,267.6 1536.5,256.9 1537.0,246.0 1537.5,243.0 1538.0,250.4 1538.5,257.1 1539.0,263.1 1539.5,257.8 1540.0,259.0 1540.5,263.6 1541.0,255.5 1541.5,259.9 1542.0,263.4 1542.5,259.8 1543.0,256.1 1543.5,264.1 1544.0,266.3 1544.5,260.8 1545.0,248.3 1545.5,258.1 1546.0,261.6 1546.5,267.9 1547.0,263.5 1547.5,264.6 1548.0,272.2 1548.5,272.4 1549.0,267.2 1549.5,261.0 1550.0,260.0 1550.5,269.6 1551.0,261.1 1551.5,265.9 1552.0,265.2 1552.5,266.6 1553.0,269.3 1553.5,262.0 1554.0,264.1 1554.5,270.2 1555.0,269.9 1555.5,261.5 1556.0,279.6 1556.5,262.3 1557.0,275.0 1557.5,259.6 1558.0,273.4 1558.5,258.6 1559.0,273.9 1559.5,269.5 1560.0,273.3 1560.5,266.5 1561.0,272.1 1561.5,273.0 1562.0,272.7 1562.5,268.4 1563.0,279.3 1563.5,262.2 1564.0,263.7 1564.5,264.6 1565.0,279.5 1565.5,267.8 1566.0,268.1 1566.5,267.9 1567.0,270.8 1567.5,271.7 1568.0,270.0 1568.5,265.2 1569.0,275.5 1569.5,273.9 1570.0,281.6 1570.5,274.9 1571.0,269.8 1571.5,263.0 1572.0,271.1 1572.5,273.3 1573.0,278.9 1573.5,271.3 1574.0,274.0 1574.5,273.3 1575.0,278.0 1575.5,275.0 1576.0,269.1 1576.5,259.8 1577.0,277.2 1577.5,268.1 1578.0,264.5 1578.5,261.2 1579.0,258.9 1579.5,270.7 1580.0,269.8 1580.5,272.3 1581.0,278.2 1581.5,267.5 1582.0,272.1 1582.5,268.7 1583.0,268.7 1583.5,261.0 1584.0,270.0 1584.5,280.9 1585.0,271.7 1585.5,277.0 1586.0,276.5 1586.5,286.6 1587.0,284.6 1587.5,273.4 1588.0,274.1 1588.5,283.8 1589.0,278.8 1589.5,277.6 1590.0,286.6 1590.5,278.7 1591.0,276.7 1591.5,290.8 1592.0,275.5 1592.5,266.5 1593.0,276.1 1593.5,276.4 1594.0,285.6 1594.5,277.7 1595.0,272.6 1595.5,278.1 1596.0,268.6 1596.5,272.6 1597.0,277.6 1597.5,271.7 1598.0,265.0 1598.5,271.3 1599.0,272.7 1599.5,280.3 1600.0,274.8 1600.5,277.5 1601.0,272.6 1601.5,279.6 1602.0,276.4 1602.5,282.9 1603.0,281.2 1603.5,288.5 1604.0,283.9 1604.5,278.1 1605.0,274.5 1605.5,281.4 1606.0,284.0 1606.5,289.8 1607.0,278.1 1607.5,274.4 1608.0,271.7 1608.5,276.5 1609.0,281.3 1609.5,280.2 1610.0,280.0 1610.5,281.9 1611.0,283.5 1611.5,273.4 1612.0,284.3 1612.5,283.2 1613.0,284.0 1613.5,282.7 1614.0,275.1 1614.5,289.4 1615.0,282.6 1615.5,285.0 1616.0,289.2 1616.5,287.3 1617.0,291.0 1617.5,289.8 1618.0,283.5 1618.5,282.1 1619.0,293.2 1619.5,283.7 1620.0,300.2 1620.5,283.5 1621.0,290.4 1621.5,290.2 1622.0,292.2 1622.5,283.1 1623.0,294.5 1623.5,303.0 1624.0,290.0 1624.5,280.8 1625.0,295.9 1625.5,295.5 1626.0,295.9 1626.5,287.9 1627.0,295.5 1627.5,297.8 1628.0,289.4 1628.5,293.8 1629.0,294.9 1629.5,297.2 1630.0,291.2 1630.5,294.0 1631.0,303.5 1631.5,304.5 1632.0,287.6 1632.5,306.0 1633.0,291.6 1633.5,298.0 1634.0,285.7 1634.5,290.8 1635.0,288.5 1635.5,297.0 1636.0,292.7 1636.5,293.4 1637.0,293.3 1637.5,291.8 1638.0,296.0 1638.5,292.9 1639.0,292.6 1639.5,290.1 1640.0,289.1 1640.5,289.4 1641.0,294.5 1641.5,298.8 1642.0,292.5 1642.5,303.1 1643.0,300.5 1643.5,293.5 1644.0,295.0 1644.5,292.5 1645.0,283.2 1645.5,298.1 1646.0,295.0 1646.5,284.7 1647.0,297.6 1647.5,290.3 1648.0,292.0 1648.5,285.1 1649.0,294.7 1649.5,297.3 1650.0,292.8 1650.5,294.7 1651.0,284.4 1651.5,297.8 1652.0,293.9 1652.5,295.6 1653.0,299.3 1653.5,299.7 1654.0,295.1 1654.5,302.0 1655.0,306.5 1655.5,291.8 1656.0,299.5 1656.5,289.4 1657.0,300.5 1657.5,306.5 1658.0,299.5 1658.5,294.4 1659.0,298.0 1659.5,303.9 1660.0,294.3 1660.5,295.1 1661.0,304.7 1661.5,295.4 1662.0,303.2 1662.5,297.2 1663.0,294.3 1663.5,310.1 1664.0,310.8 1664.5,300.2 1665.0,318.3 1665.5,308.6 1666.0,310.7 1666.5,308.2 1667.0,301.6 1667.5,314.5 1668.0,309.3 1668.5,311.6 1669.0,310.1 1669.5,305.1 1670.0,321.3 1670.5,311.4 1671.0,308.4 1671.5,312.8 1672.0,302.8 1672.5,312.3 1673.0,324.9 1673.5,306.2 1674.0,313.1 1674.5,303.8 1675.0,311.1 1675.5,317.3 1676.0,306.0 1676.5,306.4 1677.0,317.0 1677.5,311.8 1678.0,313.4 1678.5,313.3 1679.0,303.2 1679.5,300.1 1680.0,299.1 1680.5,313.6 1681.0,303.7 1681.5,303.3 1682.0,310.6 1682.5,313.1 1683.0,314.8 1683.5,304.4 1684.0,321.2 1684.5,309.4 1685.0,316.6 1685.5,317.1 1686.0,312.3 1686.5,322.4 1687.0,322.5 1687.5,326.8 1688.0,331.2 1688.5,333.5 1689.0,327.1 1689.5,326.8 1690.0,322.1 1690.5,315.9 1691.0,328.2 1691.5,323.7 1692.0,326.2 1692.5,324.5 1693.0,329.6 1693.5,324.5 1694.0,339.3 1694.5,331.1 1695.0,324.6 1695.5,328.5 1696.0,334.5 1696.5,318.8 1697.0,327.2 1697.5,322.3 1698.0,325.8 1698.5,322.3 1699.0,325.2 1699.5,325.6 1700.0,327.2 1700.5,315.6 1701.0,329.6 1701.5,325.4 1702.0,320.9 1702.5,324.4 1703.0,333.0 1703.5,324.0 1704.0,320.3 1704.5,329.0 1705.0,323.8 1705.5,329.7 1706.0,328.0 1706.5,334.3 1707.0,324.3 1707.5,325.9 1708.0,334.5 1708.5,339.6 1709.0,330.2 1709.5,335.7 1710.0,332.9 1710.5,330.1 1711.0,322.5 1711.5,345.7 1712.0,340.8 1712.5,321.8 1713.0,338.5 1713.5,330.8 1714.0,329.8 1714.5,332.8 1715.0,340.3 1715.5,335.8 1716.0,334.9 1716.5,336.0 1717.0,334.8 1717.5,340.9 1718.0,326.8 1718.5,330.5 1719.0,336.5 1719.5,331.7 1720.0,338.8 1720.5,334.5 1721.0,340.4 1721.5,338.5 1722.0,342.4 1722.5,338.9 1723.0,343.2 1723.5,337.0 1724.0,329.7 1724.5,340.6 1725.0,339.4 1725.5,337.5 1726.0,345.6 1726.5,342.4 1727.0,347.5 1727.5,336.9 1728.0,336.0 1728.5,341.2 1729.0,346.9 1729.5,334.6 1730.0,340.6 1730.5,338.4 1731.0,337.2 1731.5,343.5 1732.0,344.4 1732.5,345.3 1733.0,336.6 1733.5,339.9 1734.0,331.9 1734.5,344.2 1735.0,333.4 1735.5,338.2 1736.0,343.8 1736.5,337.8 1737.0,342.0 1737.5,335.0 1738.0,354.6 1738.5,333.8 1739.0,337.0 1739.5,339.8 1740.0,356.0 1740.5,339.1 1741.0,344.3 1741.5,348.9 1742.0,333.8 1742.5,350.1 1743.0,346.8 1743.5,352.8 1744.0,353.4 1744.5,347.5 1745.0,350.6 1745.5,341.7 1746.0,337.2 1746.5,342.1 1747.0,345.0 1747.5,342.6 1748.0,346.9 1748.5,348.4 1749.0,353.8 1749.5,344.4 1750.0,342.5 1750.5,348.0 1751.0,348.8 1751.5,350.1 1752.0,355.9 1752.5,341.7 1753.0,349.0 1753.5,351.9 1754.0,352.5 1754.5,338.0 1755.0,345.5 1755.5,355.3 1756.0,347.5 1756.5,350.5 1757.0,348.0 1757.5,355.3 1758.0,350.3 1758.5,347.7 1759.0,351.0 1759.5,357.4 1760.0,351.8 1760.5,340.1 1761.0,338.4 1761.5,352.7 1762.0,341.5 1762.5,351.4 1763.0,345.5 1763.5,351.8 1764.0,346.9 1764.5,338.8 1765.0,358.5 1765.5,350.7 1766.0,349.3 1766.5,358.5 1767.0,354.0 1767.5,355.5 1768.0,349.7 1768.5,351.0 1769.0,354.9 1769.5,350.0 1770.0,358.8 1770.5,356.0 1771.0,353.1 1771.5,353.5 1772.0,362.0 1772.5,356.1 1773.0,358.1 1773.5,357.8 1774.0,355.2 1774.5,339.9 1775.0,360.6 1775.5,362.4 1776.0,354.5 1776.5,354.3 1777.0,363.6 1777.5,352.6 1778.0,367.4 1778.5,364.0 1779.0,368.7 1779.5,362.6 1780.0,362.4 1780.5,364.1 1781.0,353.4 1781.5,356.8 1782.0,368.5 1782.5,360.5 1783.0,357.7 1783.5,365.4 1784.0,370.7 1784.5,364.0 1785.0,363.6 1785.5,365.8 1786.0,368.2 1786.5,356.8 1787.0,366.3 1787.5,368.0 1788.0,372.3 1788.5,372.1 1789.0,374.3 1789.5,379.9 1790.0,368.6 1790.5,368.5 1791.0,377.9 1791.5,369.3 1792.0,366.2 1792.5,366.6 1793.0,369.0 1793.5,361.9 1794.0,374.9 1794.5,371.1 1795.0,377.2 1795.5,363.9 1796.0,367.4 1796.5,366.4 1797.0,375.9 1797.5,373.1 1798.0,375.8 1798.5,375.8 1799.0,366.7 1799.5,375.0 1800.0,373.9 1800.5,373.5 1801.0,375.7 1801.5,362.2 1802.0,369.2 1802.5,372.3 1803.0,369.3 1803.5,368.5 1804.0,380.0 1804.5,379.4 1805.0,384.3 1805.5,370.2 1806.0,354.9 1806.5,378.8 1807.0,373.1 1807.5,369.3 1808.0,378.8 1808.5,375.1 1809.0,365.9 1809.5,376.2 1810.0,361.3 1810.5,379.6 1811.0,370.5 1811.5,369.0 1812.0,380.2 1812.5,380.7 1813.0,373.8 1813.5,368.8 1814.0,378.2 1814.5,375.5 1815.0,376.6 1815.5,373.8 1816.0,368.8 1816.5,373.8 1817.0,384.2 1817.5,373.8 1818.0,376.5 1818.5,376.4 1819.0,383.0 1819.5,380.2 1820.0,375.5 1820.5,389.1 1821.0,379.7 1821.5,380.3 1822.0,375.5 1822.5,369.5 1823.0,381.1 1823.5,376.1 1824.0,382.5 1824.5,369.8 1825.0,391.0 1825.5,383.7 1826.0,387.8 1826.5,376.3 1827.0,381.8 1827.5,382.1 1828.0,385.6 1828.5,385.2 1829.0,370.2 1829.5,382.4 1830.0,381.2 1830.5,379.0 1831.0,381.4 1831.5,383.4 1832.0,386.4 1832.5,374.6 1833.0,376.9 1833.5,381.9 1834.0,384.7 1834.5,377.9 1835.0,382.2 1835.5,374.9 1836.0,382.1 1836.5,379.8 1837.0,384.3 1837.5,388.5 1838.0,376.6 1838.5,384.1 1839.0,374.0 1839.5,384.4 1840.0,397.4 1840.5,373.8 1841.0,379.3 1841.5,364.6 1842.0,384.7 1842.5,394.0 1843.0,377.2"/>
</g>
<g stroke="#111" stroke-width="1.8">
<rect x="368.7" y="1163.1" width="146.1" height="66.5" fill="#ea9a9b"/>
<rect x="776.4" y="1163.1" width="136.4" height="66.5" fill="#ea9a9b"/>
<rect x="368.7" y="1188.3" width="544.1" height="16.3" fill="#cfe2f3" stroke="#2a2f33"/>
</g>
<path fill="#0000ff" d="M420 1167 V845.2 L395.4 858.8 L424 767 L452.7 858.8 L428.1 845.2 V1167 Z"/>
<path fill="#ff0000" d="M641 1200.5 L638.2 1533.2 L613.7 1519.9 L641.6 1606.5 L671 1520.3 L646.2 1533.2 L649 1200.5 Z"/>
<g stroke="#555" stroke-width="1.6"><line x1="1004.8" y1="823" x2="1004.8" y2="872.5"/><line x1="1004.8" y1="936" x2="1004.8" y2="986"/></g>
<g fill="#1f77b4" stroke="#111" stroke-width="1.8" stroke-linejoin="miter"><path d="M1006 794 L1016.8 822.8 L995.2 822.8 Z"/><path d="M995.2 986 L1016.8 986 L1006 1015 Z"/></g>
<g clip-path="url(#ax)" fill="none" stroke-linejoin="round">
<polyline stroke="#1c9824" stroke-width="3.8" points="1001.2,735 1002.4,790 1003.6,845.5 1004.6,800 1005.6,735 1006.6,690 1007.6,668 1008.8,655"/>
<polyline stroke="#ff0000" stroke-width="3.8" points="1001.2,1200 1002.2,1020 1003.4,993 1004.6,1005 1005.8,1030 1007,1052 1008.5,1068 1010,1080"/>
</g>
<rect x="283.5" y="26.5" width="2.6" height="1731" fill="#808080"/>
<rect x="1894.8" y="26.5" width="3" height="1731" fill="#bbbbbb"/>
<rect x="283.5" y="24.4" width="1614.3" height="2.2" fill="#fbfbfb"/>
<rect x="283.5" y="1754.1" width="1614.3" height="3.3" fill="#2a2a2a"/>
<rect x="283.4" y="1757" width="2.6" height="5.4" fill="#808080"/>
<rect x="624.6" y="1757" width="2.6" height="5.4" fill="#a8a8a8"/>
<rect x="967.9" y="1757" width="2.6" height="5.4" fill="#505050"/>
<rect x="1311.3" y="1757" width="2.6" height="5.4" fill="#585858"/>
<rect x="1654.9" y="1757" width="2.6" height="5.4" fill="#989898"/>
<rect x="277.6" y="67.7" width="6.2" height="2.4" fill="#b8b8b8"/>
<rect x="277.6" y="289.6" width="6.2" height="2.4" fill="#3c3c3c"/>
<rect x="277.6" y="511.0" width="6.2" height="2.4" fill="#a0a0a0"/>
<rect x="277.6" y="733.4" width="6.2" height="2.4" fill="#909090"/>
<rect x="277.6" y="954.7" width="6.2" height="2.4" fill="#3c3c3c"/>
<rect x="277.6" y="1176.5" width="6.2" height="2.4" fill="#c0c0c0"/>
<rect x="277.6" y="1399.2" width="6.2" height="2.4" fill="#484848"/>
<rect x="277.6" y="1620.9" width="6.2" height="2.4" fill="#787878"/>
<g font-size="53.3">
<text x="284.7" y="1809" text-anchor="middle">−200</text>
<text x="625.9" y="1809" text-anchor="middle">−100</text>
<text x="969.2" y="1809" text-anchor="middle">0</text>
<text x="1312.6" y="1809" text-anchor="middle">100</text>
<text x="1656.2" y="1809" text-anchor="middle">200</text>
<text x="271.3" y="88.7" text-anchor="end">−17.5</text>
<text x="271.3" y="310.6" text-anchor="end">−15.0</text>
<text x="271.3" y="532.0" text-anchor="end">−12.5</text>
<text x="271.3" y="754.4" text-anchor="end">−10.0</text>
<text x="271.3" y="975.7" text-anchor="end">−7.5</text>
<text x="271.3" y="1197.5" text-anchor="end">−5.0</text>
<text x="271.3" y="1420.2" text-anchor="end">−2.5</text>
<text x="271.3" y="1641.9" text-anchor="end">0.0</text>
</g>
<text x="1090.1" y="1879.5" font-size="68.2" text-anchor="middle">time [s]</text>
<text transform="translate(84.1 1282.2) rotate(-90)" font-size="68.2">Spectral Shift Δ<tspan class="it">ν</tspan> [GHz]</text>
<rect x="315" y="58.3" width="530" height="284" rx="6" ry="6" fill="#fff" fill-opacity="0.8"/>
<g fill="none" stroke-linecap="butt">
<path d="M315 336.5 V64 Q315 58.3 321 58.3" stroke="#d8d8d8" stroke-width="2.1"/>
<path d="M321 58.3 H839 Q844.9 58.3 844.9 64" stroke="#f3f3f3" stroke-width="2.8"/>
<path d="M844.9 64 V336.5" stroke="#f4f4f4" stroke-width="5"/>
<path d="M315 336.5 Q315 342.2 321 342.2 H838.5" stroke="#d4d4d4" stroke-width="2.6"/>
<path d="M838.5 342.2 Q844.5 342 844.9 336.5" stroke="#e6e6e6" stroke-width="2.6"/>
</g>
<line x1="335.4" y1="105.9" x2="462.3" y2="105.9" stroke="#1010ff" stroke-width="5.5"/>
<line x1="335.4" y1="195.3" x2="462.3" y2="195.3" stroke="#ff0000" stroke-width="3.8"/>
<line x1="335.4" y1="284" x2="462.3" y2="284" stroke="#1c9824" stroke-width="3.8"/>
<g font-size="61.1"><text x="508.2" y="128.4">Coated</text><text x="507.2" y="216.9">Uncoated</text><text x="506.6" y="305.2">Difference</text></g>
<text x="763.5" y="924.1" font-size="61">Addition of Acetone</text>
<text y="677.8" font-size="64.8"><tspan x="1211.3">Δ</tspan><tspan x="1256.4" class="it">ν</tspan></text>
<text x="1289.4" y="688.1" font-size="45.4" class="it" style="font-kerning:none">Strain</text>
<text x="1465.0" y="677.8" font-size="64.8">=</text>
<text x="1521.3" y="677.8" font-size="64.8" textLength="45.1" lengthAdjust="spacingAndGlyphs">−</text>
<text x="1563.1" y="677.8" font-size="64.8">3.6 GHz</text>
<text y="751.5" font-size="64.8"><tspan x="1212.2" class="it">τ</tspan></text>
<text x="1247.6" y="761.8" font-size="45.4" class="it" style="font-kerning:none">ch</text>
<text x="1323.6" y="751.5" font-size="64.8">=</text>
<text x="1397.5" y="751.5" font-size="64.8">29.4s</text>
<text y="1167.8" font-size="64.8"><tspan x="1211.3">Δ</tspan><tspan x="1256.4" class="it">ν</tspan></text>
<text x="1291.2" y="1178.1" font-size="45.4" class="it" style="font-kerning:none">Temp</text>
<text x="1437.9" y="1167.8" font-size="64.8">=</text>
<text x="1491.0" y="1167.8" font-size="64.8" textLength="45.1" lengthAdjust="spacingAndGlyphs">−</text>
<text x="1534.7" y="1167.8" font-size="64.8">6.8 GHz</text>
<text y="1248.5" font-size="64.8"><tspan x="1212.2" class="it">τ</tspan></text>
<text x="1247.9" y="1258.8" font-size="45.4" class="it" style="font-kerning:none">th</text>
<text x="1314.7" y="1248.5" font-size="64.8">=</text>
<text x="1390.5" y="1248.5" font-size="64.8">112.8s</text>
</svg></body></html>
